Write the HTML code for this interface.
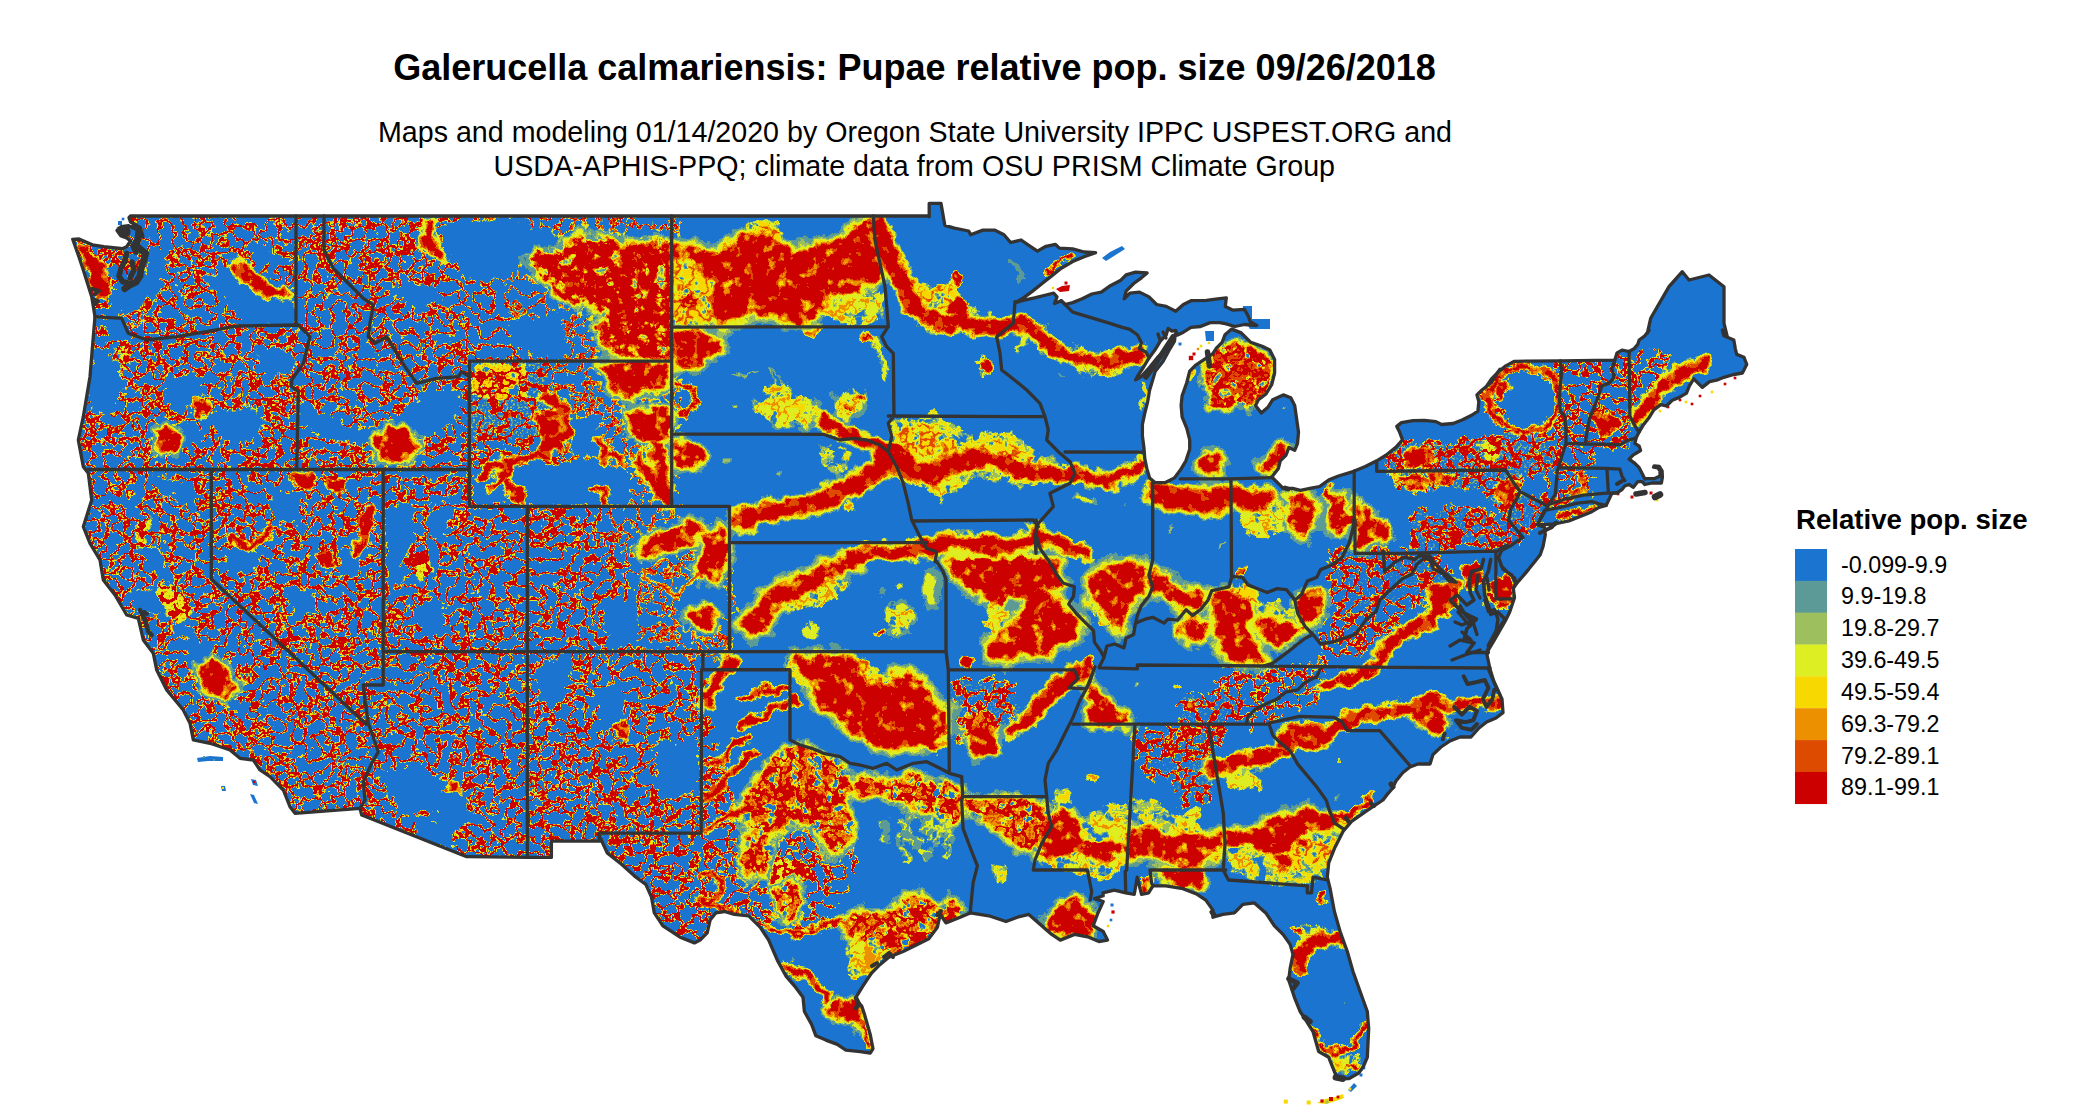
<!DOCTYPE html>
<html><head><meta charset="utf-8"><title>Galerucella calmariensis</title>
<style>
html,body{margin:0;padding:0;background:#fff}
body{width:2099px;height:1116px;overflow:hidden;position:relative;font-family:"Liberation Sans",sans-serif;color:#000}
svg{position:absolute;left:0;top:0}
.title{font:bold 36px "Liberation Sans",sans-serif;text-anchor:middle}
.sub{font:28.63px "Liberation Sans",sans-serif;text-anchor:middle}
.lh{font:bold 27.6px "Liberation Sans",sans-serif}
.lt{font:23.3px "Liberation Sans",sans-serif}
</style></head><body>
<svg width="2099" height="1116" viewBox="0 0 2099 1116">
<defs>
<clipPath id="us"><path d="M130.5,216 928.6,216 929.2,216.7 929.2,203.4 941,203.4 944.8,225.3 954.4,228.2 968.7,231 970.6,234.8 983,230.1 994.4,230.1 1004,234.8 1010.6,242.5 1021.1,240 1028.8,245.3 1037.4,251.1 1046,246.3 1055.5,244.4 1059.3,248.2 1072.7,248.8 1084.1,252 1095.6,252.6 1084.1,256.8 1072.7,261.6 1061.2,268.2 1051.7,275.9 1042.1,283.5 1032.6,291.1 1022.1,298.8 1015.4,302.6 1023.1,300.3 1034.5,297.8 1046,295 1053.6,293.1 1057,296.9 1054.5,303.5 1061.2,300.7 1065,304.5 1072.7,302.6 1082.2,298.8 1091.8,294 1101.3,292.1 1110.8,285.4 1120.4,280.6 1126.1,274.9 1135.6,272.1 1147.1,273 1141.4,277.8 1133.7,283.5 1126.1,291.1 1124.2,298.8 1129.9,293.1 1139.5,292.1 1149,296.9 1156.6,304.5 1166.2,306.4 1175.7,311.2 1183.4,304.5 1191,300.7 1206.3,300.3 1217.7,298.8 1226.3,297.8 1225.3,306.4 1233,310.2 1244.4,309.3 1248.2,316 1250.2,321.7 1256.8,325.5 1244.4,324.5 1234.9,326.5 1225.3,323.6 1219.6,322.6 1210.1,322.6 1200.5,326.5 1191,327.4 1183.4,332.2 1177.6,335 1175.7,330.3 1171.9,331.2 1168.1,328.4 1166.2,335 1160.5,340.8 1154.7,350.3 1149,357.9 1143.3,367.5 1137.6,376.1 1135.6,379.9 1141,376.8 1149.6,367.3 1157.3,357.7 1164.9,350.1 1170.6,341.5 1175.4,333.9 1174.4,341.5 1168.7,351 1163,361.5 1155.3,371.1 1152.5,380.6 1149.6,390.2 1147.7,401.6 1144.8,413.1 1142.4,424.5 1142.4,436 1143.9,447.4 1144.8,458.9 1146.8,468.4 1149.6,477.9 1155.3,482.7 1164.9,482.7 1174.4,477.9 1180.2,470.3 1185.9,460.8 1189.7,449.3 1189.7,439.8 1186.8,428.3 1182.1,416.9 1181.1,405.4 1182.1,395.9 1186.8,382.5 1189.7,371.1 1195.4,365.3 1204,359.6 1212.6,353.9 1216.4,348.2 1222.1,342.4 1225,334.8 1231.7,329.1 1241.2,332.9 1250.8,342.4 1262.2,346.3 1269.8,350.1 1274.6,359.6 1274.6,373 1271.8,384.4 1266,394 1258.4,399.7 1255.5,405.4 1261.3,413.1 1267.9,407.3 1272.7,399.7 1283.2,394.9 1290.8,397.8 1294.7,405.4 1296.6,418.8 1298.5,432.1 1297.5,443.6 1294.7,450.3 1288.9,447.4 1286.1,455 1280.3,460.8 1278.4,468.4 1271.8,477 1283.2,488.4 1292.7,488.4 1300.4,490.3 1309.9,488.4 1319.5,486.5 1329,479.8 1338.5,476 1353.8,471.3 1365.3,466.5 1376.7,460.8 1386.3,455 1395.8,447.4 1402.5,439.8 1399.6,432.1 1396.8,426.4 1401.5,422.6 1413,420.7 1424.4,420.3 1435.9,421.6 1441.6,424.5 1453.1,423.5 1462.6,419.7 1472.1,415 1477.9,411.1 1478.8,401.6 1476.9,394.9 1481.7,390.2 1491.2,382.5 1500,369.2 1485.7,387.4 1491.5,378.8 1498.6,371.6 1505.8,365.9 1514.4,361.3 1560.3,360.8 1614.8,360.1 1617,352.9 1622,350.1 1629.1,351.5 1634.2,348.6 1637.8,344.3 1639.2,340 1644.9,335.7 1649.2,330 1647.3,333.3 1650.7,318.3 1657.3,306.7 1669,286.7 1682.3,271.7 1689,280 1709,275 1724,286.7 1724,323.3 1727.3,336.7 1722.4,330 1723.8,335.7 1733.8,340 1735.3,348.6 1736.7,354.4 1743.9,357.2 1746.7,364.4 1742.4,373 1733.8,374.5 1723.8,377.3 1716.6,380.2 1709.5,381.6 1702.3,387.4 1693.7,378.8 1689.4,385.9 1686.5,393.1 1679.3,397.4 1672.2,400.3 1666.4,406 1660.7,404.6 1653.5,410.3 1649.2,417.5 1643.5,424.7 1639.2,431.8 1636.3,437.6 1634.9,443.3 1639.2,446.2 1640.6,450.5 1633.4,454.8 1629.1,459.1 1634.9,463.4 1639.2,467.7 1642.1,473.4 1644.9,479.1 1646.4,478.7 1654.2,478.7 1660,475.9 1660,470.8 1657.8,468 1653.5,467.2 1654.2,465.8 1659.3,466.5 1662.1,470.8 1662.4,477.3 1661.4,483 1652.1,483 1644.9,484.5 1642.1,481.6 1637.8,481.6 1633.4,487.3 1629.1,484.5 1624.8,485.9 1622,489.5 1617.7,492.3 1611.9,493.3 1606.2,505.3 1599,507.4 1591.9,511.7 1583.3,515.3 1568.9,521 1554.6,523.9 1544.5,524.6 1537.4,524.6 1544.5,527.5 1545.3,534.7 1543.1,546.1 1540.2,554.7 1534.5,561.9 1528.8,569.1 1521.6,577.7 1516.6,583.4 1513.3,588.2 1514.5,597.7 1509.7,612 1505,621.5 1495.4,638.2 1488.3,650.1 1487.1,654.9 1486.6,653 1490,669 1494,682 1500,695 1502,699 1503,712.6 1496,718 1486.6,722 1479,728 1471,737 1460,737 1450,741 1441,747 1433,754.6 1430,764 1418,764 1410,767 1402.7,772.7 1396,781 1392,789 1387,794.7 1383,800 1365.9,811.4 1351.6,821.4 1343,831.4 1334.4,848.6 1328.7,862.9 1327.3,877.2 1330.1,888.6 1334.4,911.5 1340.1,931.5 1347.3,951.5 1353,971.5 1360.1,991.5 1367.3,1011.5 1368.7,1028.7 1367.3,1057.3 1363,1067.3 1358.7,1073 1348.7,1078.7 1337.3,1078.7 1334.4,1071.6 1328.7,1057.3 1318.7,1051.6 1313,1031.6 1305.8,1020.1 1300.1,1011.5 1294.4,997.3 1288.7,980.1 1290.1,968.7 1293,954.4 1290.1,944.4 1283,934.4 1274.4,925.8 1265.8,912.9 1254.4,902.9 1242.9,904.3 1234.4,912.9 1222.9,914.4 1212.9,917.2 1212.9,910.1 1205.8,900.1 1197.2,894.3 1182.9,888.6 1165.8,885.8 1152.9,885.8 1148.6,892.9 1141.5,894.3 1137.2,877.2 1134.3,894.3 1125.7,892.9 1114.3,890.1 1102.9,892.9 1103.2,895.8 1094.6,898.6 1103.2,901.5 1097.4,914.4 1093.2,925.8 1103.2,931.5 1107.5,940.1 1098.9,941.5 1088.9,937.2 1074.6,934.4 1060.3,940.1 1051.7,934.4 1040.3,924.4 1028.8,914.4 1017.4,917.2 1006,921.5 988.8,915.8 970.2,912.9 960.2,917.2 945.9,922.9 940.2,914.4 937.4,927.2 928.8,938.7 917.3,944.4 903.1,951.5 888.8,957.2 880.2,964.4 871.6,973 868.7,977.2 863,985.8 855.9,997.3 857.3,1001.5 861.6,1005.8 864.5,1014.4 870.2,1034.4 873,1048.7 870.2,1053 860.2,1051.6 845.9,1050.1 837.3,1044.4 825.9,1040.1 815.9,1035.8 811.6,1024.4 804.4,1011.5 803,997.3 794.4,985.8 785.8,975.8 777.3,960.1 768.7,940.1 760.1,927.2 748.7,915.8 734.4,914.4 724.4,911.5 715.8,912.9 710.1,920.1 707.2,932.9 700.1,940.1 694.4,942.9 680.1,937.2 662.9,925.8 654.3,912.9 651.5,897.2 645.8,884.3 634.3,875.8 621.5,864.3 607.2,852.9 598.6,834.3 599.9,841.1 551.4,841.1 551.4,857.4 527.2,857.4 466.7,856.7 361.7,815 360,808.3 295,813.3 290,806.7 283.3,790 270,776.7 260,770 253.3,760 240,758.3 230,750 210,743.3 193.3,740 190,723.3 183.3,710 166.7,690 156.7,670 153.3,653.3 143.3,640 138.3,618.3 126.7,615 115,595 103.3,580 100,560 90,543.3 83.3,526.7 91.7,500 88.3,473.3 83.3,466.7 78.3,440 83.3,416.7 90,376.7 93.3,336.7 95,316.7 91.7,296.7 83.3,270 78.3,255 72.7,239.3 79,239 92.4,244.8 103.8,246.7 113.3,247.6 122.9,248.6 126.7,246.7 130.5,241 126.7,238 121,236 117,230.5 121,226.7 128.6,225.7 132.4,227.6 136,224.8 130.5,222 129,217.6Z"/></clipPath>
<filter id="F" x="0" y="0" width="2099" height="1116" filterUnits="userSpaceOnUse" color-interpolation-filters="sRGB">
<feGaussianBlur in="SourceGraphic" stdDeviation="1.6" result="bl0"/>
<feTurbulence type="fractalNoise" baseFrequency="0.07" numOctaves="4" seed="21" result="dn"/>
<feDisplacementMap in="bl0" in2="dn" scale="16" xChannelSelector="R" yChannelSelector="G" result="bl"/>
<feColorMatrix in="bl" type="matrix" values="1 0 0 0 0  1 0 0 0 0  1 0 0 0 0  0 0 0 0 1" result="f"/>
<feColorMatrix in="bl" type="matrix" values="0 1 0 0 0  0 1 0 0 0  0 1 0 0 0  0 0 0 0 1" result="a"/>
<feTurbulence type="fractalNoise" baseFrequency="0.075" numOctaves="3" seed="11" result="t1"/>
<feColorMatrix in="t1" type="matrix" values="2.6 0 0 0 -0.8  2.6 0 0 0 -0.8  2.6 0 0 0 -0.8  0 0 0 0 1" result="n1"/>
<feComponentTransfer in="n1" result="rg">
<feFuncR type="table" tableValues="0.00 0.00 0.00 0.00 0.00 0.00 0.00 0.00 0.00 0.00 0.00 0.00 0.00 0.00 0.00 0.00 0.00 0.00 0.00 0.00 0.00 0.00 0.00 0.00 0.00 0.00 0.00 0.00 0.00 0.00 0.00 0.00 0.00 0.00 0.00 0.00 0.00 0.00 0.00 0.00 0.00 0.00 0.00 0.00 0.00 0.00 0.00 0.00 0.00 0.00 0.00 0.00 0.00 0.00 0.00 0.00 0.00 0.00 0.00 0.00 0.00 0.00 0.00 0.00 0.00 0.00 0.00 0.00 0.00 0.01 0.05 0.09 0.13 0.18 0.22 0.26 0.30 0.35 0.38 0.39 0.40 0.42 0.43 0.44 0.45 0.46 0.47 0.48 0.49 0.51 0.52 0.53 0.54 0.55 0.56 0.57 0.60 0.64 0.69 0.74 0.79 0.83 0.88 0.93 0.97 1.00 1.00 1.00 1.00 1.00 1.00 1.00 1.00 1.00 1.00 1.00 1.00 1.00 1.00 1.00 1.00 1.00 1.00 1.00 1.00 1.00 1.00 1.00 1.00 1.00 1.00 1.00 1.00 1.00 1.00 1.00 1.00 1.00 1.00 1.00 1.00 1.00 1.00 1.00 1.00 1.00 1.00 1.00 1.00 1.00 1.00 0.97 0.93 0.88 0.83 0.79 0.74 0.69 0.64 0.60 0.57 0.56 0.55 0.54 0.53 0.52 0.51 0.49 0.48 0.47 0.46 0.45 0.44 0.43 0.42 0.40 0.39 0.38 0.35 0.30 0.26 0.22 0.18 0.13 0.09 0.05 0.01 0.00 0.00 0.00 0.00 0.00 0.00 0.00 0.00 0.00 0.00 0.00 0.00 0.00 0.00 0.00 0.00 0.00 0.00 0.00 0.00 0.00 0.00 0.00 0.00 0.00 0.00 0.00 0.00 0.00 0.00 0.00 0.00 0.00 0.00 0.00 0.00 0.00 0.00 0.00 0.00 0.00 0.00 0.00 0.00 0.00 0.00 0.00 0.00 0.00 0.00 0.00 0.00 0.00 0.00 0.00 0.00 0.00 0.00 0.00 0.00 0.00 0.00 0.00 0.00 0.00 0.00 0.00 0.00 0.00"/><feFuncG type="table" tableValues="0.00 0.00 0.00 0.00 0.00 0.00 0.00 0.00 0.00 0.00 0.00 0.00 0.00 0.00 0.00 0.00 0.00 0.00 0.00 0.00 0.00 0.00 0.00 0.00 0.00 0.00 0.00 0.00 0.00 0.00 0.00 0.00 0.00 0.00 0.00 0.00 0.00 0.00 0.00 0.00 0.00 0.00 0.00 0.00 0.00 0.00 0.00 0.00 0.00 0.00 0.00 0.00 0.00 0.00 0.00 0.00 0.00 0.00 0.00 0.00 0.00 0.00 0.00 0.00 0.00 0.00 0.00 0.00 0.00 0.01 0.05 0.09 0.13 0.18 0.22 0.26 0.30 0.35 0.38 0.39 0.40 0.42 0.43 0.44 0.45 0.46 0.47 0.48 0.49 0.51 0.52 0.53 0.54 0.55 0.56 0.57 0.60 0.64 0.69 0.74 0.79 0.83 0.88 0.93 0.97 1.00 1.00 1.00 1.00 1.00 1.00 1.00 1.00 1.00 1.00 1.00 1.00 1.00 1.00 1.00 1.00 1.00 1.00 1.00 1.00 1.00 1.00 1.00 1.00 1.00 1.00 1.00 1.00 1.00 1.00 1.00 1.00 1.00 1.00 1.00 1.00 1.00 1.00 1.00 1.00 1.00 1.00 1.00 1.00 1.00 1.00 0.97 0.93 0.88 0.83 0.79 0.74 0.69 0.64 0.60 0.57 0.56 0.55 0.54 0.53 0.52 0.51 0.49 0.48 0.47 0.46 0.45 0.44 0.43 0.42 0.40 0.39 0.38 0.35 0.30 0.26 0.22 0.18 0.13 0.09 0.05 0.01 0.00 0.00 0.00 0.00 0.00 0.00 0.00 0.00 0.00 0.00 0.00 0.00 0.00 0.00 0.00 0.00 0.00 0.00 0.00 0.00 0.00 0.00 0.00 0.00 0.00 0.00 0.00 0.00 0.00 0.00 0.00 0.00 0.00 0.00 0.00 0.00 0.00 0.00 0.00 0.00 0.00 0.00 0.00 0.00 0.00 0.00 0.00 0.00 0.00 0.00 0.00 0.00 0.00 0.00 0.00 0.00 0.00 0.00 0.00 0.00 0.00 0.00 0.00 0.00 0.00 0.00 0.00 0.00 0.00"/><feFuncB type="table" tableValues="0.00 0.00 0.00 0.00 0.00 0.00 0.00 0.00 0.00 0.00 0.00 0.00 0.00 0.00 0.00 0.00 0.00 0.00 0.00 0.00 0.00 0.00 0.00 0.00 0.00 0.00 0.00 0.00 0.00 0.00 0.00 0.00 0.00 0.00 0.00 0.00 0.00 0.00 0.00 0.00 0.00 0.00 0.00 0.00 0.00 0.00 0.00 0.00 0.00 0.00 0.00 0.00 0.00 0.00 0.00 0.00 0.00 0.00 0.00 0.00 0.00 0.00 0.00 0.00 0.00 0.00 0.00 0.00 0.00 0.01 0.05 0.09 0.13 0.18 0.22 0.26 0.30 0.35 0.38 0.39 0.40 0.42 0.43 0.44 0.45 0.46 0.47 0.48 0.49 0.51 0.52 0.53 0.54 0.55 0.56 0.57 0.60 0.64 0.69 0.74 0.79 0.83 0.88 0.93 0.97 1.00 1.00 1.00 1.00 1.00 1.00 1.00 1.00 1.00 1.00 1.00 1.00 1.00 1.00 1.00 1.00 1.00 1.00 1.00 1.00 1.00 1.00 1.00 1.00 1.00 1.00 1.00 1.00 1.00 1.00 1.00 1.00 1.00 1.00 1.00 1.00 1.00 1.00 1.00 1.00 1.00 1.00 1.00 1.00 1.00 1.00 0.97 0.93 0.88 0.83 0.79 0.74 0.69 0.64 0.60 0.57 0.56 0.55 0.54 0.53 0.52 0.51 0.49 0.48 0.47 0.46 0.45 0.44 0.43 0.42 0.40 0.39 0.38 0.35 0.30 0.26 0.22 0.18 0.13 0.09 0.05 0.01 0.00 0.00 0.00 0.00 0.00 0.00 0.00 0.00 0.00 0.00 0.00 0.00 0.00 0.00 0.00 0.00 0.00 0.00 0.00 0.00 0.00 0.00 0.00 0.00 0.00 0.00 0.00 0.00 0.00 0.00 0.00 0.00 0.00 0.00 0.00 0.00 0.00 0.00 0.00 0.00 0.00 0.00 0.00 0.00 0.00 0.00 0.00 0.00 0.00 0.00 0.00 0.00 0.00 0.00 0.00 0.00 0.00 0.00 0.00 0.00 0.00 0.00 0.00 0.00 0.00 0.00 0.00 0.00 0.00"/>
</feComponentTransfer>
<feTurbulence type="fractalNoise" baseFrequency="0.45" numOctaves="1" seed="5" result="t2"/>
<feColorMatrix in="t2" type="matrix" values="3 0 0 0 -1  3 0 0 0 -1  3 0 0 0 -1  0 0 0 0 1" result="n2"/>
<feComposite in="rg" in2="n2" operator="arithmetic" k1="0" k2="1" k3="0.3" k4="-0.15" result="n"/>
<feComposite in="a" in2="n" operator="arithmetic" k1="1" k2="0" k3="0" k4="0" result="an"/>
<feComposite in="f" in2="an" operator="arithmetic" k1="0" k2="0.5" k3="0.5" k4="0.25" result="v"/>
<feColorMatrix in="bl" type="matrix" values="0 0 1 0 0  0 0 1 0 0  0 0 1 0 0  0 0 0 0 1" result="m"/>
<feTurbulence type="fractalNoise" baseFrequency="0.09" numOctaves="3" seed="33" result="t3"/>
<feColorMatrix in="t3" type="matrix" values="1 0 0 0 0  1 0 0 0 0  1 0 0 0 0  0 0 0 0 1" result="t3g"/>
<feComponentTransfer in="t3g" result="n3">
<feFuncR type="table" tableValues="0 0 0 0 0 0 0.35 0.8 1 1 1"/><feFuncG type="table" tableValues="0 0 0 0 0 0 0.35 0.8 1 1 1"/><feFuncB type="table" tableValues="0 0 0 0 0 0 0.35 0.8 1 1 1"/><feFuncA type="table" tableValues="1 1"/>
</feComponentTransfer>
<feComposite in="m" in2="n3" operator="arithmetic" k1="1" k2="0" k3="0" k4="0" result="mn"/>
<feComponentTransfer in="mn" result="mnc"><feFuncR type="table" tableValues="1 0"/><feFuncG type="table" tableValues="1 0"/><feFuncB type="table" tableValues="1 0"/></feComponentTransfer>
<feComposite in="v" in2="mnc" operator="arithmetic" k1="0" k2="1" k3="0.5" k4="-0.5" result="v2"/>
<feComponentTransfer in="v2" result="c">
<feFuncR type="discrete" tableValues="0.106 0.106 0.106 0.106 0.106 0.106 0.106 0.106 0.106 0.106 0.106 0.106 0.106 0.106 0.106 0.106 0.106 0.106 0.106 0.106 0.106 0.357 0.357 0.616 0.867 0.867 0.867 0.969 0.969 0.925 0.925 0.867 0.867 0.867 0.804 0.804 0.804 0.804 0.804 0.804 0.804 0.804 0.804 0.804 0.804 0.804 0.804 0.804 0.804 0.804"/>
<feFuncG type="discrete" tableValues="0.459 0.459 0.459 0.459 0.459 0.459 0.459 0.459 0.459 0.459 0.459 0.459 0.459 0.459 0.459 0.459 0.459 0.459 0.459 0.459 0.459 0.604 0.604 0.749 0.933 0.933 0.933 0.847 0.847 0.565 0.565 0.294 0.294 0.294 0.000 0.000 0.000 0.000 0.000 0.000 0.000 0.000 0.000 0.000 0.000 0.000 0.000 0.000 0.000 0.000"/>
<feFuncB type="discrete" tableValues="0.816 0.816 0.816 0.816 0.816 0.816 0.816 0.816 0.816 0.816 0.816 0.816 0.816 0.816 0.816 0.816 0.816 0.816 0.816 0.816 0.816 0.588 0.588 0.369 0.133 0.133 0.133 0.000 0.000 0.000 0.000 0.000 0.000 0.000 0.000 0.000 0.000 0.000 0.000 0.000 0.000 0.000 0.000 0.000 0.000 0.000 0.000 0.000 0.000 0.000"/>
</feComponentTransfer>
<feComposite in="c" in2="SourceGraphic" operator="in"/>
</filter>
</defs>
<text x="914.5" y="80" class="title">Galerucella calmariensis: Pupae relative pop. size 09/26/2018</text>
<text x="915" y="142" class="sub">Maps and modeling 01/14/2020 by Oregon State University IPPC USPEST.ORG and</text>
<text x="914.3" y="176.3" class="sub">USDA-APHIS-PPQ; climate data from OSU PRISM Climate Group</text>
<g clip-path="url(#us)">
<g filter="url(#F)" stroke-linecap="round" stroke-linejoin="round">
<rect x="0" y="0" width="2099" height="1116" fill="rgb(0,0,0)"/>
<path d="M60,200 470,200 500,300 540,361 545,430 600,506 625,560 640,651 700,660 722,760 745,840 765,900 755,970 700,1000 560,900 300,900 60,600Z" fill="rgb(26,255,0)"/>
<path d="M470,200 680,200 680,520 735,520 735,660 640,655 625,560 600,506 545,430 540,361 500,300Z" fill="rgb(5,217,0)"/>
<path d="M470,360 545,360 560,430 540,440 470,440Z" fill="rgb(76,255,0)"/>
<path d="M956.7,681.7 1010,681.7 1013.3,706.7 1000,740 955,740Z" fill="rgb(64,230,0)" stroke="rgb(64,230,0)" stroke-width="8"/>
<path d="M1320,633.3 1340,610 1365,585 1381.7,568.3 1406.7,560 1439.8,560 1439.8,576.7 1423.3,593.3 1398.3,618.3 1373.3,640 1348.3,660 1323.3,663.3Z" fill="rgb(31,255,0)" stroke="rgb(31,255,0)" stroke-width="6"/>
<path d="M1190,726.7 1206.7,696.7 1223.3,670 1256.7,666.7 1323.3,666.7 1320,680 1290,693.3 1265,710 1248.3,726.7Z" fill="rgb(31,255,0)" stroke="rgb(31,255,0)" stroke-width="6"/>
<path d="M1256.7,706.7 1323.3,676.7 1330,686.7 1298.3,710 1273.3,720 1240,726.7Z" fill="rgb(13,230,0)" stroke="rgb(13,230,0)" stroke-width="6"/>
<path d="M735.7,830.1 852.5,820.6 852.5,863.5 833.5,911.1 790.6,935 747.7,911.1 735.7,873Z" fill="rgb(26,230,0)" stroke="rgb(26,230,0)" stroke-width="8"/>
<path d="M1133.7,730 1200,730 1200,782.4 1152.8,777.7 1136.1,758.6Z" fill="rgb(51,255,0)" stroke="rgb(51,255,0)" stroke-width="6"/>
<path d="M1180,700 1242,700 1227.7,723.8 1211,759.6 1208.6,800.1 1180,804.9Z" fill="rgb(64,255,0)" stroke="rgb(64,255,0)" stroke-width="6"/>
<path d="M1477.8,368.6 1511.1,361.4 1558.8,361.4 1630.3,354.3 1637.4,349.5 1668.4,354.3 1663.7,399.6 1637.4,418.6 1630.3,442.5 1592.2,449.6 1592.2,492.5 1558.8,497.3 1544.5,473.5 1554,454.4 1539.7,435.3 1511.1,432.9 1487.3,418.6Z" fill="rgb(31,255,0)" stroke="rgb(31,255,0)" stroke-width="4"/>
<path d="M1384.8,459.2 1401.5,442.5 1430.1,440.1 1453.9,447.2 1473,440.1 1496.8,432.9 1525.4,435.3 1544.5,444.9 1554,459.2 1544.5,473.5 1515.9,475.8 1520.7,506.8 1511.1,521.1 1496.8,506.8 1482.5,487.8 1453.9,487.8 1425.3,487.8 1401.5,487.8 1389.6,473.5Z" fill="rgb(76,255,0)" stroke="rgb(76,255,0)" stroke-width="4"/>
<path d="M1408.6,516.4 1463.5,506.8 1511.1,521.1 1520.7,537.8 1506.4,549.7 1463.5,545 1425.3,554.5 1408.6,545Z" fill="rgb(64,255,0)" stroke="rgb(64,255,0)" stroke-width="4"/>
<path d="M778.6,808.6 800.1,803.9 819.2,808.6 823.9,825.3 800.1,830.1 781,825.3Z" fill="rgb(0,0,0)"/>
<path d="M107.7,290.6 122,314.4 141,304.9 160.1,285.8 164.9,262 155.3,247.7 148.2,262 141,281 122,290.6Z" fill="rgb(0,0,0)" stroke="rgb(0,0,0)" stroke-width="4"/>
<path d="M226.8,271.5 241.1,262 257.8,276.3 274.5,281 284,295.3 293.6,304.9 293.6,323.9 245.9,323.9 234,309.6 226.8,295.3 212.5,290.6 207.8,276.3Z" fill="rgb(0,0,0)" stroke="rgb(0,0,0)" stroke-width="4"/>
<path d="M248.3,245.3 265,247.7 274.5,257.2 260.2,259.6Z" fill="rgb(0,0,0)" stroke="rgb(0,0,0)" stroke-width="4"/>
<path d="M98.1,319.2 122,319.2 131.5,338.2 107.7,333.5Z" fill="rgb(0,0,0)" stroke="rgb(0,0,0)" stroke-width="4"/>
<path d="M95.7,352.5 114.8,366.8 119.6,390.7 107.7,414.5 93.4,409.7 91,381.1Z" fill="rgb(0,0,0)" stroke="rgb(0,0,0)" stroke-width="4"/>
<path d="M167.2,381.1 193.5,376.4 203,390.7 188.7,405 169.6,400.2Z" fill="rgb(0,0,0)" stroke="rgb(0,0,0)" stroke-width="4"/>
<path d="M212.5,414.5 250.7,409.7 265,424 250.7,438.3 222.1,438.3Z" fill="rgb(0,0,0)" stroke="rgb(0,0,0)" stroke-width="4"/>
<path d="M257.8,357.3 288.8,352.5 288.8,371.6 265,376.4Z" fill="rgb(0,0,0)" stroke="rgb(0,0,0)" stroke-width="4"/>
<path d="M160.1,428.8 193.5,424 203,438.3 174.4,447.9Z" fill="rgb(0,0,0)" stroke="rgb(0,0,0)" stroke-width="4"/>
<path d="M412.7,405 431.8,390.7 450.8,390.7 460.4,405 446.1,424 427,433.6 408,428.8 393.7,424Z" fill="rgb(0,0,0)" stroke="rgb(0,0,0)" stroke-width="4"/>
<path d="M300.7,405 322.2,414.5 346,428.8 377,428.8 393.7,433.6 369.8,443.1 334.1,438.3 303.1,424Z" fill="rgb(0,0,0)" stroke="rgb(0,0,0)" stroke-width="4"/>
<path d="M441.3,228.6 465.1,223.8 500.9,221.4 531.9,228.6 560,238.1 560,252.4 527.1,257.2 512.8,271.5 489,278.6 465.1,271.5 450.8,252.4Z" fill="rgb(0,0,0)" stroke="rgb(0,0,0)" stroke-width="4"/>
<path d="M393.7,290.6 422.2,285.8 441.3,300.1 417.5,309.6Z" fill="rgb(0,0,0)" stroke="rgb(0,0,0)" stroke-width="4"/>
<path d="M512.8,323.9 560,314.4 560,357.3 527.1,352.5 512.8,343Z" fill="rgb(0,0,0)" stroke="rgb(0,0,0)" stroke-width="4"/>
<path d="M274.5,493.4 298.3,495.7 298.3,522 276.9,519.6Z" fill="rgb(0,0,0)" stroke="rgb(0,0,0)" stroke-width="4"/>
<path d="M226.8,550.6 255.4,550.6 255.4,569.6 229.2,569.6Z" fill="rgb(0,0,0)" stroke="rgb(0,0,0)" stroke-width="4"/>
<path d="M341.2,550.6 360.3,552.9 357.9,574.4 341.2,572Z" fill="rgb(0,0,0)" stroke="rgb(0,0,0)" stroke-width="4"/>
<path d="M386.5,507.7 410.3,507.7 410.3,541 393.7,593.5 386.5,541Z" fill="rgb(0,0,0)" stroke="rgb(0,0,0)" stroke-width="4"/>
<path d="M431.8,512.4 446.1,514.8 443.7,531.5 431.8,531.5Z" fill="rgb(0,0,0)" stroke="rgb(0,0,0)" stroke-width="4"/>
<path d="M479.4,474.3 560,476.7 560,495.7 484.2,495.7Z" fill="rgb(0,0,0)" stroke="rgb(0,0,0)" stroke-width="4"/>
<path d="M288.8,593.5 307.9,588.7 312.6,612.5 293.6,614.9Z" fill="rgb(0,0,0)" stroke="rgb(0,0,0)" stroke-width="4"/>
<path d="M417.5,607.8 436.5,603 441.3,626.8 422.2,626.8Z" fill="rgb(0,0,0)" stroke="rgb(0,0,0)" stroke-width="4"/>
<path d="M1513.5,497.3 1544.5,492.5 1544.5,525.9 1520.7,535.4Z" fill="rgb(64,255,0)" stroke="rgb(64,255,0)" stroke-width="4"/>
<path d="M383.3,773.3 416.7,766.7 443.3,780 436.7,806.7 400,813.3Z" fill="rgb(0,0,0)" stroke="rgb(0,0,0)" stroke-width="4"/>
<path d="M436.7,800 463.3,793.3 470,820 443.3,826.7Z" fill="rgb(0,0,0)" stroke="rgb(0,0,0)" stroke-width="4"/>
<path d="M536.7,666.7 570,660 563.3,693.3 540,700Z" fill="rgb(0,0,0)" stroke="rgb(0,0,0)" stroke-width="4"/>
<path d="M596.7,693.3 616.7,686.7 623.3,720 603.3,726.7Z" fill="rgb(0,0,0)" stroke="rgb(0,0,0)" stroke-width="4"/>
<path d="M656.7,746.7 696.7,740 696.7,786.7 663.3,793.3Z" fill="rgb(0,0,0)" stroke="rgb(0,0,0)" stroke-width="4"/>
<path d="M603.3,606.7 630,600 636.7,640 610,646.7Z" fill="rgb(0,0,0)" stroke="rgb(0,0,0)" stroke-width="4"/>
<path d="M676.7,580 716.7,573.3 730,613.3 683.3,620Z" fill="rgb(0,0,0)" stroke="rgb(0,0,0)" stroke-width="4"/>
<path d="M416.7,820 456.7,826.7 450,846.7 423.3,843.3Z" fill="rgb(0,0,0)" stroke="rgb(0,0,0)" stroke-width="4"/>
<path d="M133.3,593.3 160,586.7 160,613.3 136.7,610Z" fill="rgb(0,0,0)" stroke="rgb(0,0,0)" stroke-width="4"/>
<path d="M1501.6,387.7 1515.9,375.7 1539.7,375.7 1551.6,390 1549.3,411.5 1535,425.8 1515.9,423.4 1504,409.1Z" fill="rgb(0,0,0)" stroke="rgb(0,0,0)" stroke-width="4"/>
<path d="M1330,549.7 1387.2,549.7 1430.1,554.5 1453.9,578.3 1425.3,606 1330,606Z" fill="rgb(51,255,0)" stroke="rgb(51,255,0)" stroke-width="4"/>
<path d="M475.4,473.6 513.6,471.7 551.8,466 589.9,462.1 628.1,473.6 628.1,502.2 551.8,504.1 475.4,502.2Z" fill="rgb(0,0,0)" stroke="rgb(0,0,0)" stroke-width="2"/>
<path d="M570.8,420.2 597.6,420.2 597.6,454.5 574.7,454.5Z" fill="rgb(0,0,0)" stroke="rgb(0,0,0)" stroke-width="2"/>
<path d="M155.3,481.4 174.4,488.6 188.7,498.1" stroke="rgb(0,0,0)" stroke-width="16" fill="none"/>
<path d="M152.9,555.3 162.5,572 164.9,583.9" stroke="rgb(0,0,0)" stroke-width="14" fill="none"/>
<path d="M162.5,603 174.4,614.9 183.9,631.6 193.5,645.9 203,660.2" stroke="rgb(0,0,0)" stroke-width="13" fill="none"/>
<path d="M212.5,674.5 226.8,698.3 241.1,712.6" stroke="rgb(0,0,0)" stroke-width="10" fill="none"/>
<path d="M138.6,495.7 131.5,507.7" stroke="rgb(0,0,0)" stroke-width="10" fill="none"/>
<path d="M625.9,278.6 645,276.3 647.3,288.2 630.7,290.6Z" fill="rgb(26,76,0)"/>
<path d="M764.3,865.8 781,858.7 802.5,863.5 812,877.8 795.3,892.1 778.6,896.8 766.7,887.3Z" fill="rgb(140,230,0)" stroke="rgb(140,230,0)" stroke-width="2"/>
<path d="M117.2,347.8 129.1,345.4 131.5,364.4 119.6,366.8Z" fill="rgb(140,230,0)" stroke="rgb(140,230,0)" stroke-width="2"/>
<path d="M474.7,366.8 503.3,366.8 503.3,390.7 484.2,393Z" fill="rgb(140,230,0)" stroke="rgb(140,230,0)" stroke-width="2"/>
<path d="M157.7,583.9 172,588.7 183.9,603 193.5,612.5 179.2,622.1 164.9,612.5Z" fill="rgb(140,230,0)" stroke="rgb(140,230,0)" stroke-width="2"/>
<path d="M136.3,522 145.8,517.2 148.2,538.6 138.6,550.6Z" fill="rgb(140,230,0)" stroke="rgb(140,230,0)" stroke-width="2"/>
<path d="M410.3,555.3 424.6,550.6 431.8,569.6 417.5,579.2Z" fill="rgb(140,230,0)" stroke="rgb(140,230,0)" stroke-width="2"/>
<path d="M690,606.7 720,610 716.7,626.7 693.3,625Z" fill="rgb(140,230,0)" stroke="rgb(140,230,0)" stroke-width="2"/>
<path d="M1477.8,444.9 1496.8,440.1 1501.6,454.4 1487.3,459.2Z" fill="rgb(140,230,0)" stroke="rgb(140,230,0)" stroke-width="2"/>
<path d="M1482.5,583.1 1494.4,580.7 1494.4,602.2 1484.9,602.2Z" fill="rgb(140,230,0)" stroke="rgb(140,230,0)" stroke-width="2"/>
<path d="M833.3,306.7 850,303.3 863.3,316.7 840,318.3Z" fill="rgb(96,0,0)"/>
<path d="M878,223.3 883.3,245 893.3,265 905,286.7 911.7,305" stroke="rgb(96,0,0)" stroke-width="30.04" fill="none"/>
<path d="M911.7,305 926.7,319.3 943.3,323.3 960,320 976.7,326 996.7,327.3 1013.3,324 1030,326.7 1040,336.7 1053.3,348.3 1070,356.7 1090,361.7 1106.7,363.3 1123.3,358.3 1140,354" stroke="rgb(96,0,0)" stroke-width="24.92" fill="none"/>
<path d="M871.7,336.7 880,356.7 886.7,376.7" stroke="rgb(96,0,0)" stroke-width="7.5" fill="none"/>
<path d="M1013.3,263.3 1023.3,273.3 1020,280" stroke="rgb(96,0,0)" stroke-width="9" fill="none"/>
<path d="M1056.7,370 1070,371.7 1068.3,380 1058.3,378.3Z" fill="rgb(96,0,0)"/>
<path d="M753.3,406.7 783.3,386.7 820,403.3 806.7,430 766.7,420Z" fill="rgb(96,0,0)" stroke="rgb(96,0,0)" stroke-width="3.6"/>
<path d="M833.3,396.7 866.7,390 866.7,416.7 840,423.3Z" fill="rgb(96,0,0)" stroke="rgb(96,0,0)" stroke-width="4.8"/>
<path d="M823.3,420 840,430 856.7,438.3 873.3,443.3 886.7,453.3" stroke="rgb(96,0,0)" stroke-width="25.44" fill="none"/>
<path d="M886.7,453.3 880,470 863.3,480 843.3,490 823.3,500 800,505 776.7,510 756.7,515 740,520" stroke="rgb(96,0,0)" stroke-width="32" fill="none"/>
<path d="M1056.7,475 1073.3,473.3 1093.3,478.3 1113.3,480 1130,473.3 1141.7,465" stroke="rgb(96,0,0)" stroke-width="23.6" fill="none"/>
<path d="M1073.3,496.7 1093.3,503.3" stroke="rgb(96,0,0)" stroke-width="9" fill="none"/>
<path d="M773.3,473.3 783.3,473.3" stroke="rgb(96,0,0)" stroke-width="4.5" fill="none"/>
<path d="M920,548.3 940,543.3 966.7,541.7 993.3,546.7 1020,543.3 1040,536.7" stroke="rgb(96,0,0)" stroke-width="28.72" fill="none"/>
<path d="M1040,536.7 1056.7,540 1073.3,550 1086.7,551.7" stroke="rgb(96,0,0)" stroke-width="22.16" fill="none"/>
<path d="M850,556.7 880,551.7 906.7,553.3" stroke="rgb(96,0,0)" stroke-width="24" fill="none"/>
<path d="M1205,376.7 1213.3,356.7 1223.3,346.7 1240,346 1258.3,351.7 1270,363.3 1270,381.7 1260,396.7 1246.7,403.3 1230,408.3 1213.3,403.3 1206.7,390Z" fill="rgb(96,0,0)" stroke="rgb(96,0,0)" stroke-width="17.52"/>
<path d="M1200,466.7 1210,453.3 1220,456.7 1216.7,470 1206.7,473.3Z" fill="rgb(96,0,0)" stroke="rgb(96,0,0)" stroke-width="20.96"/>
<path d="M1260,466.7 1273.3,453.3 1286.7,446.7 1283.3,456.7 1270,470Z" fill="rgb(96,0,0)" stroke="rgb(96,0,0)" stroke-width="20.96"/>
<path d="M1156.7,495 1180,498.3 1206.7,501.7 1226.7,498.3" stroke="rgb(96,0,0)" stroke-width="37.52" fill="none"/>
<path d="M1233.3,498.3 1253.3,500 1266.7,498.3" stroke="rgb(96,0,0)" stroke-width="33.84" fill="none"/>
<path d="M1290,500 1303.3,493.3 1313.3,503.3 1311.7,523.3 1303.3,536.7 1293.3,530Z" fill="rgb(96,0,0)" stroke="rgb(96,0,0)" stroke-width="22.4"/>
<path d="M1263.3,510 1280,510 1276.7,526.7 1263.3,523.3Z" fill="rgb(96,0,0)"/>
<path d="M741.7,623.3 750,613.3 760,606.7 766.7,593.3 781.7,586.7 795,576.7 810,575 818.3,566.7 833.3,563.3 846.7,560 856.7,560 856.7,566.7 846.7,570 833.3,578.3 818.3,585 810,595 795,598.3 781.7,601.7 773.3,615 765,626.7 755,633.3 746.7,631.7Z" fill="rgb(96,0,0)" stroke="rgb(96,0,0)" stroke-width="23.84"/>
<path d="M883.3,606.7 903.3,598.3 918.3,615 910,633.3 890,635Z" fill="rgb(96,0,0)" stroke="rgb(96,0,0)" stroke-width="4.8"/>
<path d="M920,570 936.7,566.7 943.3,586.7 940,613.3 926.7,610 921.7,590Z" fill="rgb(96,0,0)" stroke="rgb(96,0,0)" stroke-width="4.8"/>
<path d="M878.3,592.5 878.7,592.8" stroke="rgb(96,0,0)" stroke-width="12" fill="none"/>
<path d="M948.3,560 1056.7,560 1056.7,570 1061.7,583.3 1053.3,593.3 1045,586.7 1033.3,590 1023.3,598.3 1013.3,593.3 1000,601.7 990,600 980,593.3 970,590 961.7,580 955,570Z" fill="rgb(96,0,0)" stroke="rgb(96,0,0)" stroke-width="22.4"/>
<path d="M986.7,650 1000,633.3 1013.3,626.7 1023.3,610 1030,593.3 1040,590 1053.3,598.3 1066.7,610 1080,623.3 1073.3,638.3 1056.7,643.3 1043.3,653.3 1023.3,653.3 1006.7,660 993.3,658.3Z" fill="rgb(96,0,0)" stroke="rgb(96,0,0)" stroke-width="25.28"/>
<path d="M996.7,581.7 1020,580 1021.7,610 1006.7,616.7 996.7,603.3Z" fill="rgb(96,0,0)"/>
<path d="M795,655 810,660 820,656.7 833.3,655 846.7,658.3 856.7,668.3 863.3,680 873.3,686.7 886.7,683.3 895,675 910,673.3 920,683.3 928.3,693.3 936.7,705 946.7,710 946.7,726.7 936.7,736.7 923.3,745.8 873.3,745.8 866.7,736.7 853.3,730 840,720 830,710 818.3,703.3 813.3,690 806.7,676.7 796.7,666.7Z" fill="rgb(96,0,0)" stroke="rgb(96,0,0)" stroke-width="23.84"/>
<path d="M883.3,686.7 898.3,690 900,701.7 886.7,701.7Z" fill="rgb(96,0,0)"/>
<path d="M1013.3,728.3 1026.7,720 1038.3,708.3 1050,695 1061.7,683.3 1075,675" stroke="rgb(96,0,0)" stroke-width="25.44" fill="none"/>
<path d="M1090,581.7 1100,570 1113.3,565 1130,563.3 1145,566.7 1146.7,580 1140,593.3 1130,603.3 1123.3,616.7 1120,630 1113.3,623.3 1106.7,610 1096.7,603.3 1090,601.7Z" fill="rgb(96,0,0)" stroke="rgb(96,0,0)" stroke-width="23.84"/>
<path d="M1151.7,570 1160,571.7 1170,580 1176.7,588.3 1185,591.7 1196.7,590 1206.7,593.3 1200,605 1190,611.7 1180,606.7 1170,600 1160,593.3 1151.7,586.7Z" fill="rgb(96,0,0)" stroke="rgb(96,0,0)" stroke-width="22.4"/>
<path d="M1213.3,598.3 1223.3,593.3 1236.7,595 1246.7,601.7 1250,613.3 1246.7,626.7 1250,638.3 1258.3,650 1263.3,660 1250,663.3 1236.7,660 1223.3,653.3 1220,640 1216.7,626.7 1213.3,613.3Z" fill="rgb(96,0,0)" stroke="rgb(96,0,0)" stroke-width="23.84"/>
<path d="M1181.7,626.7 1190,618.3 1203.3,623.3 1206.7,633.3 1196.7,640 1185,636.7Z" fill="rgb(96,0,0)" stroke="rgb(96,0,0)" stroke-width="22.4"/>
<path d="M1256.7,623.3 1263.3,615 1273.3,618.3 1281.7,626.7 1290,623.3 1300,630 1290,638.3 1276.7,643.3 1265,638.3Z" fill="rgb(96,0,0)" stroke="rgb(96,0,0)" stroke-width="22.4"/>
<path d="M1296.7,603.3 1305,595 1316.7,593.3 1323.3,603.3 1320,616.7 1310,623.3 1300,616.7Z" fill="rgb(96,0,0)" stroke="rgb(96,0,0)" stroke-width="19.52"/>
<path d="M1381,652.5 1395.3,639.4 1409.6,627.5 1428.7,623.9 1438.2,612 1435.8,600.1 1445.4,590.6 1454.9,583.4" stroke="rgb(96,0,0)" stroke-width="23.08" fill="none"/>
<path d="M1323.3,686.7 1340,680 1356.7,676.7 1373.3,666.7 1383.3,660" stroke="rgb(96,0,0)" stroke-width="19.8" fill="none"/>
<path d="M1415,710 1431.7,726.7 1439.8,730" stroke="rgb(96,0,0)" stroke-width="19.8" fill="none"/>
<path d="M1290,733.3 1306.7,726.7 1323.3,736.7 1340,726.7 1343.3,720" stroke="rgb(96,0,0)" stroke-width="20.72" fill="none"/>
<path d="M1090,686.7 1100,693.3 1111.7,706.7 1126.7,713.3 1130,723.3 1090,723.3Z" fill="rgb(96,0,0)" stroke="rgb(96,0,0)" stroke-width="20.96"/>
<path d="M742.9,806.3 754.8,784.8 778.6,753.8 795.3,746.7 814.4,751.4 833.5,761 843,772.9 852.5,792 843,808.6 852.5,825.3 847.8,844.4 833.5,853.9 823.9,837.2 814.4,825.3 795.3,820.6 778.6,830.1 762,834.9 747.7,825.3Z" fill="rgb(96,0,0)" stroke="rgb(96,0,0)" stroke-width="18.96"/>
<path d="M781,780 800.1,777.7 804.9,792 785.8,794.3Z" fill="rgb(96,0,0)"/>
<path d="M740.5,858.7 750,832.5 766.7,837.2 771.5,853.9 762,873 747.7,877.8Z" fill="rgb(96,0,0)" stroke="rgb(96,0,0)" stroke-width="17.52"/>
<path d="M776.3,887.3 795.3,882.5 800.1,901.6 790.6,920.7 778.6,911.1Z" fill="rgb(96,0,0)" stroke="rgb(96,0,0)" stroke-width="16.08"/>
<path d="M854.9,782.4 876.4,777.7 895.4,784.8 914.5,775.3 933.6,784.8 959.8,789.6 959.8,813.4 947.9,820.6 928.8,811 909.7,806.3 890.7,796.7 871.6,792 857.3,794.3Z" fill="rgb(96,0,0)" stroke="rgb(96,0,0)" stroke-width="20.4"/>
<path d="M874,734.8 890.7,739.5 914.5,737.1 938.3,744.3" stroke="rgb(96,0,0)" stroke-width="18.88" fill="none"/>
<path d="M966.9,730 995.5,730 993.1,751.4 974.1,753.8Z" fill="rgb(96,0,0)" stroke="rgb(96,0,0)" stroke-width="18.08"/>
<path d="M964.5,799.1 986,801.5 1009.8,799.1 1033.7,801.5 1048,813.4 1050.3,830.1 1033.7,844.4 1019.4,849.2 1009.8,834.9 995.5,825.3 981.2,813.4 964.5,808.6Z" fill="rgb(96,0,0)" stroke="rgb(96,0,0)" stroke-width="20.4"/>
<path d="M1038.4,853.9 1045.6,830.1 1052.7,815.8 1067,811 1076.5,825.3 1081.3,839.6 1100.4,844.4 1119.4,842 1126.6,849.2 1105.1,858.7 1081.3,853.9 1057.5,856.3Z" fill="rgb(96,0,0)" stroke="rgb(96,0,0)" stroke-width="19.52"/>
<path d="M1129,832.5 1148,825.3 1167.1,834.9 1200,844.4 1200,863.5 1167.1,858.7 1143.3,853.9 1129,858.7Z" fill="rgb(96,0,0)" stroke="rgb(96,0,0)" stroke-width="22.4"/>
<path d="M843,920.7 862.1,911.1 881.1,915.9 905,901.6 924,896.8 938.3,911.1 952.6,901.6 962.2,911.1 943.1,927.8 928.8,939.7 909.7,949.3 890.7,954 876.4,944.5 862.1,935 847.8,932.6Z" fill="rgb(96,0,0)" stroke="rgb(96,0,0)" stroke-width="18.96"/>
<path d="M1048,920.7 1057.5,906.4 1071.8,896.8 1086.1,906.4 1095.6,918.3 1090.8,932.6 1071.8,937.3 1057.5,935Z" fill="rgb(96,0,0)" stroke="rgb(96,0,0)" stroke-width="19.52"/>
<path d="M876.4,820.6 914.5,815.8 957.4,825.3 952.6,858.7 914.5,863.5 881.1,844.4Z" fill="rgb(96,26,153)"/>
<path d="M1157.6,870.6 1200,868.2 1200,884.9 1167.1,882.5Z" fill="rgb(96,0,0)" stroke="rgb(96,0,0)" stroke-width="18.08"/>
<path d="M1211,769.1 1227.7,764.3 1246.7,759.6 1265.8,757.2 1282.5,750 1294.4,740.5" stroke="rgb(96,0,0)" stroke-width="24" fill="none"/>
<path d="M1282.5,738.1 1299.2,740.5 1313.5,745.3 1327.8,735.7 1339.7,726.2 1346.8,721.4 1361.1,716.7 1380.2,711.9 1399.3,709.5 1418.3,704.8 1432.6,700" stroke="rgb(96,0,0)" stroke-width="21.64" fill="none"/>
<path d="M1413.6,714.3 1427.9,707.1 1442.2,714.3 1449.3,723.8 1437.4,728.6 1423.1,723.8Z" fill="rgb(96,0,0)" stroke="rgb(96,0,0)" stroke-width="19.52"/>
<path d="M1418.3,702.4 1454.1,704.8 1501.7,702.4" stroke="rgb(96,0,0)" stroke-width="18.88" fill="none"/>
<path d="M1222.9,833.5 1242,833.5 1258.6,828.7 1275.3,819.2 1292,814.4 1313.5,809.6 1332.5,816.8 1342.1,826.3 1332.5,828.7 1313.5,828.7 1303.9,833.5 1289.6,843 1275.3,852.5 1261,847.8 1242,843 1225.3,845.4Z" fill="rgb(96,0,0)" stroke="rgb(96,0,0)" stroke-width="20.96"/>
<path d="M1180,833.5 1199.1,840.6 1218.1,833.5 1220.5,847.8 1203.8,862.1 1180,866.8Z" fill="rgb(96,0,0)" stroke="rgb(96,0,0)" stroke-width="20.96"/>
<path d="M1180,871.6 1203.8,874 1201.4,888.3 1180,888.3Z" fill="rgb(96,0,0)" stroke="rgb(96,0,0)" stroke-width="18.08"/>
<path d="M1296.8,962.2 1308.7,943.1 1323,938.3 1337.3,938.3 1346.8,940.7" stroke="rgb(96,0,0)" stroke-width="20.72" fill="none"/>
<path d="M236.4,264.3 250.7,281 267.3,290.6 281.6,292.9" stroke="rgb(96,0,0)" stroke-width="18.36" fill="none"/>
<path d="M155.3,433.6 167.2,426.4 179.2,433.6 176.8,447.9 160.1,450.2Z" fill="rgb(96,0,0)" stroke="rgb(96,0,0)" stroke-width="16.64"/>
<path d="M374.6,438.3 393.7,426.4 408,433.6 417.5,447.9 403.2,459.8 379.4,457.4Z" fill="rgb(96,0,0)" stroke="rgb(96,0,0)" stroke-width="18.08"/>
<path d="M431.8,223.8 427,240.5 438.9,254.8" stroke="rgb(96,0,0)" stroke-width="18.88" fill="none"/>
<path d="M198.2,669.7 212.5,660.2 226.8,669.7 236.4,686.4 226.8,698.3 207.8,688.8Z" fill="rgb(96,0,0)" stroke="rgb(96,0,0)" stroke-width="16.64"/>
<path d="M1356.2,502.1 1368.1,511.6 1377.7,523.5 1392,530.7 1387.2,540.2 1372.9,537.8 1363.4,549.7 1356.2,545Z" fill="rgb(96,0,0)" stroke="rgb(96,0,0)" stroke-width="16.64"/>
<path d="M1637.4,418.6 1649.4,402 1663.7,387.7 1678,375.7 1692.2,368.6 1701.8,363.8" stroke="rgb(96,0,0)" stroke-width="22.16" fill="none"/>
<path d="M1330,492.5 1344.3,497.3 1349.1,521.1 1339.5,530.7 1330,528.3Z" fill="rgb(96,0,0)" stroke="rgb(96,0,0)" stroke-width="19.52"/>
<path d="M528.2,259.6 547.2,254.8 563.9,247.7 583,235.7 602.1,240.5 621.1,242.9 640.2,245.3 654.5,240.5 671.2,242.9 671.2,357.3 654.5,357.3 635.4,357.3 616.4,352.5 602.1,343 597.3,328.7 606.8,314.4 592.5,304.9 578.2,304.9 563.9,300.1 552,285.8 542.5,271.5Z" fill="rgb(96,0,0)" stroke="rgb(96,0,0)" stroke-width="18.96"/>
<path d="M674.7,247.7 692.6,247.7 716.5,254.8 737.9,238.1 754.6,233.4 773.7,240.5 790.3,250 811.8,247.7 833.2,242.9 854.7,231 866.6,219.1 876.1,223.8 880.9,271.5 873.7,281 854.7,290.6 830.8,295.3 821.3,307.2 811.8,319.2 790.3,323.9 773.7,312 757,312 740.3,319.2 721.2,323.9 714.1,314.4 714.1,295.3 716.5,278.6 702.2,271.5 687.9,254.8 674.7,257.2Z" fill="rgb(96,0,0)" stroke="rgb(96,0,0)" stroke-width="23.84"/>
<path d="M835.6,304.9 859.4,295.3 883.3,290.6 885.7,319.2 854.7,323.9Z" fill="rgb(96,0,0)"/>
<path d="M674.7,333.5 697.4,331.1 716.5,338.2 721.2,347.8 706.9,357.3 697.4,366.8 674.7,364.4Z" fill="rgb(96,0,0)" stroke="rgb(96,0,0)" stroke-width="20.96"/>
<path d="M602.1,364.4 668.8,364.4 668.8,381.1 654.5,390.7 640.2,385.9 630.7,397.8 616.4,390.7 606.8,376.4Z" fill="rgb(96,0,0)" stroke="rgb(96,0,0)" stroke-width="19.52"/>
<path d="M625.9,414.5 668.8,409.7 668.8,438.3 645,440.7 630.7,428.8Z" fill="rgb(96,0,0)" stroke="rgb(96,0,0)" stroke-width="18.08"/>
<path d="M749.8,402.6 785.6,390.7 816.5,402.6 811.8,428.8 773.7,428.8Z" fill="rgb(96,0,0)" stroke="rgb(96,0,0)" stroke-width="3.6"/>
<path d="M674.7,443.1 692.6,445.5 702.2,459.8 697.4,466 674.7,466Z" fill="rgb(96,0,0)" stroke="rgb(96,0,0)" stroke-width="18.08"/>
<path d="M641,544.9 655.3,535.3 674.4,530.6 693.5,521 703,530.6 693.5,542.5 674.4,544.9 655.3,554.4 643.4,556.8Z" fill="rgb(96,0,0)" stroke="rgb(96,0,0)" stroke-width="18.08"/>
<path d="M705.4,535.3 724.4,530.6 726.8,552 722.1,573.5 707.8,583 698.2,573.5 703,554.4Z" fill="rgb(96,0,0)" stroke="rgb(96,0,0)" stroke-width="19.52"/>
<path d="M688.7,614 703,609.2 717.3,614 712.5,625.9 693.5,625.9Z" fill="rgb(96,0,0)" stroke="rgb(96,0,0)" stroke-width="18.08"/>
<path d="M705.4,706 712.5,687.9 722.1,673.6 731.6,659.3" stroke="rgb(96,0,0)" stroke-width="19.8" fill="none"/>
<path d="M638.6,461.4 652.9,478.1 662.5,497.2" stroke="rgb(96,0,0)" stroke-width="18.36" fill="none"/>
<path d="M679.2,449.5 693.5,447.1 703,456.7 688.7,463.8Z" fill="rgb(96,0,0)" stroke="rgb(96,0,0)" stroke-width="19.52"/>
<path d="M888.9,549.6 908,552.5 927,550.1" stroke="rgb(96,0,0)" stroke-width="22.16" fill="none"/>
<path d="M1294.4,961.5 1300.1,948.7 1311.5,940.7 1325.8,940.1 1337.9,936.6" stroke="rgb(96,0,0)" stroke-width="17.44" fill="none"/>
<path d="M785.8,965.8 803,974.4 817.3,985.8 825.9,1000.1" stroke="rgb(96,0,0)" stroke-width="15.08" fill="none"/>
<path d="M825.9,1013 843,1001.5 854.5,997.3 860.2,1017.3 867.3,1037.3 857.3,1023 845.9,1014.4 834.4,1017.3Z" fill="rgb(96,0,0)" stroke="rgb(96,0,0)" stroke-width="16.64"/>
<path d="M654.8,446.9 660.5,464 666.3,485 666.3,502.2" stroke="rgb(96,0,0)" stroke-width="18.36" fill="none"/>
<path d="M673.9,446.9 689.2,443.1 704.4,454.5 696.8,466 677.7,464Z" fill="rgb(96,0,0)" stroke="rgb(96,0,0)" stroke-width="18.08"/>
<path d="M916.7,286.7 956.7,285 960,310 926.7,313.3Z" fill="rgb(113,46,87)" stroke="rgb(113,46,87)" stroke-width="6"/>
<path d="M820,446.7 850,453.3 840,473.3 823.3,466.7Z" fill="rgb(113,46,87)" stroke="rgb(113,46,87)" stroke-width="4.8"/>
<path d="M891.7,420 933.3,416.7 973.3,436.7 1010,433.3 1033.3,453.3 1066.7,466.7 1053.3,483.3 1020,483.3 973.3,476.7 953.3,490 926.7,490 900,476.7Z" fill="rgb(113,46,87)" stroke="rgb(113,46,87)" stroke-width="7.2"/>
<path d="M1205,376.7 1213.3,356.7 1223.3,346.7 1240,346 1258.3,351.7 1270,363.3 1270,381.7 1260,396.7 1246.7,403.3 1230,408.3 1213.3,403.3 1206.7,390Z" fill="rgb(113,0,0)" stroke="rgb(113,0,0)" stroke-width="11.52"/>
<path d="M1230,353.3 1243.3,353.3 1240,370 1228.3,366.7Z" fill="rgb(113,46,87)"/>
<path d="M1200,466.7 1210,453.3 1220,456.7 1216.7,470 1206.7,473.3Z" fill="rgb(113,0,0)" stroke="rgb(113,0,0)" stroke-width="12.96"/>
<path d="M1260,466.7 1273.3,453.3 1286.7,446.7 1283.3,456.7 1270,470Z" fill="rgb(113,0,0)" stroke="rgb(113,0,0)" stroke-width="12.96"/>
<path d="M1290,500 1303.3,493.3 1313.3,503.3 1311.7,523.3 1303.3,536.7 1293.3,530Z" fill="rgb(113,0,0)" stroke="rgb(113,0,0)" stroke-width="14.4"/>
<path d="M741.7,623.3 750,613.3 760,606.7 766.7,593.3 781.7,586.7 795,576.7 810,575 818.3,566.7 833.3,563.3 846.7,560 856.7,560 856.7,566.7 846.7,570 833.3,578.3 818.3,585 810,595 795,598.3 781.7,601.7 773.3,615 765,626.7 755,633.3 746.7,631.7Z" fill="rgb(113,0,0)" stroke="rgb(113,0,0)" stroke-width="15.84"/>
<path d="M948.3,560 1056.7,560 1056.7,570 1061.7,583.3 1053.3,593.3 1045,586.7 1033.3,590 1023.3,598.3 1013.3,593.3 1000,601.7 990,600 980,593.3 970,590 961.7,580 955,570Z" fill="rgb(113,0,0)" stroke="rgb(113,0,0)" stroke-width="14.4"/>
<path d="M986.7,650 1000,633.3 1013.3,626.7 1023.3,610 1030,593.3 1040,590 1053.3,598.3 1066.7,610 1080,623.3 1073.3,638.3 1056.7,643.3 1043.3,653.3 1023.3,653.3 1006.7,660 993.3,658.3Z" fill="rgb(113,0,0)" stroke="rgb(113,0,0)" stroke-width="17.28"/>
<path d="M795,655 810,660 820,656.7 833.3,655 846.7,658.3 856.7,668.3 863.3,680 873.3,686.7 886.7,683.3 895,675 910,673.3 920,683.3 928.3,693.3 936.7,705 946.7,710 946.7,726.7 936.7,736.7 923.3,745.8 873.3,745.8 866.7,736.7 853.3,730 840,720 830,710 818.3,703.3 813.3,690 806.7,676.7 796.7,666.7Z" fill="rgb(113,0,0)" stroke="rgb(113,0,0)" stroke-width="15.84"/>
<path d="M790,666.7 796.7,661.7 810,673.3 806.7,686.7 795,680Z" fill="rgb(113,46,87)" stroke="rgb(113,46,87)" stroke-width="4.8"/>
<path d="M1090,581.7 1100,570 1113.3,565 1130,563.3 1145,566.7 1146.7,580 1140,593.3 1130,603.3 1123.3,616.7 1120,630 1113.3,623.3 1106.7,610 1096.7,603.3 1090,601.7Z" fill="rgb(113,0,0)" stroke="rgb(113,0,0)" stroke-width="15.84"/>
<path d="M1151.7,570 1160,571.7 1170,580 1176.7,588.3 1185,591.7 1196.7,590 1206.7,593.3 1200,605 1190,611.7 1180,606.7 1170,600 1160,593.3 1151.7,586.7Z" fill="rgb(113,0,0)" stroke="rgb(113,0,0)" stroke-width="14.4"/>
<path d="M1213.3,598.3 1223.3,593.3 1236.7,595 1246.7,601.7 1250,613.3 1246.7,626.7 1250,638.3 1258.3,650 1263.3,660 1250,663.3 1236.7,660 1223.3,653.3 1220,640 1216.7,626.7 1213.3,613.3Z" fill="rgb(113,0,0)" stroke="rgb(113,0,0)" stroke-width="15.84"/>
<path d="M1181.7,626.7 1190,618.3 1203.3,623.3 1206.7,633.3 1196.7,640 1185,636.7Z" fill="rgb(113,0,0)" stroke="rgb(113,0,0)" stroke-width="14.4"/>
<path d="M1256.7,623.3 1263.3,615 1273.3,618.3 1281.7,626.7 1290,623.3 1300,630 1290,638.3 1276.7,643.3 1265,638.3Z" fill="rgb(113,0,0)" stroke="rgb(113,0,0)" stroke-width="14.4"/>
<path d="M1256.7,600 1276.7,603.3 1290,613.3 1283.3,618.3 1265,613.3Z" fill="rgb(113,46,87)" stroke="rgb(113,46,87)" stroke-width="4.8"/>
<path d="M1296.7,603.3 1305,595 1316.7,593.3 1323.3,603.3 1320,616.7 1310,623.3 1300,616.7Z" fill="rgb(113,0,0)" stroke="rgb(113,0,0)" stroke-width="11.52"/>
<path d="M1090,686.7 1100,693.3 1111.7,706.7 1126.7,713.3 1130,723.3 1090,723.3Z" fill="rgb(113,0,0)" stroke="rgb(113,0,0)" stroke-width="12.96"/>
<path d="M742.9,806.3 754.8,784.8 778.6,753.8 795.3,746.7 814.4,751.4 833.5,761 843,772.9 852.5,792 843,808.6 852.5,825.3 847.8,844.4 833.5,853.9 823.9,837.2 814.4,825.3 795.3,820.6 778.6,830.1 762,834.9 747.7,825.3Z" fill="rgb(113,0,0)" stroke="rgb(113,0,0)" stroke-width="12.96"/>
<path d="M740.5,858.7 750,832.5 766.7,837.2 771.5,853.9 762,873 747.7,877.8Z" fill="rgb(113,0,0)" stroke="rgb(113,0,0)" stroke-width="11.52"/>
<path d="M776.3,887.3 795.3,882.5 800.1,901.6 790.6,920.7 778.6,911.1Z" fill="rgb(113,0,0)" stroke="rgb(113,0,0)" stroke-width="10.08"/>
<path d="M854.9,782.4 876.4,777.7 895.4,784.8 914.5,775.3 933.6,784.8 959.8,789.6 959.8,813.4 947.9,820.6 928.8,811 909.7,806.3 890.7,796.7 871.6,792 857.3,794.3Z" fill="rgb(113,0,0)" stroke="rgb(113,0,0)" stroke-width="14.4"/>
<path d="M966.9,730 995.5,730 993.1,751.4 974.1,753.8Z" fill="rgb(113,0,0)" stroke="rgb(113,0,0)" stroke-width="10.08"/>
<path d="M964.5,799.1 986,801.5 1009.8,799.1 1033.7,801.5 1048,813.4 1050.3,830.1 1033.7,844.4 1019.4,849.2 1009.8,834.9 995.5,825.3 981.2,813.4 964.5,808.6Z" fill="rgb(113,0,0)" stroke="rgb(113,0,0)" stroke-width="14.4"/>
<path d="M1038.4,853.9 1045.6,830.1 1052.7,815.8 1067,811 1076.5,825.3 1081.3,839.6 1100.4,844.4 1119.4,842 1126.6,849.2 1105.1,858.7 1081.3,853.9 1057.5,856.3Z" fill="rgb(113,0,0)" stroke="rgb(113,0,0)" stroke-width="11.52"/>
<path d="M1052.7,792 1067,789.6 1071.8,808.6 1055.1,811Z" fill="rgb(113,46,87)" stroke="rgb(113,46,87)" stroke-width="4.8"/>
<path d="M1078.9,820.6 1095.6,811 1109.9,806.3 1129,801.5 1129,834.9 1105.1,839.6 1083.7,834.9Z" fill="rgb(113,46,87)" stroke="rgb(113,46,87)" stroke-width="4.8"/>
<path d="M1129,832.5 1148,825.3 1167.1,834.9 1200,844.4 1200,863.5 1167.1,858.7 1143.3,853.9 1129,858.7Z" fill="rgb(113,0,0)" stroke="rgb(113,0,0)" stroke-width="14.4"/>
<path d="M1133.7,803.9 1152.8,799.1 1167.1,811 1162.3,825.3 1138.5,825.3Z" fill="rgb(113,46,87)" stroke="rgb(113,46,87)" stroke-width="4.8"/>
<path d="M843,920.7 862.1,911.1 881.1,915.9 905,901.6 924,896.8 938.3,911.1 952.6,901.6 962.2,911.1 943.1,927.8 928.8,939.7 909.7,949.3 890.7,954 876.4,944.5 862.1,935 847.8,932.6Z" fill="rgb(113,0,0)" stroke="rgb(113,0,0)" stroke-width="12.96"/>
<path d="M1048,920.7 1057.5,906.4 1071.8,896.8 1086.1,906.4 1095.6,918.3 1090.8,932.6 1071.8,937.3 1057.5,935Z" fill="rgb(113,0,0)" stroke="rgb(113,0,0)" stroke-width="11.52"/>
<path d="M995.5,863.5 1007.4,865.8 1005.1,882.5 995.5,880.1Z" fill="rgb(113,46,87)" stroke="rgb(113,46,87)" stroke-width="3.6"/>
<path d="M1157.6,870.6 1200,868.2 1200,884.9 1167.1,882.5Z" fill="rgb(113,0,0)" stroke="rgb(113,0,0)" stroke-width="10.08"/>
<path d="M1413.6,714.3 1427.9,707.1 1442.2,714.3 1449.3,723.8 1437.4,728.6 1423.1,723.8Z" fill="rgb(113,0,0)" stroke="rgb(113,0,0)" stroke-width="11.52"/>
<path d="M1222.9,833.5 1242,833.5 1258.6,828.7 1275.3,819.2 1292,814.4 1313.5,809.6 1332.5,816.8 1342.1,826.3 1332.5,828.7 1313.5,828.7 1303.9,833.5 1289.6,843 1275.3,852.5 1261,847.8 1242,843 1225.3,845.4Z" fill="rgb(113,0,0)" stroke="rgb(113,0,0)" stroke-width="12.96"/>
<path d="M1227.7,847.8 1261,852.5 1289.6,876.4 1323,866.8 1332.5,847.8 1323,876.4 1280.1,885.9 1242,876.4Z" fill="rgb(113,46,87)" stroke="rgb(113,46,87)" stroke-width="4.8"/>
<path d="M1180,833.5 1199.1,840.6 1218.1,833.5 1220.5,847.8 1203.8,862.1 1180,866.8Z" fill="rgb(113,0,0)" stroke="rgb(113,0,0)" stroke-width="12.96"/>
<path d="M1180,871.6 1203.8,874 1201.4,888.3 1180,888.3Z" fill="rgb(113,0,0)" stroke="rgb(113,0,0)" stroke-width="10.08"/>
<path d="M1334.9,797.7 1335.4,798.2" stroke="rgb(113,0,0)" stroke-width="7.5" fill="none"/>
<path d="M155.3,433.6 167.2,426.4 179.2,433.6 176.8,447.9 160.1,450.2Z" fill="rgb(113,0,0)" stroke="rgb(113,0,0)" stroke-width="8.64"/>
<path d="M374.6,438.3 393.7,426.4 408,433.6 417.5,447.9 403.2,459.8 379.4,457.4Z" fill="rgb(113,0,0)" stroke="rgb(113,0,0)" stroke-width="10.08"/>
<path d="M198.2,669.7 212.5,660.2 226.8,669.7 236.4,686.4 226.8,698.3 207.8,688.8Z" fill="rgb(113,0,0)" stroke="rgb(113,0,0)" stroke-width="8.64"/>
<path d="M1356.2,502.1 1368.1,511.6 1377.7,523.5 1392,530.7 1387.2,540.2 1372.9,537.8 1363.4,549.7 1356.2,545Z" fill="rgb(113,0,0)" stroke="rgb(113,0,0)" stroke-width="8.64"/>
<path d="M1330,492.5 1344.3,497.3 1349.1,521.1 1339.5,530.7 1330,528.3Z" fill="rgb(113,0,0)" stroke="rgb(113,0,0)" stroke-width="11.52"/>
<path d="M528.2,259.6 547.2,254.8 563.9,247.7 583,235.7 602.1,240.5 621.1,242.9 640.2,245.3 654.5,240.5 671.2,242.9 671.2,357.3 654.5,357.3 635.4,357.3 616.4,352.5 602.1,343 597.3,328.7 606.8,314.4 592.5,304.9 578.2,304.9 563.9,300.1 552,285.8 542.5,271.5Z" fill="rgb(113,0,0)" stroke="rgb(113,0,0)" stroke-width="12.96"/>
<path d="M674.7,247.7 692.6,247.7 716.5,254.8 737.9,238.1 754.6,233.4 773.7,240.5 790.3,250 811.8,247.7 833.2,242.9 854.7,231 866.6,219.1 876.1,223.8 880.9,271.5 873.7,281 854.7,290.6 830.8,295.3 821.3,307.2 811.8,319.2 790.3,323.9 773.7,312 757,312 740.3,319.2 721.2,323.9 714.1,314.4 714.1,295.3 716.5,278.6 702.2,271.5 687.9,254.8 674.7,257.2Z" fill="rgb(113,0,0)" stroke="rgb(113,0,0)" stroke-width="15.84"/>
<path d="M680.7,254.8 706.9,252.4 714.1,271.5 692.6,278.6 678.3,278.6Z" fill="rgb(113,76,87)"/>
<path d="M674.7,333.5 697.4,331.1 716.5,338.2 721.2,347.8 706.9,357.3 697.4,366.8 674.7,364.4Z" fill="rgb(113,0,0)" stroke="rgb(113,0,0)" stroke-width="12.96"/>
<path d="M602.1,364.4 668.8,364.4 668.8,381.1 654.5,390.7 640.2,385.9 630.7,397.8 616.4,390.7 606.8,376.4Z" fill="rgb(113,0,0)" stroke="rgb(113,0,0)" stroke-width="11.52"/>
<path d="M625.9,414.5 668.8,409.7 668.8,438.3 645,440.7 630.7,428.8Z" fill="rgb(113,0,0)" stroke="rgb(113,0,0)" stroke-width="10.08"/>
<path d="M674.7,443.1 692.6,445.5 702.2,459.8 697.4,466 674.7,466Z" fill="rgb(113,0,0)" stroke="rgb(113,0,0)" stroke-width="10.08"/>
<path d="M641,544.9 655.3,535.3 674.4,530.6 693.5,521 703,530.6 693.5,542.5 674.4,544.9 655.3,554.4 643.4,556.8Z" fill="rgb(113,0,0)" stroke="rgb(113,0,0)" stroke-width="10.08"/>
<path d="M705.4,535.3 724.4,530.6 726.8,552 722.1,573.5 707.8,583 698.2,573.5 703,554.4Z" fill="rgb(113,0,0)" stroke="rgb(113,0,0)" stroke-width="11.52"/>
<path d="M688.7,614 703,609.2 717.3,614 712.5,625.9 693.5,625.9Z" fill="rgb(113,0,0)" stroke="rgb(113,0,0)" stroke-width="10.08"/>
<path d="M679.2,449.5 693.5,447.1 703,456.7 688.7,463.8Z" fill="rgb(113,0,0)" stroke="rgb(113,0,0)" stroke-width="11.52"/>
<path d="M848.4,510.3 848.8,510.8" stroke="rgb(113,0,0)" stroke-width="12" fill="none"/>
<path d="M778.1,472.2 778.5,472.7" stroke="rgb(113,0,0)" stroke-width="9" fill="none"/>
<path d="M726.8,461.4 727.3,461.9" stroke="rgb(113,0,0)" stroke-width="10.5" fill="none"/>
<path d="M1305.8,994.4 1306.4,995" stroke="rgb(113,0,0)" stroke-width="3.75" fill="none"/>
<path d="M825.9,1013 843,1001.5 854.5,997.3 860.2,1017.3 867.3,1037.3 857.3,1023 845.9,1014.4 834.4,1017.3Z" fill="rgb(113,0,0)" stroke="rgb(113,0,0)" stroke-width="8.64"/>
<path d="M673.9,446.9 689.2,443.1 704.4,454.5 696.8,466 677.7,464Z" fill="rgb(113,0,0)" stroke="rgb(113,0,0)" stroke-width="10.08"/>
<path d="M836.7,306.7 853.3,301.7 873.3,300 880,300 881.7,318.3 866.7,323.3 843.3,321.7Z" fill="rgb(134,46,87)" stroke="rgb(134,46,87)" stroke-width="1.2"/>
<path d="M756.7,290 766.7,300 773.3,305" stroke="rgb(134,0,0)" stroke-width="3" fill="none"/>
<path d="M878,223.3 883.3,245 893.3,265 905,286.7 911.7,305" stroke="rgb(134,0,0)" stroke-width="24.28" fill="none"/>
<path d="M911.7,305 926.7,319.3 943.3,323.3 960,320 976.7,326 996.7,327.3 1013.3,324 1030,326.7 1040,336.7 1053.3,348.3 1070,356.7 1090,361.7 1106.7,363.3 1123.3,358.3 1140,354" stroke="rgb(134,0,0)" stroke-width="20.6" fill="none"/>
<path d="M950.7,277.3 956.7,273.3 962.7,277.3 960,283.3 953.3,283.3 950.7,277.3" stroke="rgb(134,0,0)" stroke-width="9" fill="none"/>
<path d="M977.3,365 985,358.3 991.7,361.7 990,370 980,371.7Z" fill="rgb(134,0,0)" stroke="rgb(134,0,0)" stroke-width="5.76"/>
<path d="M808.3,331.7 820,330 815,338.3Z" fill="rgb(134,0,0)" stroke="rgb(134,0,0)" stroke-width="5.76"/>
<path d="M858.3,336.7 868.3,331.7 871.7,339.3Z" fill="rgb(134,0,0)" stroke="rgb(134,0,0)" stroke-width="4.32"/>
<path d="M871.7,336.7 880,356.7 886.7,376.7" stroke="rgb(134,0,0)" stroke-width="4.5" fill="none"/>
<path d="M1048.3,270 1060,261.7 1073.3,255" stroke="rgb(134,0,0)" stroke-width="6.75" fill="none"/>
<path d="M1016.7,350 1023.3,340 1030,336.7" stroke="rgb(134,0,0)" stroke-width="6" fill="none"/>
<path d="M1093.3,376.7 1096.7,363.3" stroke="rgb(134,0,0)" stroke-width="3.75" fill="none"/>
<path d="M1145,386.7 1141.7,410" stroke="rgb(134,0,0)" stroke-width="6" fill="none"/>
<path d="M760,403.3 780,390 806.7,396.7 816.7,410 796.7,423.3 770,413.3Z" fill="rgb(134,46,87)" stroke="rgb(134,46,87)" stroke-width="3.6"/>
<path d="M836.7,403.3 850,390 863.3,393.3 860,406.7 846.7,416.7Z" fill="rgb(134,46,87)" stroke="rgb(134,46,87)" stroke-width="4.8"/>
<path d="M746.7,375 760,371.7" stroke="rgb(134,0,0)" stroke-width="3" fill="none"/>
<path d="M773.3,366.7 783.3,383.3" stroke="rgb(134,0,0)" stroke-width="3.75" fill="none"/>
<path d="M823.3,420 840,430 856.7,438.3 873.3,443.3 886.7,453.3" stroke="rgb(134,0,0)" stroke-width="19.68" fill="none"/>
<path d="M886.7,453.3 880,470 863.3,480 843.3,490 823.3,500 800,505 776.7,510 756.7,515 740,520" stroke="rgb(134,0,0)" stroke-width="24.8" fill="none"/>
<path d="M890,453.3 906.7,466.7 926.7,473.3 946.7,466.7 970,458.3" stroke="rgb(134,0,0)" stroke-width="28.48" fill="none"/>
<path d="M970,458.3 993.3,460 1016.7,468.3 1040,473.3 1056.7,475" stroke="rgb(134,0,0)" stroke-width="20.6" fill="none"/>
<path d="M1056.7,475 1073.3,473.3 1093.3,478.3 1113.3,480 1130,473.3 1141.7,465" stroke="rgb(134,0,0)" stroke-width="17.84" fill="none"/>
<path d="M930,483.3 953.3,480 956.7,493.3 940,500Z" fill="rgb(134,46,87)" stroke="rgb(134,46,87)" stroke-width="3.6"/>
<path d="M1076.7,496.7 1090,501.7" stroke="rgb(134,0,0)" stroke-width="4.5" fill="none"/>
<path d="M1126.7,503.3 1128.3,505" stroke="rgb(134,0,0)" stroke-width="3.75" fill="none"/>
<path d="M846.7,510 850,510.7" stroke="rgb(134,0,0)" stroke-width="6" fill="none"/>
<path d="M920,548.3 940,543.3 966.7,541.7 993.3,546.7 1020,543.3 1040,536.7" stroke="rgb(134,0,0)" stroke-width="22.96" fill="none"/>
<path d="M1040,536.7 1056.7,540 1073.3,550 1086.7,551.7" stroke="rgb(134,0,0)" stroke-width="17.84" fill="none"/>
<path d="M850,556.7 880,551.7 906.7,553.3" stroke="rgb(134,0,0)" stroke-width="19.68" fill="none"/>
<path d="M1205,376.7 1213.3,356.7 1223.3,346.7 1240,346 1258.3,351.7 1270,363.3 1270,381.7 1260,396.7 1246.7,403.3 1230,408.3 1213.3,403.3 1206.7,390Z" fill="rgb(134,0,76)" stroke="rgb(134,0,76)" stroke-width="7.2"/>
<path d="M1186.7,376.7 1196.7,356.7 1206.7,350" stroke="rgb(134,0,0)" stroke-width="9" fill="none"/>
<path d="M1200,466.7 1210,453.3 1220,456.7 1216.7,470 1206.7,473.3Z" fill="rgb(134,0,0)" stroke="rgb(134,0,0)" stroke-width="7.2"/>
<path d="M1260,466.7 1273.3,453.3 1286.7,446.7 1283.3,456.7 1270,470Z" fill="rgb(134,0,0)" stroke="rgb(134,0,0)" stroke-width="7.2"/>
<path d="M1156.7,495 1180,498.3 1206.7,501.7 1226.7,498.3" stroke="rgb(134,0,0)" stroke-width="30.32" fill="none"/>
<path d="M1233.3,498.3 1253.3,500 1266.7,498.3" stroke="rgb(134,0,0)" stroke-width="26.64" fill="none"/>
<path d="M1290,500 1303.3,493.3 1313.3,503.3 1311.7,523.3 1303.3,536.7 1293.3,530Z" fill="rgb(134,0,0)" stroke="rgb(134,0,0)" stroke-width="7.2"/>
<path d="M1326.7,490 1340,510 1350,523.3" stroke="rgb(134,0,0)" stroke-width="12" fill="none"/>
<path d="M1240,513.3 1283.3,506.7 1283.3,533.3 1260,540 1243.3,528.3Z" fill="rgb(134,46,87)" stroke="rgb(134,46,87)" stroke-width="1.2"/>
<path d="M1170,523.3 1173.3,536.7" stroke="rgb(134,0,0)" stroke-width="4.5" fill="none"/>
<path d="M1216.7,550 1223.3,543.3" stroke="rgb(134,0,0)" stroke-width="4.5" fill="none"/>
<path d="M741.7,623.3 750,613.3 760,606.7 766.7,593.3 781.7,586.7 795,576.7 810,575 818.3,566.7 833.3,563.3 846.7,560 856.7,560 856.7,566.7 846.7,570 833.3,578.3 818.3,585 810,595 795,598.3 781.7,601.7 773.3,615 765,626.7 755,633.3 746.7,631.7Z" fill="rgb(134,0,0)" stroke="rgb(134,0,0)" stroke-width="8.64"/>
<path d="M781.7,605 796.7,600 811.7,596.7 823.3,586.7 840,576.7 846.7,583.3 833.3,596.7 816.7,605 795,608.3Z" fill="rgb(134,46,87)" stroke="rgb(134,46,87)" stroke-width="3.6"/>
<path d="M886.7,610 900,603.3 913.3,613.3 910,626.7 896.7,631.7 888.3,623.3Z" fill="rgb(134,46,87)" stroke="rgb(134,46,87)" stroke-width="2.4"/>
<path d="M926.7,580 933.3,601.7" stroke="rgb(134,0,0)" stroke-width="10.5" fill="none"/>
<path d="M900,585 900.8,585.8" stroke="rgb(134,0,0)" stroke-width="7.5" fill="none"/>
<path d="M809.2,630 809.5,630.3" stroke="rgb(134,0,0)" stroke-width="16.5" fill="none"/>
<path d="M948.3,560 1056.7,560 1056.7,570 1061.7,583.3 1053.3,593.3 1045,586.7 1033.3,590 1023.3,598.3 1013.3,593.3 1000,601.7 990,600 980,593.3 970,590 961.7,580 955,570Z" fill="rgb(134,0,0)" stroke="rgb(134,0,0)" stroke-width="7.2"/>
<path d="M986.7,650 1000,633.3 1013.3,626.7 1023.3,610 1030,593.3 1040,590 1053.3,598.3 1066.7,610 1080,623.3 1073.3,638.3 1056.7,643.3 1043.3,653.3 1023.3,653.3 1006.7,660 993.3,658.3Z" fill="rgb(134,0,0)" stroke="rgb(134,0,0)" stroke-width="8.64"/>
<path d="M990,603.3 1006.7,613.3 1000,630 986.7,633.3Z" fill="rgb(134,46,87)" stroke="rgb(134,46,87)" stroke-width="3.6"/>
<path d="M966.7,663.7 967,664" stroke="rgb(134,0,0)" stroke-width="16.5" fill="none"/>
<path d="M795,655 810,660 820,656.7 833.3,655 846.7,658.3 856.7,668.3 863.3,680 873.3,686.7 886.7,683.3 895,675 910,673.3 920,683.3 928.3,693.3 936.7,705 946.7,710 946.7,726.7 936.7,736.7 923.3,745.8 873.3,745.8 866.7,736.7 853.3,730 840,720 830,710 818.3,703.3 813.3,690 806.7,676.7 796.7,666.7Z" fill="rgb(134,0,0)" stroke="rgb(134,0,0)" stroke-width="8.64"/>
<path d="M900,682.5 900.3,682.8" stroke="rgb(134,0,0)" stroke-width="7.5" fill="none"/>
<path d="M743.3,698.3 756.7,693.3 773.3,688.3 786.7,690" stroke="rgb(134,0,0)" stroke-width="12.2" fill="none"/>
<path d="M766.7,710 781.7,706.7 795,703.3" stroke="rgb(134,0,0)" stroke-width="13.12" fill="none"/>
<path d="M740,725 753.3,720 766.7,716.7" stroke="rgb(134,0,0)" stroke-width="12.2" fill="none"/>
<path d="M1013.3,728.3 1026.7,720 1038.3,708.3 1050,695 1061.7,683.3 1075,675" stroke="rgb(134,0,0)" stroke-width="19.68" fill="none"/>
<path d="M1076.7,663.3 1089.8,658.3 1089.8,680 1080,681.7Z" fill="rgb(134,0,0)" stroke="rgb(134,0,0)" stroke-width="5.76"/>
<path d="M1090,581.7 1100,570 1113.3,565 1130,563.3 1145,566.7 1146.7,580 1140,593.3 1130,603.3 1123.3,616.7 1120,630 1113.3,623.3 1106.7,610 1096.7,603.3 1090,601.7Z" fill="rgb(134,0,0)" stroke="rgb(134,0,0)" stroke-width="8.64"/>
<path d="M1095,608.3 1108.3,608.3 1111.7,621.7 1100,625Z" fill="rgb(134,46,87)" stroke="rgb(134,46,87)" stroke-width="3.6"/>
<path d="M1151.7,570 1160,571.7 1170,580 1176.7,588.3 1185,591.7 1196.7,590 1206.7,593.3 1200,605 1190,611.7 1180,606.7 1170,600 1160,593.3 1151.7,586.7Z" fill="rgb(134,0,0)" stroke="rgb(134,0,0)" stroke-width="7.2"/>
<path d="M1213.3,598.3 1223.3,593.3 1236.7,595 1246.7,601.7 1250,613.3 1246.7,626.7 1250,638.3 1258.3,650 1263.3,660 1250,663.3 1236.7,660 1223.3,653.3 1220,640 1216.7,626.7 1213.3,613.3Z" fill="rgb(134,0,0)" stroke="rgb(134,0,0)" stroke-width="8.64"/>
<path d="M1181.7,626.7 1190,618.3 1203.3,623.3 1206.7,633.3 1196.7,640 1185,636.7Z" fill="rgb(134,0,0)" stroke="rgb(134,0,0)" stroke-width="8.64"/>
<path d="M1256.7,623.3 1263.3,615 1273.3,618.3 1281.7,626.7 1290,623.3 1300,630 1290,638.3 1276.7,643.3 1265,638.3Z" fill="rgb(134,0,0)" stroke="rgb(134,0,0)" stroke-width="8.64"/>
<path d="M1296.7,603.3 1305,595 1316.7,593.3 1323.3,603.3 1320,616.7 1310,623.3 1300,616.7Z" fill="rgb(134,0,0)" stroke="rgb(134,0,0)" stroke-width="7.2"/>
<path d="M1235,566.7 1246.7,568.3 1245.8,575 1236.7,574.2Z" fill="rgb(134,0,0)" stroke="rgb(134,0,0)" stroke-width="4.32"/>
<path d="M1381,652.5 1395.3,639.4 1409.6,627.5 1428.7,623.9 1438.2,612 1435.8,600.1 1445.4,590.6 1454.9,583.4" stroke="rgb(134,0,0)" stroke-width="17.32" fill="none"/>
<path d="M1323.3,686.7 1340,680 1356.7,676.7 1373.3,666.7 1383.3,660" stroke="rgb(134,0,0)" stroke-width="15.48" fill="none"/>
<path d="M1415,710 1431.7,726.7 1439.8,730" stroke="rgb(134,0,0)" stroke-width="15.48" fill="none"/>
<path d="M1290,733.3 1306.7,726.7 1323.3,736.7 1340,726.7 1343.3,720" stroke="rgb(134,0,0)" stroke-width="16.4" fill="none"/>
<path d="M1090,686.7 1100,693.3 1111.7,706.7 1126.7,713.3 1130,723.3 1090,723.3Z" fill="rgb(134,0,0)" stroke="rgb(134,0,0)" stroke-width="7.2"/>
<path d="M1133.3,685 1134.2,685.8" stroke="rgb(134,0,0)" stroke-width="6" fill="none"/>
<path d="M704.8,796.7 719.1,787.2 731,772.9 742.9,761 754.8,753.8" stroke="rgb(134,0,0)" stroke-width="10.36" fill="none"/>
<path d="M704.8,830.1 719.1,820.6 735.7,813.4 747.7,808.6" stroke="rgb(134,0,0)" stroke-width="10.36" fill="none"/>
<path d="M709.5,765.7 723.8,758.6 735.7,744.3 747.7,737.1" stroke="rgb(134,0,0)" stroke-width="10.36" fill="none"/>
<path d="M742.9,806.3 754.8,784.8 778.6,753.8 795.3,746.7 814.4,751.4 833.5,761 843,772.9 852.5,792 843,808.6 852.5,825.3 847.8,844.4 833.5,853.9 823.9,837.2 814.4,825.3 795.3,820.6 778.6,830.1 762,834.9 747.7,825.3Z" fill="rgb(134,0,76)" stroke="rgb(134,0,76)" stroke-width="7.2"/>
<path d="M771.5,775.3 790.6,768.1 809.6,777.7 812,796.7 795.3,801.5 778.6,796.7Z" fill="rgb(134,46,87)" stroke="rgb(134,46,87)" stroke-width="3.6"/>
<path d="M740.5,858.7 750,832.5 766.7,837.2 771.5,853.9 762,873 747.7,877.8Z" fill="rgb(134,0,76)" stroke="rgb(134,0,76)" stroke-width="7.2"/>
<path d="M776.3,887.3 795.3,882.5 800.1,901.6 790.6,920.7 778.6,911.1Z" fill="rgb(134,0,76)" stroke="rgb(134,0,76)" stroke-width="5.76"/>
<path d="M854.9,782.4 876.4,777.7 895.4,784.8 914.5,775.3 933.6,784.8 959.8,789.6 959.8,813.4 947.9,820.6 928.8,811 909.7,806.3 890.7,796.7 871.6,792 857.3,794.3Z" fill="rgb(134,0,76)" stroke="rgb(134,0,76)" stroke-width="7.2"/>
<path d="M874,734.8 890.7,739.5 914.5,737.1 938.3,744.3" stroke="rgb(134,0,0)" stroke-width="14.56" fill="none"/>
<path d="M966.9,730 995.5,730 993.1,751.4 974.1,753.8Z" fill="rgb(134,0,0)" stroke="rgb(134,0,0)" stroke-width="5.76"/>
<path d="M964.5,799.1 986,801.5 1009.8,799.1 1033.7,801.5 1048,813.4 1050.3,830.1 1033.7,844.4 1019.4,849.2 1009.8,834.9 995.5,825.3 981.2,813.4 964.5,808.6Z" fill="rgb(134,0,76)" stroke="rgb(134,0,76)" stroke-width="7.2"/>
<path d="M1038.4,853.9 1045.6,830.1 1052.7,815.8 1067,811 1076.5,825.3 1081.3,839.6 1100.4,844.4 1119.4,842 1126.6,849.2 1105.1,858.7 1081.3,853.9 1057.5,856.3Z" fill="rgb(134,0,0)" stroke="rgb(134,0,0)" stroke-width="7.2"/>
<path d="M1081.3,822.9 1105.1,815.8 1124.2,813.4 1126.6,834.9 1102.8,837.2Z" fill="rgb(134,46,87)"/>
<path d="M1038.4,858.7 1081.3,856.3 1124.2,858.7 1119.4,873 1090.8,877.8 1057.5,868.2Z" fill="rgb(134,46,87)" stroke="rgb(134,46,87)" stroke-width="4.8"/>
<path d="M1129,832.5 1148,825.3 1167.1,834.9 1200,844.4 1200,863.5 1167.1,858.7 1143.3,853.9 1129,858.7Z" fill="rgb(134,0,0)" stroke="rgb(134,0,0)" stroke-width="7.2"/>
<path d="M1167.1,815.8 1200,811 1200,839.6 1171.9,834.9Z" fill="rgb(134,46,87)" stroke="rgb(134,46,87)" stroke-width="3.6"/>
<path d="M843,920.7 862.1,911.1 881.1,915.9 905,901.6 924,896.8 938.3,911.1 952.6,901.6 962.2,911.1 943.1,927.8 928.8,939.7 909.7,949.3 890.7,954 876.4,944.5 862.1,935 847.8,932.6Z" fill="rgb(134,0,76)" stroke="rgb(134,0,76)" stroke-width="7.2"/>
<path d="M847.8,944.5 866.8,939.7 881.1,954 876.4,977.9 857.3,977.9 847.8,963.6Z" fill="rgb(134,46,87)" stroke="rgb(134,46,87)" stroke-width="4.8"/>
<path d="M700,901.6 723.8,911.1 747.7,920.7 778.6,932.6 804.9,935 823.9,925.4 843,920.7" stroke="rgb(134,0,0)" stroke-width="8" fill="none"/>
<path d="M700,877.8 714.3,873 721.4,887.3 711.9,901.6 700,896.8" stroke="rgb(134,0,0)" stroke-width="8" fill="none"/>
<path d="M1048,920.7 1057.5,906.4 1071.8,896.8 1086.1,906.4 1095.6,918.3 1090.8,932.6 1071.8,937.3 1057.5,935Z" fill="rgb(134,0,0)" stroke="rgb(134,0,0)" stroke-width="7.2"/>
<path d="M1090.8,778.9 1091.3,779.3" stroke="rgb(134,0,0)" stroke-width="10.5" fill="none"/>
<path d="M1140.9,880.1 1150.4,877.8 1152.8,889.7 1143.3,892.1Z" fill="rgb(134,0,0)" stroke="rgb(134,0,0)" stroke-width="5.76"/>
<path d="M1157.6,870.6 1200,868.2 1200,884.9 1167.1,882.5Z" fill="rgb(134,0,0)" stroke="rgb(134,0,0)" stroke-width="5.76"/>
<path d="M1211,769.1 1227.7,764.3 1246.7,759.6 1265.8,757.2 1282.5,750 1294.4,740.5" stroke="rgb(134,0,0)" stroke-width="18.24" fill="none"/>
<path d="M1225.3,776.3 1258.6,771.5 1261,785.8 1230,788.2Z" fill="rgb(134,46,87)" stroke="rgb(134,46,87)" stroke-width="3.6"/>
<path d="M1282.5,738.1 1299.2,740.5 1313.5,745.3 1327.8,735.7 1339.7,726.2 1346.8,721.4 1361.1,716.7 1380.2,711.9 1399.3,709.5 1418.3,704.8 1432.6,700" stroke="rgb(134,0,0)" stroke-width="17.32" fill="none"/>
<path d="M1413.6,714.3 1427.9,707.1 1442.2,714.3 1449.3,723.8 1437.4,728.6 1423.1,723.8Z" fill="rgb(134,0,0)" stroke="rgb(134,0,0)" stroke-width="5.76"/>
<path d="M1418.3,702.4 1454.1,704.8 1501.7,702.4" stroke="rgb(134,0,0)" stroke-width="14.56" fill="none"/>
<path d="M1222.9,833.5 1242,833.5 1258.6,828.7 1275.3,819.2 1292,814.4 1313.5,809.6 1332.5,816.8 1342.1,826.3 1332.5,828.7 1313.5,828.7 1303.9,833.5 1289.6,843 1275.3,852.5 1261,847.8 1242,843 1225.3,845.4Z" fill="rgb(134,0,0)" stroke="rgb(134,0,0)" stroke-width="7.2"/>
<path d="M1337.3,819.2 1351.6,812 1365.9,802.5 1370.7,797.7" stroke="rgb(134,0,0)" stroke-width="11.28" fill="none"/>
<path d="M1180,833.5 1199.1,840.6 1218.1,833.5 1220.5,847.8 1203.8,862.1 1180,866.8Z" fill="rgb(134,0,0)" stroke="rgb(134,0,0)" stroke-width="7.2"/>
<path d="M1180,871.6 1203.8,874 1201.4,888.3 1180,888.3Z" fill="rgb(134,0,0)" stroke="rgb(134,0,0)" stroke-width="5.76"/>
<path d="M1321.8,897.8 1322.3,898.3" stroke="rgb(134,0,0)" stroke-width="9.75" fill="none"/>
<path d="M1296.8,962.2 1308.7,943.1 1323,938.3 1337.3,938.3 1346.8,940.7" stroke="rgb(134,0,0)" stroke-width="16.4" fill="none"/>
<path d="M1296.8,930 1297.3,930.5" stroke="rgb(134,0,0)" stroke-width="9" fill="none"/>
<path d="M1227.7,854.9 1249.1,857.3 1251.5,871.6 1232.4,871.6Z" fill="rgb(134,46,87)" stroke="rgb(134,46,87)" stroke-width="2.4"/>
<path d="M236.4,264.3 250.7,281 267.3,290.6 281.6,292.9" stroke="rgb(134,0,0)" stroke-width="15.48" fill="none"/>
<path d="M79.1,247.7 91,250 100.5,266.7 107.7,283.4 102.9,300.1 95.7,290.6 88.6,271.5Z" fill="rgb(134,0,0)" stroke="rgb(134,0,0)" stroke-width="5.76"/>
<path d="M155.3,433.6 167.2,426.4 179.2,433.6 176.8,447.9 160.1,450.2Z" fill="rgb(134,0,0)" stroke="rgb(134,0,0)" stroke-width="5.76"/>
<path d="M193.5,400.2 207.8,402.6 205.4,414.5 194.7,413.3Z" fill="rgb(134,0,0)" stroke="rgb(134,0,0)" stroke-width="4.32"/>
<path d="M374.6,438.3 393.7,426.4 408,433.6 417.5,447.9 403.2,459.8 379.4,457.4Z" fill="rgb(134,0,0)" stroke="rgb(134,0,0)" stroke-width="7.2"/>
<path d="M431.8,223.8 427,240.5 438.9,254.8" stroke="rgb(134,0,0)" stroke-width="14.56" fill="none"/>
<path d="M536.6,414.5 560,409.7 560,452.6 541.4,447.9Z" fill="rgb(134,0,0)" stroke="rgb(134,0,0)" stroke-width="5.76"/>
<path d="M198.2,669.7 212.5,660.2 226.8,669.7 236.4,686.4 226.8,698.3 207.8,688.8Z" fill="rgb(134,0,0)" stroke="rgb(134,0,0)" stroke-width="5.76"/>
<path d="M293.6,474.3 312.6,474.3 312.6,486.2 295.9,486.2Z" fill="rgb(134,0,0)" stroke="rgb(134,0,0)" stroke-width="4.32"/>
<path d="M326.9,479.1 346,480.3 344.8,491 328.1,489.8Z" fill="rgb(134,0,0)" stroke="rgb(134,0,0)" stroke-width="4.32"/>
<path d="M231.6,538.6 248.3,545.8 265,538.6 269.7,526.7" stroke="rgb(134,0,0)" stroke-width="11.28" fill="none"/>
<path d="M369.8,512.4 365.1,536.3 353.1,555.3" stroke="rgb(134,0,0)" stroke-width="13.12" fill="none"/>
<path d="M317.4,552.9 331.7,554.1 330.5,567.2 318.6,566.1Z" fill="rgb(134,0,0)" stroke="rgb(134,0,0)" stroke-width="4.32"/>
<path d="M489,488.6 503.3,474.3 512.8,464.8" stroke="rgb(134,0,0)" stroke-width="11.28" fill="none"/>
<path d="M508,481.4 512.8,493.4" stroke="rgb(134,0,0)" stroke-width="12.2" fill="none"/>
<path d="M446.7,780 460,781.7 459.3,793.3 447.3,792.7Z" fill="rgb(134,0,0)" stroke="rgb(134,0,0)" stroke-width="4.32"/>
<path d="M613.3,723.3 630,725 628.3,740 615,739.3Z" fill="rgb(134,0,0)" stroke="rgb(134,0,0)" stroke-width="4.32"/>
<path d="M1494.4,375.7 1506.4,368.6 1520.7,366.2 1544.5,368.6 1556.4,382.9 1558.8,402 1549.3,423.4 1535,432.9 1515.9,430.6 1496.8,418.6 1487.3,402 1492.1,385.3 1494.4,375.7" stroke="rgb(134,0,0)" stroke-width="8.92" fill="none"/>
<path d="M1496.8,380.5 1511.1,378.1 1508.7,392.4 1501.6,402 1496.8,394.8Z" fill="rgb(134,0,0)" stroke="rgb(134,0,0)" stroke-width="4.32"/>
<path d="M1406.3,452 1425.3,447.2 1434.9,459.2 1420.6,466.3 1408.6,463.9Z" fill="rgb(134,0,0)" stroke="rgb(134,0,0)" stroke-width="4.32"/>
<path d="M1496.8,483 1513.5,480.6 1515.9,502.1 1501.6,506.8Z" fill="rgb(134,0,0)" stroke="rgb(134,0,0)" stroke-width="4.32"/>
<path d="M1394.3,478.2 1415.8,475.8 1430.1,483 1408.6,487.8Z" fill="rgb(134,0,0)" stroke="rgb(134,0,0)" stroke-width="4.32"/>
<path d="M1430.1,473.5 1453.9,478.2 1449.2,485.4 1432.5,483Z" fill="rgb(134,0,0)" stroke="rgb(134,0,0)" stroke-width="4.32"/>
<path d="M1356.2,502.1 1368.1,511.6 1377.7,523.5 1392,530.7 1387.2,540.2 1372.9,537.8 1363.4,549.7 1356.2,545Z" fill="rgb(134,0,0)" stroke="rgb(134,0,0)" stroke-width="5.76"/>
<path d="M1592.2,416.3 1606.5,411.5 1616,423.4 1611.2,435.3 1596.9,432.9Z" fill="rgb(134,0,0)" stroke="rgb(134,0,0)" stroke-width="4.32"/>
<path d="M1637.4,418.6 1649.4,402 1663.7,387.7 1678,375.7 1692.2,368.6 1701.8,363.8" stroke="rgb(134,0,0)" stroke-width="17.84" fill="none"/>
<path d="M1577.9,473.5 1585,473.5 1587.4,492.5 1580.2,492.5Z" fill="rgb(134,0,0)" stroke="rgb(134,0,0)" stroke-width="4.32"/>
<path d="M1551.6,504.4 1568.3,499.7 1582.6,494.9" stroke="rgb(134,0,0)" stroke-width="8.92" fill="none"/>
<path d="M1558.8,516.4 1577.9,511.6 1592.2,506.8" stroke="rgb(134,0,0)" stroke-width="8.92" fill="none"/>
<path d="M1494.4,578.3 1511.1,575.9 1513.5,606 1496.8,606Z" fill="rgb(134,0,0)" stroke="rgb(134,0,0)" stroke-width="4.32"/>
<path d="M1430.1,587.9 1453.9,585.5 1458.7,606 1432.5,606Z" fill="rgb(134,0,0)" stroke="rgb(134,0,0)" stroke-width="5.76"/>
<path d="M1463.5,568.8 1477.8,564 1482.5,580.7 1470.6,587.9Z" fill="rgb(134,0,0)" stroke="rgb(134,0,0)" stroke-width="4.32"/>
<path d="M1330,492.5 1344.3,497.3 1349.1,521.1 1339.5,530.7 1330,528.3Z" fill="rgb(134,0,0)" stroke="rgb(134,0,0)" stroke-width="5.76"/>
<path d="M528.2,259.6 547.2,254.8 563.9,247.7 583,235.7 602.1,240.5 621.1,242.9 640.2,245.3 654.5,240.5 671.2,242.9 671.2,357.3 654.5,357.3 635.4,357.3 616.4,352.5 602.1,343 597.3,328.7 606.8,314.4 592.5,304.9 578.2,304.9 563.9,300.1 552,285.8 542.5,271.5Z" fill="rgb(134,0,76)" stroke="rgb(134,0,76)" stroke-width="7.2"/>
<path d="M621.1,297.7 640.2,295.3 654.5,304.9 649.7,333.5 630.7,333.5 621.1,314.4Z" fill="rgb(134,153,87)"/>
<path d="M674.7,247.7 692.6,247.7 716.5,254.8 737.9,238.1 754.6,233.4 773.7,240.5 790.3,250 811.8,247.7 833.2,242.9 854.7,231 866.6,219.1 876.1,223.8 880.9,271.5 873.7,281 854.7,290.6 830.8,295.3 821.3,307.2 811.8,319.2 790.3,323.9 773.7,312 757,312 740.3,319.2 721.2,323.9 714.1,314.4 714.1,295.3 716.5,278.6 702.2,271.5 687.9,254.8 674.7,257.2Z" fill="rgb(134,0,0)" stroke="rgb(134,0,0)" stroke-width="8.64"/>
<path d="M821.3,307.2 849.9,300.1 878.5,290.6 885.7,304.9 869,319.2 835.6,323.9Z" fill="rgb(134,46,87)" stroke="rgb(134,46,87)" stroke-width="1.2"/>
<path d="M674.7,333.5 697.4,331.1 716.5,338.2 721.2,347.8 706.9,357.3 697.4,366.8 674.7,364.4Z" fill="rgb(134,0,0)" stroke="rgb(134,0,0)" stroke-width="7.2"/>
<path d="M602.1,364.4 668.8,364.4 668.8,381.1 654.5,390.7 640.2,385.9 630.7,397.8 616.4,390.7 606.8,376.4Z" fill="rgb(134,0,0)" stroke="rgb(134,0,0)" stroke-width="7.2"/>
<path d="M625.9,414.5 668.8,409.7 668.8,438.3 645,440.7 630.7,428.8Z" fill="rgb(134,0,0)" stroke="rgb(134,0,0)" stroke-width="5.76"/>
<path d="M544.9,397.8 559.2,402.6 563.9,412.1" stroke="rgb(134,0,0)" stroke-width="12.2" fill="none"/>
<path d="M542.5,421.6 544.9,435.9 559.2,440.7 568.7,428.8 566.3,419.3" stroke="rgb(134,0,0)" stroke-width="13.12" fill="none"/>
<path d="M594.9,440.7 606.8,447.9 604.4,462.2" stroke="rgb(134,0,0)" stroke-width="11.28" fill="none"/>
<path d="M678.3,385.9 692.6,388.3 697.4,402.6 687.9,414.5 678.3,409.7" stroke="rgb(134,0,0)" stroke-width="8" fill="none"/>
<path d="M754.6,405 783.2,395.4 811.8,405 807,424 778.4,424 759.4,414.5Z" fill="rgb(134,46,87)" stroke="rgb(134,46,87)" stroke-width="3.6"/>
<path d="M674.7,443.1 692.6,445.5 702.2,459.8 697.4,466 674.7,466Z" fill="rgb(134,0,0)" stroke="rgb(134,0,0)" stroke-width="5.76"/>
<path d="M735.5,377.6 757,371.6" stroke="rgb(134,0,0)" stroke-width="3.75" fill="none"/>
<path d="M768.9,366.8 773.7,381.1 783.2,390.7" stroke="rgb(134,0,0)" stroke-width="3.75" fill="none"/>
<path d="M641,544.9 655.3,535.3 674.4,530.6 693.5,521 703,530.6 693.5,542.5 674.4,544.9 655.3,554.4 643.4,556.8Z" fill="rgb(134,0,0)" stroke="rgb(134,0,0)" stroke-width="5.76"/>
<path d="M705.4,535.3 724.4,530.6 726.8,552 722.1,573.5 707.8,583 698.2,573.5 703,554.4Z" fill="rgb(134,0,0)" stroke="rgb(134,0,0)" stroke-width="5.76"/>
<path d="M688.7,614 703,609.2 717.3,614 712.5,625.9 693.5,625.9Z" fill="rgb(134,0,0)" stroke="rgb(134,0,0)" stroke-width="5.76"/>
<path d="M643.4,573.5 660.1,583 674.4,592.5 688.7,583 698.2,575.8" stroke="rgb(134,0,0)" stroke-width="5.64" fill="none"/>
<path d="M705.4,706 712.5,687.9 722.1,673.6 731.6,659.3" stroke="rgb(134,0,0)" stroke-width="15.48" fill="none"/>
<path d="M638.6,461.4 652.9,478.1 662.5,497.2" stroke="rgb(134,0,0)" stroke-width="15.48" fill="none"/>
<path d="M679.2,449.5 693.5,447.1 703,456.7 688.7,463.8Z" fill="rgb(134,0,0)" stroke="rgb(134,0,0)" stroke-width="5.76"/>
<path d="M607.7,449.5 617.2,454.3 622,466.2" stroke="rgb(134,0,0)" stroke-width="9.84" fill="none"/>
<path d="M595.7,487.7 607.7,494.8 602.9,502" stroke="rgb(134,0,0)" stroke-width="8.92" fill="none"/>
<path d="M888.9,549.6 908,552.5 927,550.1" stroke="rgb(134,0,0)" stroke-width="16.4" fill="none"/>
<path d="M803.1,587.8 831.7,578.2 846,583 841.2,597.3 812.6,606.8Z" fill="rgb(134,46,87)" stroke="rgb(134,46,87)" stroke-width="3.6"/>
<path d="M1294.4,961.5 1300.1,948.7 1311.5,940.7 1325.8,940.1 1337.9,936.6" stroke="rgb(134,0,0)" stroke-width="14.56" fill="none"/>
<path d="M1295.8,971.5 1304.4,960.1 1307.3,971.5 1300.1,978.7Z" fill="rgb(134,0,0)" stroke="rgb(134,0,0)" stroke-width="4.32"/>
<path d="M1297.3,925.8 1317.3,928.6 1320.1,937.2 1300.1,937.2Z" fill="rgb(134,46,87)" stroke="rgb(134,46,87)" stroke-width="3.6"/>
<path d="M1321.6,898.6 1322.1,899.2" stroke="rgb(134,0,0)" stroke-width="9.75" fill="none"/>
<path d="M1308.7,1025.8 1317.3,1043 1328.7,1051.6 1343,1048.7 1357.3,1040.1 1365.9,1028.7 1367.3,1017.3" stroke="rgb(134,0,0)" stroke-width="10.36" fill="none"/>
<path d="M1331.6,1057.3 1357.3,1054.4 1360.1,1068.7 1343,1075.9 1334.4,1071.6Z" fill="rgb(134,46,87)" stroke="rgb(134,46,87)" stroke-width="2.4"/>
<path d="M1339.6,979.5 1340.1,980.1" stroke="rgb(134,0,0)" stroke-width="3" fill="none"/>
<path d="M1345.9,1000.1 1346.4,1005.8" stroke="rgb(134,0,0)" stroke-width="3" fill="none"/>
<path d="M785.8,965.8 803,974.4 817.3,985.8 825.9,1000.1" stroke="rgb(134,0,0)" stroke-width="12.2" fill="none"/>
<path d="M825.9,1013 843,1001.5 854.5,997.3 860.2,1017.3 867.3,1037.3 857.3,1023 845.9,1014.4 834.4,1017.3Z" fill="rgb(134,0,0)" stroke="rgb(134,0,0)" stroke-width="5.76"/>
<path d="M863,1023 867.3,1037.3 870.2,1048.7" stroke="rgb(134,0,0)" stroke-width="6.56" fill="none"/>
<path d="M654.8,446.9 660.5,464 666.3,485 666.3,502.2" stroke="rgb(134,0,0)" stroke-width="15.48" fill="none"/>
<path d="M483.1,473.6 498.3,463.1 517.4,460.6 532.7,458.7 544.1,454.5" stroke="rgb(134,0,0)" stroke-width="13.12" fill="none"/>
<path d="M507.9,486.9 523.1,485 521.2,502.2 509.8,502.2Z" fill="rgb(134,0,0)" stroke="rgb(134,0,0)" stroke-width="4.32"/>
<path d="M673.9,446.9 689.2,443.1 704.4,454.5 696.8,466 677.7,464Z" fill="rgb(134,0,0)" stroke="rgb(134,0,0)" stroke-width="5.76"/>
<path d="M776.7,273.3 790,277.3" stroke="rgb(157,0,0)" stroke-width="3.75" fill="none"/>
<path d="M920,290 940,286.7 953.3,293.3 943.3,306.7 930,306.7Z" fill="rgb(157,46,87)" stroke="rgb(157,46,87)" stroke-width="4.8"/>
<path d="M790,403.3 806.7,406.7 796.7,420" stroke="rgb(157,0,0)" stroke-width="3.75" fill="none"/>
<path d="M896.7,426.7 926.7,423.3 953.3,440 980,446.7 1006.7,440 1023.3,453.3 1050,466.7 1050,473.3 973.3,456.7 906.7,453.3Z" fill="rgb(157,46,87)" stroke="rgb(157,46,87)" stroke-width="1.2"/>
<path d="M1223.3,376.7 1233.3,376.7 1230,386.7Z" fill="rgb(157,46,87)"/>
<path d="M1281.7,403.3 1285,406.7" stroke="rgb(157,0,0)" stroke-width="3.75" fill="none"/>
<path d="M853.3,660 866.7,660 883.3,676.7 900,686.7 903.3,700 890,703.3 880,690 866.7,683.3 856.7,673.3Z" fill="rgb(157,46,87)" stroke="rgb(157,46,87)" stroke-width="3.6"/>
<path d="M833.3,676.7 840,683.3" stroke="rgb(157,0,0)" stroke-width="6" fill="none"/>
<path d="M858.3,701.7 858.7,702" stroke="rgb(157,0,0)" stroke-width="7.5" fill="none"/>
<path d="M1124.2,590.8 1124.5,591.2" stroke="rgb(157,0,0)" stroke-width="10.5" fill="none"/>
<path d="M1233.3,580 1245,581.7 1256.7,593.3 1256.7,601.7 1243.3,600 1235,591.7Z" fill="rgb(157,46,87)" stroke="rgb(157,46,87)" stroke-width="3.6"/>
<path d="M1017,820.6 1033.7,825.3 1028.9,842 1019.4,834.9Z" fill="rgb(157,46,87)"/>
<path d="M1062.2,801.5 1062.7,802" stroke="rgb(157,0,0)" stroke-width="6" fill="none"/>
<path d="M907.3,859.9 907.8,860.4" stroke="rgb(157,0,0)" stroke-width="6" fill="none"/>
<path d="M1258.6,847.8 1280.1,857.3 1294.4,847.8 1308.7,838.2 1327.8,833.5 1337.3,843 1323,862.1 1303.9,866.8 1284.9,871.6 1270.6,862.1Z" fill="rgb(157,46,87)" stroke="rgb(157,46,87)" stroke-width="3.6"/>
<path d="M592.5,269.1 616.4,266.7 621.1,278.6 602.1,283.4Z" fill="rgb(157,76,87)"/>
<path d="M675.9,259.6 699.8,271.5 714.1,281 714.1,319.2 697.4,323.9 675.9,321.5Z" fill="rgb(157,46,87)" stroke="rgb(157,46,87)" stroke-width="3.6"/>
<path d="M749.8,221.4 778.4,221.4 778.4,238.1 754.6,235.7Z" fill="rgb(157,46,87)" stroke="rgb(157,46,87)" stroke-width="3.6"/>
<path d="M730.8,292.9 731.2,293.4" stroke="rgb(157,0,0)" stroke-width="6.75" fill="none"/>
<path d="M789.1,276.3 789.6,276.7" stroke="rgb(157,0,0)" stroke-width="6.75" fill="none"/>
<path d="M847.5,271.5 848,272" stroke="rgb(157,0,0)" stroke-width="6.75" fill="none"/>
<path d="M773.7,271.5 774.1,272" stroke="rgb(157,0,0)" stroke-width="6.75" fill="none"/>
<path d="M730.8,408.5 737.9,409" stroke="rgb(157,0,0)" stroke-width="3.75" fill="none"/>
<path d="M840,270 853.3,273.3" stroke="rgb(181,0,0)" stroke-width="5" fill="none"/>
<path d="M878,223.3 883.3,245 893.3,265 905,286.7 911.7,305" stroke="rgb(181,0,0)" stroke-width="19.528" fill="none"/>
<path d="M911.7,305 926.7,319.3 943.3,323.3 960,320 976.7,326 996.7,327.3 1013.3,324 1030,326.7 1040,336.7 1053.3,348.3 1070,356.7 1090,361.7 1106.7,363.3 1123.3,358.3 1140,354" stroke="rgb(181,0,0)" stroke-width="15.848" fill="none"/>
<path d="M977.3,365 985,358.3 991.7,361.7 990,370 980,371.7Z" fill="rgb(181,0,0)" stroke="rgb(181,0,0)" stroke-width="2.592"/>
<path d="M808.3,331.7 820,330 815,338.3Z" fill="rgb(181,0,0)" stroke="rgb(181,0,0)" stroke-width="2.592"/>
<path d="M858.3,336.7 868.3,331.7 871.7,339.3Z" fill="rgb(181,0,0)" stroke="rgb(181,0,0)" stroke-width="1.944"/>
<path d="M1145,380 1143.3,396.7" stroke="rgb(181,0,0)" stroke-width="4" fill="none"/>
<path d="M766.7,390 783.3,386.7" stroke="rgb(181,0,0)" stroke-width="5" fill="none"/>
<path d="M823.3,420 840,430 856.7,438.3 873.3,443.3 886.7,453.3" stroke="rgb(181,0,0)" stroke-width="14.928" fill="none"/>
<path d="M886.7,453.3 880,470 863.3,480 843.3,490 823.3,500 800,505 776.7,510 756.7,515 740,520" stroke="rgb(181,0,0)" stroke-width="19.256" fill="none"/>
<path d="M890,453.3 906.7,466.7 926.7,473.3 946.7,466.7 970,458.3" stroke="rgb(181,0,0)" stroke-width="22.936" fill="none"/>
<path d="M970,458.3 993.3,460 1016.7,468.3 1040,473.3 1056.7,475" stroke="rgb(181,0,0)" stroke-width="15.848" fill="none"/>
<path d="M1056.7,475 1073.3,473.3 1093.3,478.3 1113.3,480 1130,473.3 1141.7,465" stroke="rgb(181,0,0)" stroke-width="13.088" fill="none"/>
<path d="M920,548.3 940,543.3 966.7,541.7 993.3,546.7 1020,543.3 1040,536.7" stroke="rgb(181,0,0)" stroke-width="17.416" fill="none"/>
<path d="M1040,536.7 1056.7,540 1073.3,550 1086.7,551.7" stroke="rgb(181,0,0)" stroke-width="13.088" fill="none"/>
<path d="M850,556.7 880,551.7 906.7,553.3" stroke="rgb(181,0,0)" stroke-width="14.928" fill="none"/>
<path d="M1205,376.7 1213.3,356.7 1223.3,346.7 1240,346 1258.3,351.7 1270,363.3 1270,381.7 1260,396.7 1246.7,403.3 1230,408.3 1213.3,403.3 1206.7,390Z" fill="rgb(181,0,76)" stroke="rgb(181,0,76)" stroke-width="3.24"/>
<path d="M1188.3,370 1196.7,356.7 1206.7,350" stroke="rgb(181,0,0)" stroke-width="6" fill="none"/>
<path d="M1200,466.7 1210,453.3 1220,456.7 1216.7,470 1206.7,473.3Z" fill="rgb(181,0,0)" stroke="rgb(181,0,0)" stroke-width="3.24"/>
<path d="M1260,466.7 1273.3,453.3 1286.7,446.7 1283.3,456.7 1270,470Z" fill="rgb(181,0,0)" stroke="rgb(181,0,0)" stroke-width="3.24"/>
<path d="M1156.7,495 1180,498.3 1206.7,501.7 1226.7,498.3" stroke="rgb(181,0,0)" stroke-width="24.776" fill="none"/>
<path d="M1233.3,498.3 1253.3,500 1266.7,498.3" stroke="rgb(181,0,0)" stroke-width="21.096" fill="none"/>
<path d="M1290,500 1303.3,493.3 1313.3,503.3 1311.7,523.3 1303.3,536.7 1293.3,530Z" fill="rgb(181,0,0)" stroke="rgb(181,0,0)" stroke-width="3.24"/>
<path d="M741.7,623.3 750,613.3 760,606.7 766.7,593.3 781.7,586.7 795,576.7 810,575 818.3,566.7 833.3,563.3 846.7,560 856.7,560 856.7,566.7 846.7,570 833.3,578.3 818.3,585 810,595 795,598.3 781.7,601.7 773.3,615 765,626.7 755,633.3 746.7,631.7Z" fill="rgb(181,0,0)" stroke="rgb(181,0,0)" stroke-width="3.888"/>
<path d="M948.3,560 1056.7,560 1056.7,570 1061.7,583.3 1053.3,593.3 1045,586.7 1033.3,590 1023.3,598.3 1013.3,593.3 1000,601.7 990,600 980,593.3 970,590 961.7,580 955,570Z" fill="rgb(181,0,0)" stroke="rgb(181,0,0)" stroke-width="3.24"/>
<path d="M986.7,650 1000,633.3 1013.3,626.7 1023.3,610 1030,593.3 1040,590 1053.3,598.3 1066.7,610 1080,623.3 1073.3,638.3 1056.7,643.3 1043.3,653.3 1023.3,653.3 1006.7,660 993.3,658.3Z" fill="rgb(181,0,0)" stroke="rgb(181,0,0)" stroke-width="3.888"/>
<path d="M795,655 810,660 820,656.7 833.3,655 846.7,658.3 856.7,668.3 863.3,680 873.3,686.7 886.7,683.3 895,675 910,673.3 920,683.3 928.3,693.3 936.7,705 946.7,710 946.7,726.7 936.7,736.7 923.3,745.8 873.3,745.8 866.7,736.7 853.3,730 840,720 830,710 818.3,703.3 813.3,690 806.7,676.7 796.7,666.7Z" fill="rgb(181,0,0)" stroke="rgb(181,0,0)" stroke-width="3.888"/>
<path d="M873.3,718.3 873.7,718.7" stroke="rgb(181,0,0)" stroke-width="10" fill="none"/>
<path d="M743.3,698.3 756.7,693.3 773.3,688.3 786.7,690" stroke="rgb(181,0,0)" stroke-width="9.032" fill="none"/>
<path d="M766.7,710 781.7,706.7 795,703.3" stroke="rgb(181,0,0)" stroke-width="9.952" fill="none"/>
<path d="M740,725 753.3,720 766.7,716.7" stroke="rgb(181,0,0)" stroke-width="9.032" fill="none"/>
<path d="M1013.3,728.3 1026.7,720 1038.3,708.3 1050,695 1061.7,683.3 1075,675" stroke="rgb(181,0,0)" stroke-width="14.928" fill="none"/>
<path d="M1076.7,663.3 1089.8,658.3 1089.8,680 1080,681.7Z" fill="rgb(181,0,0)" stroke="rgb(181,0,0)" stroke-width="2.592"/>
<path d="M965,716.7 990,710 1000,723.3 986.7,735 963.3,733.3Z" fill="rgb(181,230,0)"/>
<path d="M1090,581.7 1100,570 1113.3,565 1130,563.3 1145,566.7 1146.7,580 1140,593.3 1130,603.3 1123.3,616.7 1120,630 1113.3,623.3 1106.7,610 1096.7,603.3 1090,601.7Z" fill="rgb(181,0,0)" stroke="rgb(181,0,0)" stroke-width="3.888"/>
<path d="M1151.7,570 1160,571.7 1170,580 1176.7,588.3 1185,591.7 1196.7,590 1206.7,593.3 1200,605 1190,611.7 1180,606.7 1170,600 1160,593.3 1151.7,586.7Z" fill="rgb(181,0,0)" stroke="rgb(181,0,0)" stroke-width="3.24"/>
<path d="M1213.3,598.3 1223.3,593.3 1236.7,595 1246.7,601.7 1250,613.3 1246.7,626.7 1250,638.3 1258.3,650 1263.3,660 1250,663.3 1236.7,660 1223.3,653.3 1220,640 1216.7,626.7 1213.3,613.3Z" fill="rgb(181,0,0)" stroke="rgb(181,0,0)" stroke-width="3.888"/>
<path d="M1181.7,626.7 1190,618.3 1203.3,623.3 1206.7,633.3 1196.7,640 1185,636.7Z" fill="rgb(181,0,0)" stroke="rgb(181,0,0)" stroke-width="3.888"/>
<path d="M1256.7,623.3 1263.3,615 1273.3,618.3 1281.7,626.7 1290,623.3 1300,630 1290,638.3 1276.7,643.3 1265,638.3Z" fill="rgb(181,0,0)" stroke="rgb(181,0,0)" stroke-width="3.888"/>
<path d="M1296.7,603.3 1305,595 1316.7,593.3 1323.3,603.3 1320,616.7 1310,623.3 1300,616.7Z" fill="rgb(181,0,0)" stroke="rgb(181,0,0)" stroke-width="3.24"/>
<path d="M1235,566.7 1246.7,568.3 1245.8,575 1236.7,574.2Z" fill="rgb(181,0,0)" stroke="rgb(181,0,0)" stroke-width="1.944"/>
<path d="M1381,652.5 1395.3,639.4 1409.6,627.5 1428.7,623.9 1438.2,612 1435.8,600.1 1445.4,590.6 1454.9,583.4" stroke="rgb(181,0,0)" stroke-width="13.36" fill="none"/>
<path d="M1323.3,686.7 1340,680 1356.7,676.7 1373.3,666.7 1383.3,660" stroke="rgb(181,0,0)" stroke-width="11.52" fill="none"/>
<path d="M1415,710 1431.7,726.7 1439.8,730" stroke="rgb(181,0,0)" stroke-width="11.52" fill="none"/>
<path d="M1290,733.3 1306.7,726.7 1323.3,736.7 1340,726.7 1343.3,720" stroke="rgb(181,0,0)" stroke-width="12.44" fill="none"/>
<path d="M1090,686.7 1100,693.3 1111.7,706.7 1126.7,713.3 1130,723.3 1090,723.3Z" fill="rgb(181,0,0)" stroke="rgb(181,0,0)" stroke-width="3.24"/>
<path d="M1176.7,684.2 1177.5,685" stroke="rgb(181,0,0)" stroke-width="7" fill="none"/>
<path d="M1191.7,703.3 1192,703.7" stroke="rgb(181,0,0)" stroke-width="8" fill="none"/>
<path d="M704.8,796.7 719.1,787.2 731,772.9 742.9,761 754.8,753.8" stroke="rgb(181,0,0)" stroke-width="7.192" fill="none"/>
<path d="M704.8,830.1 719.1,820.6 735.7,813.4 747.7,808.6" stroke="rgb(181,0,0)" stroke-width="7.192" fill="none"/>
<path d="M709.5,765.7 723.8,758.6 735.7,744.3 747.7,737.1" stroke="rgb(181,0,0)" stroke-width="7.192" fill="none"/>
<path d="M742.9,806.3 754.8,784.8 778.6,753.8 795.3,746.7 814.4,751.4 833.5,761 843,772.9 852.5,792 843,808.6 852.5,825.3 847.8,844.4 833.5,853.9 823.9,837.2 814.4,825.3 795.3,820.6 778.6,830.1 762,834.9 747.7,825.3Z" fill="rgb(181,0,76)" stroke="rgb(181,0,76)" stroke-width="3.24"/>
<path d="M740.5,858.7 750,832.5 766.7,837.2 771.5,853.9 762,873 747.7,877.8Z" fill="rgb(181,0,76)" stroke="rgb(181,0,76)" stroke-width="3.24"/>
<path d="M776.3,887.3 795.3,882.5 800.1,901.6 790.6,920.7 778.6,911.1Z" fill="rgb(181,0,76)" stroke="rgb(181,0,76)" stroke-width="2.592"/>
<path d="M854.9,782.4 876.4,777.7 895.4,784.8 914.5,775.3 933.6,784.8 959.8,789.6 959.8,813.4 947.9,820.6 928.8,811 909.7,806.3 890.7,796.7 871.6,792 857.3,794.3Z" fill="rgb(181,0,76)" stroke="rgb(181,0,76)" stroke-width="3.24"/>
<path d="M874,734.8 890.7,739.5 914.5,737.1 938.3,744.3" stroke="rgb(181,0,0)" stroke-width="10.6" fill="none"/>
<path d="M966.9,730 995.5,730 993.1,751.4 974.1,753.8Z" fill="rgb(181,0,0)" stroke="rgb(181,0,0)" stroke-width="2.592"/>
<path d="M964.5,799.1 986,801.5 1009.8,799.1 1033.7,801.5 1048,813.4 1050.3,830.1 1033.7,844.4 1019.4,849.2 1009.8,834.9 995.5,825.3 981.2,813.4 964.5,808.6Z" fill="rgb(181,0,76)" stroke="rgb(181,0,76)" stroke-width="3.24"/>
<path d="M1038.4,853.9 1045.6,830.1 1052.7,815.8 1067,811 1076.5,825.3 1081.3,839.6 1100.4,844.4 1119.4,842 1126.6,849.2 1105.1,858.7 1081.3,853.9 1057.5,856.3Z" fill="rgb(181,0,0)" stroke="rgb(181,0,0)" stroke-width="3.24"/>
<path d="M1129,832.5 1148,825.3 1167.1,834.9 1200,844.4 1200,863.5 1167.1,858.7 1143.3,853.9 1129,858.7Z" fill="rgb(181,0,0)" stroke="rgb(181,0,0)" stroke-width="3.24"/>
<path d="M843,920.7 862.1,911.1 881.1,915.9 905,901.6 924,896.8 938.3,911.1 952.6,901.6 962.2,911.1 943.1,927.8 928.8,939.7 909.7,949.3 890.7,954 876.4,944.5 862.1,935 847.8,932.6Z" fill="rgb(181,0,76)" stroke="rgb(181,0,76)" stroke-width="3.24"/>
<path d="M864.4,944.5 876.4,949.3 874,968.3 864.4,970.7Z" fill="rgb(181,0,0)"/>
<path d="M700,901.6 723.8,911.1 747.7,920.7 778.6,932.6 804.9,935 823.9,925.4 843,920.7" stroke="rgb(181,0,0)" stroke-width="5.624" fill="none"/>
<path d="M700,877.8 714.3,873 721.4,887.3 711.9,901.6 700,896.8" stroke="rgb(181,0,0)" stroke-width="5.624" fill="none"/>
<path d="M1048,920.7 1057.5,906.4 1071.8,896.8 1086.1,906.4 1095.6,918.3 1090.8,932.6 1071.8,937.3 1057.5,935Z" fill="rgb(181,0,0)" stroke="rgb(181,0,0)" stroke-width="3.24"/>
<path d="M1090.8,778.9 1091.3,779.3" stroke="rgb(181,0,0)" stroke-width="6" fill="none"/>
<path d="M1140.9,880.1 1150.4,877.8 1152.8,889.7 1143.3,892.1Z" fill="rgb(181,0,0)" stroke="rgb(181,0,0)" stroke-width="2.592"/>
<path d="M1157.6,870.6 1200,868.2 1200,884.9 1167.1,882.5Z" fill="rgb(181,0,0)" stroke="rgb(181,0,0)" stroke-width="2.592"/>
<path d="M1211,769.1 1227.7,764.3 1246.7,759.6 1265.8,757.2 1282.5,750 1294.4,740.5" stroke="rgb(181,0,0)" stroke-width="14.28" fill="none"/>
<path d="M1282.5,738.1 1299.2,740.5 1313.5,745.3 1327.8,735.7 1339.7,726.2 1346.8,721.4 1361.1,716.7 1380.2,711.9 1399.3,709.5 1418.3,704.8 1432.6,700" stroke="rgb(181,0,0)" stroke-width="13.36" fill="none"/>
<path d="M1289.6,723.8 1323,721.4 1325.4,733.4 1294.4,735.7Z" fill="rgb(181,0,0)" stroke="rgb(181,0,0)" stroke-width="2.4"/>
<path d="M1337.3,763.2 1339.7,764.3" stroke="rgb(181,0,0)" stroke-width="6" fill="none"/>
<path d="M1413.6,714.3 1427.9,707.1 1442.2,714.3 1449.3,723.8 1437.4,728.6 1423.1,723.8Z" fill="rgb(181,0,0)" stroke="rgb(181,0,0)" stroke-width="2.592"/>
<path d="M1418.3,702.4 1454.1,704.8 1501.7,702.4" stroke="rgb(181,0,0)" stroke-width="10.6" fill="none"/>
<path d="M1222.9,833.5 1242,833.5 1258.6,828.7 1275.3,819.2 1292,814.4 1313.5,809.6 1332.5,816.8 1342.1,826.3 1332.5,828.7 1313.5,828.7 1303.9,833.5 1289.6,843 1275.3,852.5 1261,847.8 1242,843 1225.3,845.4Z" fill="rgb(181,0,0)" stroke="rgb(181,0,0)" stroke-width="3.24"/>
<path d="M1337.3,819.2 1351.6,812 1365.9,802.5 1370.7,797.7" stroke="rgb(181,0,0)" stroke-width="8.112" fill="none"/>
<path d="M1180,833.5 1199.1,840.6 1218.1,833.5 1220.5,847.8 1203.8,862.1 1180,866.8Z" fill="rgb(181,0,0)" stroke="rgb(181,0,0)" stroke-width="3.24"/>
<path d="M1180,871.6 1203.8,874 1201.4,888.3 1180,888.3Z" fill="rgb(181,0,0)" stroke="rgb(181,0,0)" stroke-width="2.592"/>
<path d="M1296.8,962.2 1308.7,943.1 1323,938.3 1337.3,938.3 1346.8,940.7" stroke="rgb(181,0,0)" stroke-width="12.44" fill="none"/>
<path d="M236.4,264.3 250.7,281 267.3,290.6 281.6,292.9" stroke="rgb(181,0,0)" stroke-width="11.52" fill="none"/>
<path d="M79.1,247.7 91,250 100.5,266.7 107.7,283.4 102.9,300.1 95.7,290.6 88.6,271.5Z" fill="rgb(181,0,0)" stroke="rgb(181,0,0)" stroke-width="2.592"/>
<path d="M155.3,433.6 167.2,426.4 179.2,433.6 176.8,447.9 160.1,450.2Z" fill="rgb(181,0,0)" stroke="rgb(181,0,0)" stroke-width="2.592"/>
<path d="M193.5,400.2 207.8,402.6 205.4,414.5 194.7,413.3Z" fill="rgb(181,0,0)" stroke="rgb(181,0,0)" stroke-width="1.944"/>
<path d="M374.6,438.3 393.7,426.4 408,433.6 417.5,447.9 403.2,459.8 379.4,457.4Z" fill="rgb(181,0,0)" stroke="rgb(181,0,0)" stroke-width="3.24"/>
<path d="M431.8,223.8 427,240.5 438.9,254.8" stroke="rgb(181,0,0)" stroke-width="10.6" fill="none"/>
<path d="M536.6,414.5 560,409.7 560,452.6 541.4,447.9Z" fill="rgb(181,0,0)" stroke="rgb(181,0,0)" stroke-width="2.592"/>
<path d="M198.2,669.7 212.5,660.2 226.8,669.7 236.4,686.4 226.8,698.3 207.8,688.8Z" fill="rgb(181,0,0)" stroke="rgb(181,0,0)" stroke-width="2.592"/>
<path d="M293.6,474.3 312.6,474.3 312.6,486.2 295.9,486.2Z" fill="rgb(181,0,0)" stroke="rgb(181,0,0)" stroke-width="1.944"/>
<path d="M326.9,479.1 346,480.3 344.8,491 328.1,489.8Z" fill="rgb(181,0,0)" stroke="rgb(181,0,0)" stroke-width="1.944"/>
<path d="M231.6,538.6 248.3,545.8 265,538.6 269.7,526.7" stroke="rgb(181,0,0)" stroke-width="8.112" fill="none"/>
<path d="M369.8,512.4 365.1,536.3 353.1,555.3" stroke="rgb(181,0,0)" stroke-width="9.952" fill="none"/>
<path d="M317.4,552.9 331.7,554.1 330.5,567.2 318.6,566.1Z" fill="rgb(181,0,0)" stroke="rgb(181,0,0)" stroke-width="1.944"/>
<path d="M489,488.6 503.3,474.3 512.8,464.8" stroke="rgb(181,0,0)" stroke-width="8.112" fill="none"/>
<path d="M508,481.4 512.8,493.4" stroke="rgb(181,0,0)" stroke-width="9.032" fill="none"/>
<path d="M446.7,780 460,781.7 459.3,793.3 447.3,792.7Z" fill="rgb(181,0,0)" stroke="rgb(181,0,0)" stroke-width="1.944"/>
<path d="M613.3,723.3 630,725 628.3,740 615,739.3Z" fill="rgb(181,0,0)" stroke="rgb(181,0,0)" stroke-width="1.944"/>
<path d="M1494.4,375.7 1506.4,368.6 1520.7,366.2 1544.5,368.6 1556.4,382.9 1558.8,402 1549.3,423.4 1535,432.9 1515.9,430.6 1496.8,418.6 1487.3,402 1492.1,385.3 1494.4,375.7" stroke="rgb(181,0,0)" stroke-width="6.544" fill="none"/>
<path d="M1496.8,380.5 1511.1,378.1 1508.7,392.4 1501.6,402 1496.8,394.8Z" fill="rgb(181,0,0)" stroke="rgb(181,0,0)" stroke-width="1.944"/>
<path d="M1406.3,452 1425.3,447.2 1434.9,459.2 1420.6,466.3 1408.6,463.9Z" fill="rgb(181,0,0)" stroke="rgb(181,0,0)" stroke-width="1.944"/>
<path d="M1496.8,483 1513.5,480.6 1515.9,502.1 1501.6,506.8Z" fill="rgb(181,0,0)" stroke="rgb(181,0,0)" stroke-width="1.944"/>
<path d="M1394.3,478.2 1415.8,475.8 1430.1,483 1408.6,487.8Z" fill="rgb(181,0,0)" stroke="rgb(181,0,0)" stroke-width="1.944"/>
<path d="M1430.1,473.5 1453.9,478.2 1449.2,485.4 1432.5,483Z" fill="rgb(181,0,0)" stroke="rgb(181,0,0)" stroke-width="1.944"/>
<path d="M1356.2,502.1 1368.1,511.6 1377.7,523.5 1392,530.7 1387.2,540.2 1372.9,537.8 1363.4,549.7 1356.2,545Z" fill="rgb(181,0,0)" stroke="rgb(181,0,0)" stroke-width="2.592"/>
<path d="M1592.2,416.3 1606.5,411.5 1616,423.4 1611.2,435.3 1596.9,432.9Z" fill="rgb(181,0,0)" stroke="rgb(181,0,0)" stroke-width="1.944"/>
<path d="M1637.4,418.6 1649.4,402 1663.7,387.7 1678,375.7 1692.2,368.6 1701.8,363.8" stroke="rgb(181,0,0)" stroke-width="13.088" fill="none"/>
<path d="M1577.9,473.5 1585,473.5 1587.4,492.5 1580.2,492.5Z" fill="rgb(181,0,0)" stroke="rgb(181,0,0)" stroke-width="1.944"/>
<path d="M1551.6,504.4 1568.3,499.7 1582.6,494.9" stroke="rgb(181,0,0)" stroke-width="6.544" fill="none"/>
<path d="M1558.8,516.4 1577.9,511.6 1592.2,506.8" stroke="rgb(181,0,0)" stroke-width="6.544" fill="none"/>
<path d="M1494.4,578.3 1511.1,575.9 1513.5,606 1496.8,606Z" fill="rgb(181,0,0)" stroke="rgb(181,0,0)" stroke-width="1.944"/>
<path d="M1430.1,587.9 1453.9,585.5 1458.7,606 1432.5,606Z" fill="rgb(181,0,0)" stroke="rgb(181,0,0)" stroke-width="2.592"/>
<path d="M1463.5,568.8 1477.8,564 1482.5,580.7 1470.6,587.9Z" fill="rgb(181,0,0)" stroke="rgb(181,0,0)" stroke-width="1.944"/>
<path d="M1330,492.5 1344.3,497.3 1349.1,521.1 1339.5,530.7 1330,528.3Z" fill="rgb(181,0,0)" stroke="rgb(181,0,0)" stroke-width="2.592"/>
<path d="M528.2,259.6 547.2,254.8 563.9,247.7 583,235.7 602.1,240.5 621.1,242.9 640.2,245.3 654.5,240.5 671.2,242.9 671.2,357.3 654.5,357.3 635.4,357.3 616.4,352.5 602.1,343 597.3,328.7 606.8,314.4 592.5,304.9 578.2,304.9 563.9,300.1 552,285.8 542.5,271.5Z" fill="rgb(181,0,76)" stroke="rgb(181,0,76)" stroke-width="3.24"/>
<path d="M583,264.3 606.8,259.6 630.7,262 654.5,259.6 664,271.5 649.7,290.6 625.9,295.3 602.1,285.8 583,278.6Z" fill="rgb(181,128,0)"/>
<path d="M674.7,247.7 692.6,247.7 716.5,254.8 737.9,238.1 754.6,233.4 773.7,240.5 790.3,250 811.8,247.7 833.2,242.9 854.7,231 866.6,219.1 876.1,223.8 880.9,271.5 873.7,281 854.7,290.6 830.8,295.3 821.3,307.2 811.8,319.2 790.3,323.9 773.7,312 757,312 740.3,319.2 721.2,323.9 714.1,314.4 714.1,295.3 716.5,278.6 702.2,271.5 687.9,254.8 674.7,257.2Z" fill="rgb(181,0,0)" stroke="rgb(181,0,0)" stroke-width="3.888"/>
<path d="M678.3,295.3 692.6,290.6 702.2,304.9 683.1,312Z" fill="rgb(181,76,0)"/>
<path d="M674.7,333.5 697.4,331.1 716.5,338.2 721.2,347.8 706.9,357.3 697.4,366.8 674.7,364.4Z" fill="rgb(181,0,0)" stroke="rgb(181,0,0)" stroke-width="3.24"/>
<path d="M602.1,364.4 668.8,364.4 668.8,381.1 654.5,390.7 640.2,385.9 630.7,397.8 616.4,390.7 606.8,376.4Z" fill="rgb(181,0,0)" stroke="rgb(181,0,0)" stroke-width="3.24"/>
<path d="M625.9,414.5 668.8,409.7 668.8,438.3 645,440.7 630.7,428.8Z" fill="rgb(181,0,0)" stroke="rgb(181,0,0)" stroke-width="2.592"/>
<path d="M544.9,397.8 559.2,402.6 563.9,412.1" stroke="rgb(181,0,0)" stroke-width="9.032" fill="none"/>
<path d="M542.5,421.6 544.9,435.9 559.2,440.7 568.7,428.8 566.3,419.3" stroke="rgb(181,0,0)" stroke-width="9.952" fill="none"/>
<path d="M594.9,440.7 606.8,447.9 604.4,462.2" stroke="rgb(181,0,0)" stroke-width="8.112" fill="none"/>
<path d="M678.3,385.9 692.6,388.3 697.4,402.6 687.9,414.5 678.3,409.7" stroke="rgb(181,0,0)" stroke-width="5.624" fill="none"/>
<path d="M795.1,418.1 795.6,418.5" stroke="rgb(181,0,0)" stroke-width="6" fill="none"/>
<path d="M859.4,397.8 859.9,398.3" stroke="rgb(181,0,0)" stroke-width="6" fill="none"/>
<path d="M847.5,406.1 848,406.6" stroke="rgb(181,0,0)" stroke-width="6" fill="none"/>
<path d="M773.7,385.9 774.1,386.4" stroke="rgb(181,0,0)" stroke-width="6" fill="none"/>
<path d="M674.7,443.1 692.6,445.5 702.2,459.8 697.4,466 674.7,466Z" fill="rgb(181,0,0)" stroke="rgb(181,0,0)" stroke-width="2.592"/>
<path d="M641,544.9 655.3,535.3 674.4,530.6 693.5,521 703,530.6 693.5,542.5 674.4,544.9 655.3,554.4 643.4,556.8Z" fill="rgb(181,0,0)" stroke="rgb(181,0,0)" stroke-width="2.592"/>
<path d="M705.4,535.3 724.4,530.6 726.8,552 722.1,573.5 707.8,583 698.2,573.5 703,554.4Z" fill="rgb(181,0,0)" stroke="rgb(181,0,0)" stroke-width="2.592"/>
<path d="M688.7,614 703,609.2 717.3,614 712.5,625.9 693.5,625.9Z" fill="rgb(181,0,0)" stroke="rgb(181,0,0)" stroke-width="2.592"/>
<path d="M643.4,573.5 660.1,583 674.4,592.5 688.7,583 698.2,575.8" stroke="rgb(181,0,0)" stroke-width="4.056" fill="none"/>
<path d="M705.4,706 712.5,687.9 722.1,673.6 731.6,659.3" stroke="rgb(181,0,0)" stroke-width="11.52" fill="none"/>
<path d="M638.6,461.4 652.9,478.1 662.5,497.2" stroke="rgb(181,0,0)" stroke-width="11.52" fill="none"/>
<path d="M679.2,449.5 693.5,447.1 703,456.7 688.7,463.8Z" fill="rgb(181,0,0)" stroke="rgb(181,0,0)" stroke-width="2.592"/>
<path d="M607.7,449.5 617.2,454.3 622,466.2" stroke="rgb(181,0,0)" stroke-width="7.464" fill="none"/>
<path d="M595.7,487.7 607.7,494.8 602.9,502" stroke="rgb(181,0,0)" stroke-width="6.544" fill="none"/>
<path d="M888.9,549.6 908,552.5 927,550.1" stroke="rgb(181,0,0)" stroke-width="12.44" fill="none"/>
<path d="M848.4,510.3 848.8,510.8" stroke="rgb(181,0,0)" stroke-width="8" fill="none"/>
<path d="M1294.4,961.5 1300.1,948.7 1311.5,940.7 1325.8,940.1 1337.9,936.6" stroke="rgb(181,0,0)" stroke-width="10.6" fill="none"/>
<path d="M1295.8,971.5 1304.4,960.1 1307.3,971.5 1300.1,978.7Z" fill="rgb(181,0,0)" stroke="rgb(181,0,0)" stroke-width="1.944"/>
<path d="M1308.7,1025.8 1317.3,1043 1328.7,1051.6 1343,1048.7 1357.3,1040.1 1365.9,1028.7 1367.3,1017.3" stroke="rgb(181,0,0)" stroke-width="7.192" fill="none"/>
<path d="M1340.1,1064.4 1340.7,1065" stroke="rgb(181,0,0)" stroke-width="5" fill="none"/>
<path d="M785.8,965.8 803,974.4 817.3,985.8 825.9,1000.1" stroke="rgb(181,0,0)" stroke-width="9.032" fill="none"/>
<path d="M825.9,1013 843,1001.5 854.5,997.3 860.2,1017.3 867.3,1037.3 857.3,1023 845.9,1014.4 834.4,1017.3Z" fill="rgb(181,0,0)" stroke="rgb(181,0,0)" stroke-width="2.592"/>
<path d="M863,1023 867.3,1037.3 870.2,1048.7" stroke="rgb(181,0,0)" stroke-width="4.976" fill="none"/>
<path d="M654.8,446.9 660.5,464 666.3,485 666.3,502.2" stroke="rgb(181,0,0)" stroke-width="11.52" fill="none"/>
<path d="M483.1,473.6 498.3,463.1 517.4,460.6 532.7,458.7 544.1,454.5" stroke="rgb(181,0,0)" stroke-width="9.952" fill="none"/>
<path d="M507.9,486.9 523.1,485 521.2,502.2 509.8,502.2Z" fill="rgb(181,0,0)" stroke="rgb(181,0,0)" stroke-width="1.944"/>
<path d="M673.9,446.9 689.2,443.1 704.4,454.5 696.8,466 677.7,464Z" fill="rgb(181,0,0)" stroke="rgb(181,0,0)" stroke-width="2.592"/>
<path d="M1205,376.7 1213.3,356.7 1223.3,346.7 1240,346 1258.3,351.7 1270,363.3 1270,381.7 1260,396.7 1246.7,403.3 1230,408.3 1213.3,403.3 1206.7,390Z" fill="rgb(209,115,140)"/>
<path d="M742.9,806.3 754.8,784.8 778.6,753.8 795.3,746.7 814.4,751.4 833.5,761 843,772.9 852.5,792 843,808.6 852.5,825.3 847.8,844.4 833.5,853.9 823.9,837.2 814.4,825.3 795.3,820.6 778.6,830.1 762,834.9 747.7,825.3Z" fill="rgb(189,128,153)"/>
<path d="M740.5,858.7 750,832.5 766.7,837.2 771.5,853.9 762,873 747.7,877.8Z" fill="rgb(189,128,153)"/>
<path d="M776.3,887.3 795.3,882.5 800.1,901.6 790.6,920.7 778.6,911.1Z" fill="rgb(189,128,153)"/>
<path d="M854.9,782.4 876.4,777.7 895.4,784.8 914.5,775.3 933.6,784.8 959.8,789.6 959.8,813.4 947.9,820.6 928.8,811 909.7,806.3 890.7,796.7 871.6,792 857.3,794.3Z" fill="rgb(189,128,153)"/>
<path d="M964.5,799.1 986,801.5 1009.8,799.1 1033.7,801.5 1048,813.4 1050.3,830.1 1033.7,844.4 1019.4,849.2 1009.8,834.9 995.5,825.3 981.2,813.4 964.5,808.6Z" fill="rgb(189,128,153)"/>
<path d="M843,920.7 862.1,911.1 881.1,915.9 905,901.6 924,896.8 938.3,911.1 952.6,901.6 962.2,911.1 943.1,927.8 928.8,939.7 909.7,949.3 890.7,954 876.4,944.5 862.1,935 847.8,932.6Z" fill="rgb(189,128,153)"/>
<path d="M528.2,259.6 547.2,254.8 563.9,247.7 583,235.7 602.1,240.5 621.1,242.9 640.2,245.3 654.5,240.5 671.2,242.9 671.2,357.3 654.5,357.3 635.4,357.3 616.4,352.5 602.1,343 597.3,328.7 606.8,314.4 592.5,304.9 578.2,304.9 563.9,300.1 552,285.8 542.5,271.5Z" fill="rgb(224,102,128)"/>
<path d="M471.6,364.8 525,364.8 525,397.3 494.5,401.1 471.6,393.4Z" fill="rgb(153,153,128)"/>
<path d="M878,223.3 883.3,245 893.3,265 905,286.7 911.7,305" stroke="rgb(255,0,64)" stroke-width="15.64" fill="none"/>
<path d="M911.7,305 926.7,319.3 943.3,323.3 960,320 976.7,326 996.7,327.3 1013.3,324 1030,326.7 1040,336.7 1053.3,348.3 1070,356.7 1090,361.7 1106.7,363.3 1123.3,358.3 1140,354" stroke="rgb(255,0,64)" stroke-width="11.96" fill="none"/>
<path d="M953.3,306.7 960,300 961.7,313.3" stroke="rgb(255,0,0)" stroke-width="10" fill="none"/>
<path d="M950.7,277.3 956.7,273.3 962.7,277.3 960,283.3 953.3,283.3 950.7,277.3" stroke="rgb(255,0,0)" stroke-width="5" fill="none"/>
<path d="M977.3,365 985,358.3 991.7,361.7 990,370 980,371.7Z" fill="rgb(255,0,92)"/>
<path d="M808.3,331.7 820,330 815,338.3Z" fill="rgb(255,0,92)"/>
<path d="M858.3,336.7 868.3,331.7 871.7,339.3Z" fill="rgb(255,0,92)"/>
<path d="M1048.3,270 1060,261.7 1073.3,255" stroke="rgb(255,0,0)" stroke-width="4" fill="none"/>
<path d="M1058.3,288.3 1068.3,286.7" stroke="rgb(255,0,0)" stroke-width="6" fill="none"/>
<path d="M858.3,397.3 860,398.3" stroke="rgb(255,0,0)" stroke-width="5" fill="none"/>
<path d="M846.7,406.7 847.3,407.3" stroke="rgb(255,0,0)" stroke-width="4" fill="none"/>
<path d="M823.3,420 840,430 856.7,438.3 873.3,443.3 886.7,453.3" stroke="rgb(255,0,64)" stroke-width="11.04" fill="none"/>
<path d="M886.7,453.3 880,470 863.3,480 843.3,490 823.3,500 800,505 776.7,510 756.7,515 740,520" stroke="rgb(255,0,64)" stroke-width="14.72" fill="none"/>
<path d="M890,453.3 906.7,466.7 926.7,473.3 946.7,466.7 970,458.3" stroke="rgb(255,0,64)" stroke-width="18.4" fill="none"/>
<path d="M970,458.3 993.3,460 1016.7,468.3 1040,473.3 1056.7,475" stroke="rgb(255,0,64)" stroke-width="11.96" fill="none"/>
<path d="M1056.7,475 1073.3,473.3 1093.3,478.3 1113.3,480 1130,473.3 1141.7,465" stroke="rgb(255,0,64)" stroke-width="9.2" fill="none"/>
<path d="M920,548.3 940,543.3 966.7,541.7 993.3,546.7 1020,543.3 1040,536.7" stroke="rgb(255,0,64)" stroke-width="12.88" fill="none"/>
<path d="M1040,536.7 1056.7,540 1073.3,550 1086.7,551.7" stroke="rgb(255,0,64)" stroke-width="9.2" fill="none"/>
<path d="M850,556.7 880,551.7 906.7,553.3" stroke="rgb(255,0,64)" stroke-width="11.04" fill="none"/>
<path d="M1200,466.7 1210,453.3 1220,456.7 1216.7,470 1206.7,473.3Z" fill="rgb(255,0,92)"/>
<path d="M1260,466.7 1273.3,453.3 1286.7,446.7 1283.3,456.7 1270,470Z" fill="rgb(255,0,92)"/>
<path d="M1156.7,495 1180,498.3 1206.7,501.7 1226.7,498.3" stroke="rgb(255,0,64)" stroke-width="20.24" fill="none"/>
<path d="M1233.3,498.3 1253.3,500 1266.7,498.3" stroke="rgb(255,0,64)" stroke-width="16.56" fill="none"/>
<path d="M1290,500 1303.3,493.3 1313.3,503.3 1311.7,523.3 1303.3,536.7 1293.3,530Z" fill="rgb(255,0,92)"/>
<path d="M1326.7,490 1340,510 1350,523.3" stroke="rgb(255,0,0)" stroke-width="8" fill="none"/>
<path d="M741.7,623.3 750,613.3 760,606.7 766.7,593.3 781.7,586.7 795,576.7 810,575 818.3,566.7 833.3,563.3 846.7,560 856.7,560 856.7,566.7 846.7,570 833.3,578.3 818.3,585 810,595 795,598.3 781.7,601.7 773.3,615 765,626.7 755,633.3 746.7,631.7Z" fill="rgb(255,0,92)"/>
<path d="M881.7,632.5 882,632.8" stroke="rgb(255,0,0)" stroke-width="8" fill="none"/>
<path d="M948.3,560 1056.7,560 1056.7,570 1061.7,583.3 1053.3,593.3 1045,586.7 1033.3,590 1023.3,598.3 1013.3,593.3 1000,601.7 990,600 980,593.3 970,590 961.7,580 955,570Z" fill="rgb(255,0,92)"/>
<path d="M986.7,650 1000,633.3 1013.3,626.7 1023.3,610 1030,593.3 1040,590 1053.3,598.3 1066.7,610 1080,623.3 1073.3,638.3 1056.7,643.3 1043.3,653.3 1023.3,653.3 1006.7,660 993.3,658.3Z" fill="rgb(255,0,92)"/>
<path d="M966.7,663.7 967,664" stroke="rgb(255,0,0)" stroke-width="14" fill="none"/>
<path d="M795,655 810,660 820,656.7 833.3,655 846.7,658.3 856.7,668.3 863.3,680 873.3,686.7 886.7,683.3 895,675 910,673.3 920,683.3 928.3,693.3 936.7,705 946.7,710 946.7,726.7 936.7,736.7 923.3,745.8 873.3,745.8 866.7,736.7 853.3,730 840,720 830,710 818.3,703.3 813.3,690 806.7,676.7 796.7,666.7Z" fill="rgb(255,0,92)"/>
<path d="M743.3,698.3 756.7,693.3 773.3,688.3 786.7,690" stroke="rgb(255,0,64)" stroke-width="6.44" fill="none"/>
<path d="M766.7,710 781.7,706.7 795,703.3" stroke="rgb(255,0,64)" stroke-width="7.36" fill="none"/>
<path d="M740,725 753.3,720 766.7,716.7" stroke="rgb(255,0,64)" stroke-width="6.44" fill="none"/>
<path d="M1013.3,728.3 1026.7,720 1038.3,708.3 1050,695 1061.7,683.3 1075,675" stroke="rgb(255,0,64)" stroke-width="11.04" fill="none"/>
<path d="M1076.7,663.3 1089.8,658.3 1089.8,680 1080,681.7Z" fill="rgb(255,0,92)"/>
<path d="M1090,581.7 1100,570 1113.3,565 1130,563.3 1145,566.7 1146.7,580 1140,593.3 1130,603.3 1123.3,616.7 1120,630 1113.3,623.3 1106.7,610 1096.7,603.3 1090,601.7Z" fill="rgb(255,0,92)"/>
<path d="M1151.7,570 1160,571.7 1170,580 1176.7,588.3 1185,591.7 1196.7,590 1206.7,593.3 1200,605 1190,611.7 1180,606.7 1170,600 1160,593.3 1151.7,586.7Z" fill="rgb(255,0,92)"/>
<path d="M1213.3,598.3 1223.3,593.3 1236.7,595 1246.7,601.7 1250,613.3 1246.7,626.7 1250,638.3 1258.3,650 1263.3,660 1250,663.3 1236.7,660 1223.3,653.3 1220,640 1216.7,626.7 1213.3,613.3Z" fill="rgb(255,0,92)"/>
<path d="M1181.7,626.7 1190,618.3 1203.3,623.3 1206.7,633.3 1196.7,640 1185,636.7Z" fill="rgb(255,0,92)"/>
<path d="M1256.7,623.3 1263.3,615 1273.3,618.3 1281.7,626.7 1290,623.3 1300,630 1290,638.3 1276.7,643.3 1265,638.3Z" fill="rgb(255,0,92)"/>
<path d="M1296.7,603.3 1305,595 1316.7,593.3 1323.3,603.3 1320,616.7 1310,623.3 1300,616.7Z" fill="rgb(255,0,92)"/>
<path d="M1235,566.7 1246.7,568.3 1245.8,575 1236.7,574.2Z" fill="rgb(255,0,92)"/>
<path d="M1381,652.5 1395.3,639.4 1409.6,627.5 1428.7,623.9 1438.2,612 1435.8,600.1 1445.4,590.6 1454.9,583.4" stroke="rgb(255,0,64)" stroke-width="10.12" fill="none"/>
<path d="M1323.3,686.7 1340,680 1356.7,676.7 1373.3,666.7 1383.3,660" stroke="rgb(255,0,64)" stroke-width="8.28" fill="none"/>
<path d="M1415,710 1431.7,726.7 1439.8,730" stroke="rgb(255,0,64)" stroke-width="8.28" fill="none"/>
<path d="M1290,733.3 1306.7,726.7 1323.3,736.7 1340,726.7 1343.3,720" stroke="rgb(255,0,64)" stroke-width="9.2" fill="none"/>
<path d="M1090,686.7 1100,693.3 1111.7,706.7 1126.7,713.3 1130,723.3 1090,723.3Z" fill="rgb(255,0,92)"/>
<path d="M704.8,796.7 719.1,787.2 731,772.9 742.9,761 754.8,753.8" stroke="rgb(255,0,64)" stroke-width="4.6" fill="none"/>
<path d="M704.8,830.1 719.1,820.6 735.7,813.4 747.7,808.6" stroke="rgb(255,0,64)" stroke-width="4.6" fill="none"/>
<path d="M709.5,765.7 723.8,758.6 735.7,744.3 747.7,737.1" stroke="rgb(255,0,64)" stroke-width="4.6" fill="none"/>
<path d="M874,734.8 890.7,739.5 914.5,737.1 938.3,744.3" stroke="rgb(255,0,64)" stroke-width="7.36" fill="none"/>
<path d="M966.9,730 995.5,730 993.1,751.4 974.1,753.8Z" fill="rgb(255,0,92)"/>
<path d="M1038.4,853.9 1045.6,830.1 1052.7,815.8 1067,811 1076.5,825.3 1081.3,839.6 1100.4,844.4 1119.4,842 1126.6,849.2 1105.1,858.7 1081.3,853.9 1057.5,856.3Z" fill="rgb(255,0,92)"/>
<path d="M1129,832.5 1148,825.3 1167.1,834.9 1200,844.4 1200,863.5 1167.1,858.7 1143.3,853.9 1129,858.7Z" fill="rgb(255,0,92)"/>
<path d="M700,901.6 723.8,911.1 747.7,920.7 778.6,932.6 804.9,935 823.9,925.4 843,920.7" stroke="rgb(255,0,64)" stroke-width="3.68" fill="none"/>
<path d="M700,877.8 714.3,873 721.4,887.3 711.9,901.6 700,896.8" stroke="rgb(255,0,64)" stroke-width="3.68" fill="none"/>
<path d="M1048,920.7 1057.5,906.4 1071.8,896.8 1086.1,906.4 1095.6,918.3 1090.8,932.6 1071.8,937.3 1057.5,935Z" fill="rgb(255,0,92)"/>
<path d="M1140.9,880.1 1150.4,877.8 1152.8,889.7 1143.3,892.1Z" fill="rgb(255,0,92)"/>
<path d="M1157.6,870.6 1200,868.2 1200,884.9 1167.1,882.5Z" fill="rgb(255,0,92)"/>
<path d="M1211,769.1 1227.7,764.3 1246.7,759.6 1265.8,757.2 1282.5,750 1294.4,740.5" stroke="rgb(255,0,64)" stroke-width="11.04" fill="none"/>
<path d="M1282.5,738.1 1299.2,740.5 1313.5,745.3 1327.8,735.7 1339.7,726.2 1346.8,721.4 1361.1,716.7 1380.2,711.9 1399.3,709.5 1418.3,704.8 1432.6,700" stroke="rgb(255,0,64)" stroke-width="10.12" fill="none"/>
<path d="M1413.6,714.3 1427.9,707.1 1442.2,714.3 1449.3,723.8 1437.4,728.6 1423.1,723.8Z" fill="rgb(255,0,92)"/>
<path d="M1418.3,702.4 1454.1,704.8 1501.7,702.4" stroke="rgb(255,0,64)" stroke-width="7.36" fill="none"/>
<path d="M1222.9,833.5 1242,833.5 1258.6,828.7 1275.3,819.2 1292,814.4 1313.5,809.6 1332.5,816.8 1342.1,826.3 1332.5,828.7 1313.5,828.7 1303.9,833.5 1289.6,843 1275.3,852.5 1261,847.8 1242,843 1225.3,845.4Z" fill="rgb(255,0,92)"/>
<path d="M1301.5,843 1302,843.5" stroke="rgb(255,0,0)" stroke-width="8" fill="none"/>
<path d="M1284.9,844.2 1285.3,844.7" stroke="rgb(255,0,0)" stroke-width="8" fill="none"/>
<path d="M1272.9,846.6 1273.4,847" stroke="rgb(255,0,0)" stroke-width="8" fill="none"/>
<path d="M1282.5,857.3 1287.2,864.4" stroke="rgb(255,0,0)" stroke-width="10" fill="none"/>
<path d="M1337.3,819.2 1351.6,812 1365.9,802.5 1370.7,797.7" stroke="rgb(255,0,64)" stroke-width="5.52" fill="none"/>
<path d="M1180,833.5 1199.1,840.6 1218.1,833.5 1220.5,847.8 1203.8,862.1 1180,866.8Z" fill="rgb(255,0,92)"/>
<path d="M1180,871.6 1203.8,874 1201.4,888.3 1180,888.3Z" fill="rgb(255,0,92)"/>
<path d="M1321.8,897.8 1322.3,898.3" stroke="rgb(255,0,0)" stroke-width="7" fill="none"/>
<path d="M1296.8,962.2 1308.7,943.1 1323,938.3 1337.3,938.3 1346.8,940.7" stroke="rgb(255,0,64)" stroke-width="9.2" fill="none"/>
<path d="M1296.8,930 1297.3,930.5" stroke="rgb(255,0,0)" stroke-width="6" fill="none"/>
<path d="M236.4,264.3 250.7,281 267.3,290.6 281.6,292.9" stroke="rgb(255,0,64)" stroke-width="8.28" fill="none"/>
<path d="M79.1,247.7 91,250 100.5,266.7 107.7,283.4 102.9,300.1 95.7,290.6 88.6,271.5Z" fill="rgb(255,0,92)"/>
<path d="M155.3,433.6 167.2,426.4 179.2,433.6 176.8,447.9 160.1,450.2Z" fill="rgb(255,0,92)"/>
<path d="M193.5,400.2 207.8,402.6 205.4,414.5 194.7,413.3Z" fill="rgb(255,0,92)"/>
<path d="M374.6,438.3 393.7,426.4 408,433.6 417.5,447.9 403.2,459.8 379.4,457.4Z" fill="rgb(255,0,92)"/>
<path d="M431.8,223.8 427,240.5 438.9,254.8" stroke="rgb(255,0,64)" stroke-width="7.36" fill="none"/>
<path d="M536.6,414.5 560,409.7 560,452.6 541.4,447.9Z" fill="rgb(255,0,92)"/>
<path d="M198.2,669.7 212.5,660.2 226.8,669.7 236.4,686.4 226.8,698.3 207.8,688.8Z" fill="rgb(255,0,92)"/>
<path d="M293.6,474.3 312.6,474.3 312.6,486.2 295.9,486.2Z" fill="rgb(255,0,92)"/>
<path d="M326.9,479.1 346,480.3 344.8,491 328.1,489.8Z" fill="rgb(255,0,92)"/>
<path d="M231.6,538.6 248.3,545.8 265,538.6 269.7,526.7" stroke="rgb(255,0,64)" stroke-width="5.52" fill="none"/>
<path d="M369.8,512.4 365.1,536.3 353.1,555.3" stroke="rgb(255,0,64)" stroke-width="7.36" fill="none"/>
<path d="M317.4,552.9 331.7,554.1 330.5,567.2 318.6,566.1Z" fill="rgb(255,0,92)"/>
<path d="M489,488.6 503.3,474.3 512.8,464.8" stroke="rgb(255,0,64)" stroke-width="5.52" fill="none"/>
<path d="M508,481.4 512.8,493.4" stroke="rgb(255,0,64)" stroke-width="6.44" fill="none"/>
<path d="M446.7,780 460,781.7 459.3,793.3 447.3,792.7Z" fill="rgb(255,0,92)"/>
<path d="M613.3,723.3 630,725 628.3,740 615,739.3Z" fill="rgb(255,0,92)"/>
<path d="M1494.4,375.7 1506.4,368.6 1520.7,366.2 1544.5,368.6 1556.4,382.9 1558.8,402 1549.3,423.4 1535,432.9 1515.9,430.6 1496.8,418.6 1487.3,402 1492.1,385.3 1494.4,375.7" stroke="rgb(255,0,64)" stroke-width="4.6" fill="none"/>
<path d="M1496.8,380.5 1511.1,378.1 1508.7,392.4 1501.6,402 1496.8,394.8Z" fill="rgb(255,0,92)"/>
<path d="M1406.3,452 1425.3,447.2 1434.9,459.2 1420.6,466.3 1408.6,463.9Z" fill="rgb(255,0,92)"/>
<path d="M1496.8,483 1513.5,480.6 1515.9,502.1 1501.6,506.8Z" fill="rgb(255,0,92)"/>
<path d="M1394.3,478.2 1415.8,475.8 1430.1,483 1408.6,487.8Z" fill="rgb(255,0,92)"/>
<path d="M1430.1,473.5 1453.9,478.2 1449.2,485.4 1432.5,483Z" fill="rgb(255,0,92)"/>
<path d="M1356.2,502.1 1368.1,511.6 1377.7,523.5 1392,530.7 1387.2,540.2 1372.9,537.8 1363.4,549.7 1356.2,545Z" fill="rgb(255,0,92)"/>
<path d="M1592.2,416.3 1606.5,411.5 1616,423.4 1611.2,435.3 1596.9,432.9Z" fill="rgb(255,0,92)"/>
<path d="M1637.4,418.6 1649.4,402 1663.7,387.7 1678,375.7 1692.2,368.6 1701.8,363.8" stroke="rgb(255,0,64)" stroke-width="9.2" fill="none"/>
<path d="M1577.9,473.5 1585,473.5 1587.4,492.5 1580.2,492.5Z" fill="rgb(255,0,92)"/>
<path d="M1551.6,504.4 1568.3,499.7 1582.6,494.9" stroke="rgb(255,0,64)" stroke-width="4.6" fill="none"/>
<path d="M1558.8,516.4 1577.9,511.6 1592.2,506.8" stroke="rgb(255,0,64)" stroke-width="4.6" fill="none"/>
<path d="M1494.4,578.3 1511.1,575.9 1513.5,606 1496.8,606Z" fill="rgb(255,0,92)"/>
<path d="M1430.1,587.9 1453.9,585.5 1458.7,606 1432.5,606Z" fill="rgb(255,0,92)"/>
<path d="M1463.5,568.8 1477.8,564 1482.5,580.7 1470.6,587.9Z" fill="rgb(255,0,92)"/>
<path d="M1330,492.5 1344.3,497.3 1349.1,521.1 1339.5,530.7 1330,528.3Z" fill="rgb(255,0,92)"/>
<path d="M674.7,247.7 692.6,247.7 716.5,254.8 737.9,238.1 754.6,233.4 773.7,240.5 790.3,250 811.8,247.7 833.2,242.9 854.7,231 866.6,219.1 876.1,223.8 880.9,271.5 873.7,281 854.7,290.6 830.8,295.3 821.3,307.2 811.8,319.2 790.3,323.9 773.7,312 757,312 740.3,319.2 721.2,323.9 714.1,314.4 714.1,295.3 716.5,278.6 702.2,271.5 687.9,254.8 674.7,257.2Z" fill="rgb(255,0,92)"/>
<path d="M674.7,333.5 697.4,331.1 716.5,338.2 721.2,347.8 706.9,357.3 697.4,366.8 674.7,364.4Z" fill="rgb(255,0,92)"/>
<path d="M602.1,364.4 668.8,364.4 668.8,381.1 654.5,390.7 640.2,385.9 630.7,397.8 616.4,390.7 606.8,376.4Z" fill="rgb(255,0,92)"/>
<path d="M625.9,414.5 668.8,409.7 668.8,438.3 645,440.7 630.7,428.8Z" fill="rgb(255,0,92)"/>
<path d="M544.9,397.8 559.2,402.6 563.9,412.1" stroke="rgb(255,0,64)" stroke-width="6.44" fill="none"/>
<path d="M542.5,421.6 544.9,435.9 559.2,440.7 568.7,428.8 566.3,419.3" stroke="rgb(255,0,64)" stroke-width="7.36" fill="none"/>
<path d="M594.9,440.7 606.8,447.9 604.4,462.2" stroke="rgb(255,0,64)" stroke-width="5.52" fill="none"/>
<path d="M678.3,385.9 692.6,388.3 697.4,402.6 687.9,414.5 678.3,409.7" stroke="rgb(255,0,64)" stroke-width="3.68" fill="none"/>
<path d="M674.7,443.1 692.6,445.5 702.2,459.8 697.4,466 674.7,466Z" fill="rgb(255,0,92)"/>
<path d="M641,544.9 655.3,535.3 674.4,530.6 693.5,521 703,530.6 693.5,542.5 674.4,544.9 655.3,554.4 643.4,556.8Z" fill="rgb(255,0,92)"/>
<path d="M705.4,535.3 724.4,530.6 726.8,552 722.1,573.5 707.8,583 698.2,573.5 703,554.4Z" fill="rgb(255,0,92)"/>
<path d="M688.7,614 703,609.2 717.3,614 712.5,625.9 693.5,625.9Z" fill="rgb(255,0,92)"/>
<path d="M643.4,573.5 660.1,583 674.4,592.5 688.7,583 698.2,575.8" stroke="rgb(255,0,64)" stroke-width="2.76" fill="none"/>
<path d="M705.4,706 712.5,687.9 722.1,673.6 731.6,659.3" stroke="rgb(255,0,64)" stroke-width="8.28" fill="none"/>
<path d="M638.6,461.4 652.9,478.1 662.5,497.2" stroke="rgb(255,0,64)" stroke-width="8.28" fill="none"/>
<path d="M679.2,449.5 693.5,447.1 703,456.7 688.7,463.8Z" fill="rgb(255,0,92)"/>
<path d="M607.7,449.5 617.2,454.3 622,466.2" stroke="rgb(255,0,64)" stroke-width="5.52" fill="none"/>
<path d="M595.7,487.7 607.7,494.8 602.9,502" stroke="rgb(255,0,64)" stroke-width="4.6" fill="none"/>
<path d="M888.9,549.6 908,552.5 927,550.1" stroke="rgb(255,0,64)" stroke-width="9.2" fill="none"/>
<path d="M1294.4,961.5 1300.1,948.7 1311.5,940.7 1325.8,940.1 1337.9,936.6" stroke="rgb(255,0,64)" stroke-width="7.36" fill="none"/>
<path d="M1295.8,971.5 1304.4,960.1 1307.3,971.5 1300.1,978.7Z" fill="rgb(255,0,92)"/>
<path d="M1297.3,930.1 1297.8,930.6" stroke="rgb(255,0,0)" stroke-width="6" fill="none"/>
<path d="M1321.6,898.6 1322.1,899.2" stroke="rgb(255,0,0)" stroke-width="6" fill="none"/>
<path d="M1308.7,1025.8 1317.3,1043 1328.7,1051.6 1343,1048.7 1357.3,1040.1 1365.9,1028.7 1367.3,1017.3" stroke="rgb(255,0,64)" stroke-width="4.6" fill="none"/>
<path d="M1353,1068.7 1353.6,1069.3" stroke="rgb(255,0,0)" stroke-width="6" fill="none"/>
<path d="M785.8,965.8 803,974.4 817.3,985.8 825.9,1000.1" stroke="rgb(255,0,64)" stroke-width="6.44" fill="none"/>
<path d="M825.9,1013 843,1001.5 854.5,997.3 860.2,1017.3 867.3,1037.3 857.3,1023 845.9,1014.4 834.4,1017.3Z" fill="rgb(255,0,92)"/>
<path d="M863,1023 867.3,1037.3 870.2,1048.7" stroke="rgb(255,0,64)" stroke-width="3.68" fill="none"/>
<path d="M654.8,446.9 660.5,464 666.3,485 666.3,502.2" stroke="rgb(255,0,64)" stroke-width="8.28" fill="none"/>
<path d="M483.1,473.6 498.3,463.1 517.4,460.6 532.7,458.7 544.1,454.5" stroke="rgb(255,0,64)" stroke-width="7.36" fill="none"/>
<path d="M507.9,486.9 523.1,485 521.2,502.2 509.8,502.2Z" fill="rgb(255,0,92)"/>
<path d="M673.9,446.9 689.2,443.1 704.4,454.5 696.8,466 677.7,464Z" fill="rgb(255,0,92)"/>
</g>
</g>
<path d="M1102,258 1110,252 1122,246 1125,249 1114,256 1106,261Z" fill="#1B75D0"/>
<path d="M1056,289 1062,286 1070,285 1069,291 1060,292Z" fill="#CD0000"/>
<rect x="1051.8" y="286.8" width="2.4" height="2.4" fill="#F7D800"/>
<rect x="1064.5" y="281.5" width="3" height="3" fill="#CD0000"/>
<path d="M1243,306 1252,306 1252,319 1270,319 1270,329 1250,329 1243,318Z" fill="#1B75D0"/>
<path d="M1205,331 1214,331 1214,341 1206,341Z" fill="#1B75D0"/>
<rect x="1188.8" y="355.8" width="4.4" height="4.4" fill="#CD0000"/>
<rect x="1192.5" y="352.5" width="3" height="3" fill="#CD0000"/>
<rect x="1199.7" y="344.7" width="2.6" height="2.6" fill="#F7D800"/>
<rect x="1196.8" y="347.8" width="2.4" height="2.4" fill="#EC9000"/>
<rect x="1207.8" y="341.8" width="2.4" height="2.4" fill="#F7D800"/>
<rect x="1178.5" y="342.5" width="3" height="3" fill="#1B75D0"/>
<rect x="1164.8" y="350.8" width="2.4" height="2.4" fill="#1B75D0"/>
<path d="M197,758 210,756 223,757 223,761 208,761 198,762Z" fill="#1B75D0"/>
<rect x="203" y="756" width="2" height="2" fill="#5B9A96"/>
<rect x="213" y="759" width="2" height="2" fill="#5B9A96"/>
<path d="M221,786 225,786 226,791 222,791Z" fill="#1B75D0"/>
<path d="M251,779 256,780 258,786 253,785Z" fill="#1B75D0"/>
<path d="M250,794 254,795 258,804 254,803Z" fill="#1B75D0"/>
<rect x="252.9" y="780.9" width="2.2" height="2.2" fill="#CD0000"/>
<rect x="222" y="787" width="2" height="2" fill="#F7D800"/>
<rect x="1283.8" y="1099.6" width="4" height="4" fill="#F7D800"/>
<rect x="1306.7" y="1100.5" width="4" height="4" fill="#F7D800"/>
<path d="M1317,1103 1325,1099 1335,1097 1343,1094 1344,1098 1336,1101 1326,1104Z" fill="#F7D800"/>
<rect x="1320.4" y="1099.4" width="3.2" height="3.2" fill="#CD0000"/>
<rect x="1329" y="1097" width="4" height="4" fill="#CD0000"/>
<rect x="1336.6" y="1095.6" width="2.8" height="2.8" fill="#CD0000"/>
<rect x="1325.5" y="1100.5" width="3" height="3" fill="#9DBF5E"/>
<path d="M1348,1090 1354,1083 1357,1086 1351,1092Z" fill="#1B75D0"/>
<rect x="1348.7" y="1087.7" width="2.6" height="2.6" fill="#F7D800"/>
<rect x="1359.5" y="1073.5" width="3" height="3" fill="#1B75D0"/>
<rect x="1362.7" y="1066.7" width="2.6" height="2.6" fill="#1B75D0"/>
<rect x="1110.5" y="903.5" width="3" height="3" fill="#1B75D0"/>
<rect x="1111.4" y="910.4" width="3.2" height="3.2" fill="#CD0000"/>
<rect x="1109.7" y="918.7" width="2.6" height="2.6" fill="#1B75D0"/>
<rect x="1106.8" y="924.8" width="2.4" height="2.4" fill="#F7D800"/>
<rect x="118" y="221" width="4" height="4" fill="#1B75D0"/>
<rect x="121.7" y="217.7" width="2.6" height="2.6" fill="#1B75D0"/>
<rect x="116.7" y="226.7" width="2.6" height="2.6" fill="#5B9A96"/>
<rect x="1678.7" y="398.7" width="2.6" height="2.6" fill="#CD0000"/>
<rect x="1684.7" y="400.7" width="2.6" height="2.6" fill="#F7D800"/>
<rect x="1690.7" y="402.7" width="2.6" height="2.6" fill="#CD0000"/>
<rect x="1698.7" y="394.7" width="2.6" height="2.6" fill="#CD0000"/>
<rect x="1710.7" y="390.7" width="2.6" height="2.6" fill="#F7D800"/>
<rect x="1723.7" y="382.7" width="2.6" height="2.6" fill="#CD0000"/>
<rect x="1733.7" y="376.7" width="2.6" height="2.6" fill="#CD0000"/>
<rect x="1666.7" y="405.7" width="2.6" height="2.6" fill="#CD0000"/>
<rect x="1658.7" y="409.7" width="2.6" height="2.6" fill="#F7D800"/>
<rect x="1616.7" y="492.7" width="2.6" height="2.6" fill="#CD0000"/>
<rect x="1630.5" y="495.5" width="3" height="3" fill="#CD0000"/>
<rect x="1649.5" y="491.5" width="3" height="3" fill="#CD0000"/>
<rect x="1655.7" y="498.7" width="2.6" height="2.6" fill="#F7D800"/>
<rect x="1610" y="488" width="4" height="4" fill="#1B75D0"/>
<rect x="1587.4" y="490.4" width="3.2" height="3.2" fill="#1B75D0"/>
<g fill="none" stroke="#333" stroke-width="3.3" stroke-linejoin="round" stroke-linecap="round">
<path d="M130.5,216 928.6,216 929.2,216.7 929.2,203.4 941,203.4 944.8,225.3 954.4,228.2 968.7,231 970.6,234.8 983,230.1 994.4,230.1 1004,234.8 1010.6,242.5 1021.1,240 1028.8,245.3 1037.4,251.1 1046,246.3 1055.5,244.4 1059.3,248.2 1072.7,248.8 1084.1,252 1095.6,252.6 1084.1,256.8 1072.7,261.6 1061.2,268.2 1051.7,275.9 1042.1,283.5 1032.6,291.1 1022.1,298.8 1015.4,302.6 1023.1,300.3 1034.5,297.8 1046,295 1053.6,293.1 1057,296.9 1054.5,303.5 1061.2,300.7 1065,304.5 1072.7,302.6 1082.2,298.8 1091.8,294 1101.3,292.1 1110.8,285.4 1120.4,280.6 1126.1,274.9 1135.6,272.1 1147.1,273 1141.4,277.8 1133.7,283.5 1126.1,291.1 1124.2,298.8 1129.9,293.1 1139.5,292.1 1149,296.9 1156.6,304.5 1166.2,306.4 1175.7,311.2 1183.4,304.5 1191,300.7 1206.3,300.3 1217.7,298.8 1226.3,297.8 1225.3,306.4 1233,310.2 1244.4,309.3 1248.2,316 1250.2,321.7 1256.8,325.5 1244.4,324.5 1234.9,326.5 1225.3,323.6 1219.6,322.6 1210.1,322.6 1200.5,326.5 1191,327.4 1183.4,332.2 1177.6,335 1175.7,330.3 1171.9,331.2 1168.1,328.4 1166.2,335 1160.5,340.8 1154.7,350.3 1149,357.9 1143.3,367.5 1137.6,376.1 1135.6,379.9 1141,376.8 1149.6,367.3 1157.3,357.7 1164.9,350.1 1170.6,341.5 1175.4,333.9 1174.4,341.5 1168.7,351 1163,361.5 1155.3,371.1 1152.5,380.6 1149.6,390.2 1147.7,401.6 1144.8,413.1 1142.4,424.5 1142.4,436 1143.9,447.4 1144.8,458.9 1146.8,468.4 1149.6,477.9 1155.3,482.7 1164.9,482.7 1174.4,477.9 1180.2,470.3 1185.9,460.8 1189.7,449.3 1189.7,439.8 1186.8,428.3 1182.1,416.9 1181.1,405.4 1182.1,395.9 1186.8,382.5 1189.7,371.1 1195.4,365.3 1204,359.6 1212.6,353.9 1216.4,348.2 1222.1,342.4 1225,334.8 1231.7,329.1 1241.2,332.9 1250.8,342.4 1262.2,346.3 1269.8,350.1 1274.6,359.6 1274.6,373 1271.8,384.4 1266,394 1258.4,399.7 1255.5,405.4 1261.3,413.1 1267.9,407.3 1272.7,399.7 1283.2,394.9 1290.8,397.8 1294.7,405.4 1296.6,418.8 1298.5,432.1 1297.5,443.6 1294.7,450.3 1288.9,447.4 1286.1,455 1280.3,460.8 1278.4,468.4 1271.8,477 1283.2,488.4 1292.7,488.4 1300.4,490.3 1309.9,488.4 1319.5,486.5 1329,479.8 1338.5,476 1353.8,471.3 1365.3,466.5 1376.7,460.8 1386.3,455 1395.8,447.4 1402.5,439.8 1399.6,432.1 1396.8,426.4 1401.5,422.6 1413,420.7 1424.4,420.3 1435.9,421.6 1441.6,424.5 1453.1,423.5 1462.6,419.7 1472.1,415 1477.9,411.1 1478.8,401.6 1476.9,394.9 1481.7,390.2 1491.2,382.5 1500,369.2 1485.7,387.4 1491.5,378.8 1498.6,371.6 1505.8,365.9 1514.4,361.3 1560.3,360.8 1614.8,360.1 1617,352.9 1622,350.1 1629.1,351.5 1634.2,348.6 1637.8,344.3 1639.2,340 1644.9,335.7 1649.2,330 1647.3,333.3 1650.7,318.3 1657.3,306.7 1669,286.7 1682.3,271.7 1689,280 1709,275 1724,286.7 1724,323.3 1727.3,336.7 1722.4,330 1723.8,335.7 1733.8,340 1735.3,348.6 1736.7,354.4 1743.9,357.2 1746.7,364.4 1742.4,373 1733.8,374.5 1723.8,377.3 1716.6,380.2 1709.5,381.6 1702.3,387.4 1693.7,378.8 1689.4,385.9 1686.5,393.1 1679.3,397.4 1672.2,400.3 1666.4,406 1660.7,404.6 1653.5,410.3 1649.2,417.5 1643.5,424.7 1639.2,431.8 1636.3,437.6 1634.9,443.3 1639.2,446.2 1640.6,450.5 1633.4,454.8 1629.1,459.1 1634.9,463.4 1639.2,467.7 1642.1,473.4 1644.9,479.1 1646.4,478.7 1654.2,478.7 1660,475.9 1660,470.8 1657.8,468 1653.5,467.2 1654.2,465.8 1659.3,466.5 1662.1,470.8 1662.4,477.3 1661.4,483 1652.1,483 1644.9,484.5 1642.1,481.6 1637.8,481.6 1633.4,487.3 1629.1,484.5 1624.8,485.9 1622,489.5 1617.7,492.3 1611.9,493.3 1606.2,505.3 1599,507.4 1591.9,511.7 1583.3,515.3 1568.9,521 1554.6,523.9 1544.5,524.6 1537.4,524.6 1544.5,527.5 1545.3,534.7 1543.1,546.1 1540.2,554.7 1534.5,561.9 1528.8,569.1 1521.6,577.7 1516.6,583.4 1513.3,588.2 1514.5,597.7 1509.7,612 1505,621.5 1495.4,638.2 1488.3,650.1 1487.1,654.9 1486.6,653 1490,669 1494,682 1500,695 1502,699 1503,712.6 1496,718 1486.6,722 1479,728 1471,737 1460,737 1450,741 1441,747 1433,754.6 1430,764 1418,764 1410,767 1402.7,772.7 1396,781 1392,789 1387,794.7 1383,800 1365.9,811.4 1351.6,821.4 1343,831.4 1334.4,848.6 1328.7,862.9 1327.3,877.2 1330.1,888.6 1334.4,911.5 1340.1,931.5 1347.3,951.5 1353,971.5 1360.1,991.5 1367.3,1011.5 1368.7,1028.7 1367.3,1057.3 1363,1067.3 1358.7,1073 1348.7,1078.7 1337.3,1078.7 1334.4,1071.6 1328.7,1057.3 1318.7,1051.6 1313,1031.6 1305.8,1020.1 1300.1,1011.5 1294.4,997.3 1288.7,980.1 1290.1,968.7 1293,954.4 1290.1,944.4 1283,934.4 1274.4,925.8 1265.8,912.9 1254.4,902.9 1242.9,904.3 1234.4,912.9 1222.9,914.4 1212.9,917.2 1212.9,910.1 1205.8,900.1 1197.2,894.3 1182.9,888.6 1165.8,885.8 1152.9,885.8 1148.6,892.9 1141.5,894.3 1137.2,877.2 1134.3,894.3 1125.7,892.9 1114.3,890.1 1102.9,892.9 1103.2,895.8 1094.6,898.6 1103.2,901.5 1097.4,914.4 1093.2,925.8 1103.2,931.5 1107.5,940.1 1098.9,941.5 1088.9,937.2 1074.6,934.4 1060.3,940.1 1051.7,934.4 1040.3,924.4 1028.8,914.4 1017.4,917.2 1006,921.5 988.8,915.8 970.2,912.9 960.2,917.2 945.9,922.9 940.2,914.4 937.4,927.2 928.8,938.7 917.3,944.4 903.1,951.5 888.8,957.2 880.2,964.4 871.6,973 868.7,977.2 863,985.8 855.9,997.3 857.3,1001.5 861.6,1005.8 864.5,1014.4 870.2,1034.4 873,1048.7 870.2,1053 860.2,1051.6 845.9,1050.1 837.3,1044.4 825.9,1040.1 815.9,1035.8 811.6,1024.4 804.4,1011.5 803,997.3 794.4,985.8 785.8,975.8 777.3,960.1 768.7,940.1 760.1,927.2 748.7,915.8 734.4,914.4 724.4,911.5 715.8,912.9 710.1,920.1 707.2,932.9 700.1,940.1 694.4,942.9 680.1,937.2 662.9,925.8 654.3,912.9 651.5,897.2 645.8,884.3 634.3,875.8 621.5,864.3 607.2,852.9 598.6,834.3 599.9,841.1 551.4,841.1 551.4,857.4 527.2,857.4 466.7,856.7 361.7,815 360,808.3 295,813.3 290,806.7 283.3,790 270,776.7 260,770 253.3,760 240,758.3 230,750 210,743.3 193.3,740 190,723.3 183.3,710 166.7,690 156.7,670 153.3,653.3 143.3,640 138.3,618.3 126.7,615 115,595 103.3,580 100,560 90,543.3 83.3,526.7 91.7,500 88.3,473.3 83.3,466.7 78.3,440 83.3,416.7 90,376.7 93.3,336.7 95,316.7 91.7,296.7 83.3,270 78.3,255 72.7,239.3 79,239 92.4,244.8 103.8,246.7 113.3,247.6 122.9,248.6 126.7,246.7 130.5,241 126.7,238 121,236 117,230.5 121,226.7 128.6,225.7 132.4,227.6 136,224.8 130.5,222 129,217.6Z"/>
<path d="M296,216 296,325 M95,316.7 121.7,318.3 128.3,333.3 146.7,340 176.7,336.7 206.7,331.7 236.7,326 298.3,325 M298.3,325 310,336.7 303.3,363.3 291.7,380 291.7,386.7 298.3,391.7 296.7,469.3 M88,469.5 469.3,469.5 M211.3,469.5 211.3,579 366.2,724.2 M383.2,469.5 383.2,685 363.3,685 365,700 368.3,723.3 378.3,751.7 371.7,763.3 363.3,781.7 365,800 360,808.3 M324,216 324,250 333.3,268.3 350,285 363.3,298.3 373.3,305 370,323.3 368.3,336.7 375,343.3 386.7,336.7 396.7,353.3 405,366.7 416.7,383.3 436.7,378.3 458.3,376.7 461.7,371.7 469.3,376.7 M469.3,361.2 469.3,506.4 M469.3,361.2 671.7,361.2 M671.7,216 671.7,506.4 M671.7,327.1 888.3,326.7 M671.7,433.8 823.3,434.3 840,440 853.3,438.3 866.7,440 880,445 888.3,451.7 M469.3,506.4 729.5,506.4 729.5,651.6 M527.3,506.4 527.3,857.4 M383.2,651.6 946.1,651.6 M729.5,542.7 926.7,542.7 M702.9,651.6 702.9,669.75 M701.5,669.75 701.2,833.1 598.6,833.1 M702.9,669.75 790,669.75 790,740 800,745 811.7,748.3 823.3,753.3 840,756.7 850,763.3 860,765 873.3,768.3 886.7,763.3 896.7,770 913.3,763.3 926.7,761.7 940,768.3 949.3,773.3 M949.3,773.3 948.3,670 946,650.7 M888.3,451.7 896.7,466.7 903.3,483.3 908.3,503.3 911.7,520 920,536.7 926.7,548.3 936.7,551.7 935,561.7 936.7,561.7 943.3,571.7 946,580 946,650.7 M913.3,521 1033.3,520 1038.3,526.7 M888.3,416 1045,416.7 M873.3,216 875,240 880,263.3 885,286.7 886.7,306.7 888.3,326.7 881.7,336.7 886.7,346.7 893.3,353.3 894,416 888.3,423.3 891.7,436.7 888.3,451.7 M1015,301.7 1013.3,323.3 996.7,336.7 1000,353.3 1001.7,370 1016.7,381.7 1026.7,390 1040,403.3 1045,416.7 1048.3,430 1046.7,440 1060,453.3 1070,461.7 1075,473.3 1070,483.3 1050,493.3 1053.3,506.7 1038.3,523.3 1035,536.7 1036,553.3 1036.3,520 1036.3,535.3 1040.1,548.6 1049.6,562 1057.3,575.3 1063,583 1074.4,586.8 1073.5,596.3 1068.7,604 1076.3,613.5 1085.9,623.1 1093.5,630.7 1094.5,642.1 1101.1,651.7 1104,657.4 1099.2,666.9 M1065,452 1142.5,452.2 M1061.2,300.7 1072.7,312.1 1091.8,317.9 1110.8,323.6 1122.3,327.4 1129.9,329.3 1137.6,335 1141.4,342.7 1139.5,348.4 1146.1,352.2 1149,357.9 M1152.7,482 1152.7,520 1152.7,560.1 1148.9,575.3 1152.7,586.8 1148.9,596.3 1141.2,605.9 1137.4,615.4 1135.5,623.1 M1180.2,478.9 1229.8,478.9 1271.8,477.6 M1231,479 1231.5,576.3 M1104,657.4 1106.9,646 1114.5,644 1124,647.9 1126,638.3 1133.6,634.5 1135.5,623.1 1145,619.2 1152.7,617.3 1164.1,623.1 1167.9,619.2 1177.5,620.2 1186.1,609.7 1192.7,615.4 1200.4,609.7 1208,600.2 1211.8,590.6 1221.4,588.7 1229,586.8 1231.9,576.3 1242.4,577.3 1248.1,584.9 1257.6,588.7 1267.2,592.5 1276.7,588.7 1286.3,589.7 1292,596.3 1294.8,600.2 1301.5,594.4 1307.3,581.1 1316.8,577.3 1320.6,569.6 1330.2,565.8 1341.6,558.2 1349.2,542.9 1353.1,527.6 1353.4,520 M1354.2,520 1354.2,471 M1355,520 1355,553.4 1400,553.4 1495.4,551.2 M1294.8,600.2 1297.7,613.5 1305.3,626.9 1313,634.5 1320.6,644 1332.1,642.1 1343.5,638.3 1355,634.5 1360.7,626.9 1366.4,619.2 1376,611.6 1379.8,600.2 1387.4,592.5 1402.5,578.6 1412,573.9 1416.8,564.3 1423.9,558.4 1429.9,559.6 1433.5,569.1 1443,573.9 1449,581 1456.1,582.2 M1456.1,582.2 1443,571.5 1433.5,562 1429.9,556 1419.2,556 1414.4,559.6 1404.9,557.2 1395.3,562 1384.6,571.5 1383.4,551.2 M1313,634.5 1305.3,638.3 1297.7,644 1288.2,651.7 1280.5,657.4 1272.9,663.1 1263.4,666 M948.3,669.8 1074.4,669.8 1078.2,678.4 1068.7,687.9 1085.9,688.9 1089.7,682.2 1093.5,670.8 M1099.2,667.9 1137.4,668.9 1137.4,665 1190.8,665.4 1263.4,666 1400,667.3 1490,668 M1320.6,667.9 1316.8,676.5 1305.3,682.2 1297.7,689.8 1286.3,691.8 1276.7,699.4 1267.2,703.2 1255.7,708.9 1248.1,716.6 1246.2,724.2 M1073,724.2 1269,724.2 1269.1,723.1 1299.6,716.4 1334,717.4 1341.6,721.2 1347.3,730.7 1379.8,730.7 1410.3,766 M1269.1,724 1272.9,735.5 1278.6,741.2 1290.1,750.8 1297.7,764.1 1307.3,775.6 1316.8,787 1326.3,800.4 1330.2,813 1330.1,811.4 1334.4,822.9 1343,828.6 M1095,666.7 1086.7,688.3 1080,700 1073.3,716.7 1065,733.3 1056.7,750 1048.3,763.3 1045,780 1046.7,796.7 1048.3,813.3 1051.7,826.7 1041.7,843.3 1035,860 1033.3,870 1087.4,870 1091.7,891.5 1090.3,900.1 M962.7,796.7 1046.7,796.7 M949.3,773.3 961.7,776.7 962.7,796.7 961.7,800 963.1,828.6 971.7,851.5 977.4,865.8 973.1,882.9 971.7,897.2 970.2,912.9 M1135,724 1126.7,870 1125.2,871.5 1125.7,891.5 M1208.3,724 1220,793.3 1223.3,813.3 1225,843.3 1223.3,870 1226.7,876.7 1228.6,880 1307.3,885.8 1307.3,892.9 1311.5,892.9 1313,877.2 1327.3,880 M1152.9,885.8 1151.5,882.9 1150,870 1225.8,870 M1507.3,545.3 1501.4,547.7 1495.9,552.4 1495.9,598.9 1513.3,598.9 M1376.7,462.7 1376.7,471.3 1505.7,470 M1516.6,583.4 1514.4,577.7 1508.7,573.4 1501.5,566.2 1498.6,557.6 1501.5,550.4 1510.1,546.1 1515.9,541.8 1523,537.5 1515.9,528.9 1508.7,520.3 1510.8,508.8 1515.9,500.2 1520.2,491.6 1514,483.3 1505.7,470 M1498.6,557.6 1502.9,569.1 1511.6,574.8 1515.9,583.4 1513.3,588.2 M1520.2,491.6 1547.4,506 M1560.3,360.8 1561.7,373 1560.3,384.5 1559.6,398.8 1560.3,411.7 1564.6,416 1566,430.4 1566,443.3 1561.7,456.2 1558.6,467.7 1557.4,470.1 1555.3,494.5 1548.8,504.5 M1614.8,360.1 1611.9,368.7 1614.1,377.3 1609.1,383.1 1601.9,385.9 1599,394.5 1594.7,406 1590.4,416 1587.6,427.5 1585.4,443.3 M1629.1,351.5 1629.9,416 1634.2,424.7 1637.8,430.4 1639.2,431.8 M1566,443.3 1585.4,444 1620.5,444.7 1627.7,440.4 1634.9,438.3 M1558.6,467.7 1606.2,468.4 1619.8,469.1 1622,476.3 1624.8,480.6 M1606.9,468.7 1608.4,493.1 M1537.4,524.6 1548.8,504.5 1566,498.8 1583.3,495.2 1606.2,493.1 1617.7,493.1 M1537.4,524.6 1544.5,510.3 1560.3,507.4 1577.5,503.1 1591.9,501.7 1599,503.8 1606.2,505.3"/>
<circle cx="124.8" cy="231.4" r="4.6" fill="#333" stroke-width="2.5"/>
<path d="M134.3,226.7 139,228.6 138,238 136.2,245.7 142.9,251.4 145.7,253.3 143.8,261 141,268.6 140,276.2 136.2,281.9 128.6,285.7 124.8,288.6" stroke-width="6.8"/>
<path d="M126.7,253.3 124.8,261 121,268.6 119,276.2 122.9,281.9 128,283" stroke-width="5.5"/>
<path d="M132,262 134,270 130,278" stroke-width="5.5"/>
<path d="M138,240 133,246 136,252" stroke-width="5.5"/>
<path d="M140,230 142,236" stroke-width="5"/>
<path d="M92,289 99,291 95,294" stroke-width="4"/>
<path d="M93,299 98,301 95,304" stroke-width="4"/>
<path d="M140,610 145,620 148.3,631.7 151.7,635" stroke-width="4.5"/>
<path d="M144,612 147,614" stroke-width="4"/>
<path d="M1483.5,559.6 1481,569 1471.6,571.5 1469.2,581 1470.4,593 1474,600 1466.8,604.9 1457.3,595.3 1450.1,600.1 1462.1,612 1476.4,619.2 1466.8,628.7 1464.4,638.2 1474,643 1466.8,652.5 1488.3,652.5" stroke-width="3.6"/>
<path d="M1490.7,559.6 1488.3,571.5 1483.5,581 1484.7,595.3 1488.3,604.9 1490.7,614.4 1497.8,612 1505,619.2 1495.4,633.5 1488.3,645.4" stroke-width="3.6"/>
<path d="M1476,619 1462,625 1455,622" stroke-width="3.4"/>
<path d="M1474,643 1460,640 1450,646" stroke-width="3.4"/>
<path d="M1480,650 1465,655 1452,660" stroke-width="3.4"/>
<path d="M1460,605.7 1465.6,615.3 1473.3,622.9 1477,634.4" stroke-width="3.4"/>
<path d="M1458,612 1470,626" stroke-width="3.4"/>
<path d="M1462,632 1471,640" stroke-width="3.4"/>
<path d="M1484.7,600 1488.5,611.5 1494.3,609.5 1498,619 1496.2,630.5 1490.5,642 1486.6,653.4" stroke-width="3.4"/>
<path d="M1478,575 1476,590 1480,598" stroke-width="3.4"/>
<path d="M1487,578 1489,590" stroke-width="3.4"/>
<path d="M1463.7,676.3 1467.6,684 1477,682 1484.7,680 1488.5,687.8 1482.8,699.2 1486.6,706.9 1492.4,699.2 1494.3,689.7" stroke-width="4"/>
<path d="M1454.2,706.9 1461.8,714.5 1469.5,706.9 1477,710.7 1473.3,720.2 1465.6,722.1 1456,720.2 1461.8,727.9 1471.4,729.8 1477,724" stroke-width="4"/>
<path d="M1444.7,733.6 1442.8,739.3" stroke-width="4"/>
<path d="M1488,668 1494,682 1500,695" stroke-width="3.3"/>
<path d="M1391,784 1393,787" stroke-width="5"/>
<path d="M1346,818 1349,822" stroke-width="4.5"/>
<path d="M1371,803 1374,806" stroke-width="4"/>
<path d="M1288.7,978.7 1297.3,983 1293,988.7" stroke-width="5"/>
<path d="M1304.4,1017.3 1310,1021.5" stroke-width="5.5"/>
<path d="M1335.8,1077.3 1343,1078.7" stroke-width="6.5"/>
<path d="M1212,912 1214,915" stroke-width="5"/>
<path d="M856,998 859,1004 856,1008" stroke-width="4.5"/>
<path d="M884,957 889,953 893,957" stroke-width="4"/>
<path d="M872,966 877,963" stroke-width="4"/>
<path d="M937,915 941,911" stroke-width="4"/>
<path d="M1146,377 1160,357 1173,337" stroke-width="5.5"/>
<path d="M1207.5,352 1209.5,366" stroke-width="5.5"/>
<path d="M1285,488 1288,489" stroke-width="5"/>
<path d="M1163,332 1166,338" stroke-width="3.3"/>
<path d="M1158,334 1160,340" stroke-width="3.3"/>
<path d="M1636,494 1645,492.5" stroke-width="5.5"/>
<path d="M1655,497 1660,494.5" stroke-width="6.5"/>
<path d="M1617,484 1622,481" stroke-width="4"/>
<path d="M1551,527 1556,523" stroke-width="4.5"/>
<path d="M1540,533 1552,527" stroke-width="4"/>
</g>
<text x="1796" y="529" class="lh">Relative pop. size</text>
<rect x="1795" y="549.0" width="32" height="32.1" fill="#1B75D0"/><text x="1841" y="572.5" class="lt">-0.099-9.9</text>
<rect x="1795" y="580.85" width="32" height="32.1" fill="#5B9A96"/><text x="1841" y="604.35" class="lt">9.9-19.8</text>
<rect x="1795" y="612.7" width="32" height="32.1" fill="#9DBF5E"/><text x="1841" y="636.2" class="lt">19.8-29.7</text>
<rect x="1795" y="644.55" width="32" height="32.1" fill="#DDEE22"/><text x="1841" y="668.05" class="lt">39.6-49.5</text>
<rect x="1795" y="676.4" width="32" height="32.1" fill="#F7D800"/><text x="1841" y="699.9" class="lt">49.5-59.4</text>
<rect x="1795" y="708.25" width="32" height="32.1" fill="#EC9000"/><text x="1841" y="731.75" class="lt">69.3-79.2</text>
<rect x="1795" y="740.1" width="32" height="32.1" fill="#DD4B00"/><text x="1841" y="763.6" class="lt">79.2-89.1</text>
<rect x="1795" y="771.95" width="32" height="32.1" fill="#CD0000"/><text x="1841" y="795.45" class="lt">89.1-99.1</text>

</svg>
</body></html>
